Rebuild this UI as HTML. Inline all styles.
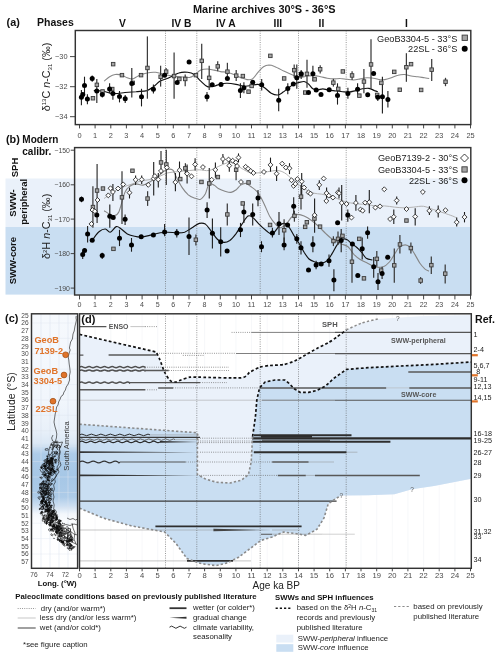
<!DOCTYPE html>
<html><head><meta charset="utf-8"><title>Figure</title>
<style>html,body{margin:0;padding:0;background:#fff}svg{display:block}</style></head>
<body>
<svg width="500" height="656" viewBox="0 0 500 656" font-family='"Liberation Sans", sans-serif'>
<rect width="500" height="656" fill="#fff"/>
<text x="264.3" y="12.9" font-size="10.9" text-anchor="middle" font-weight="bold" fill="#111" >Marine archives 30°S - 36°S</text>
<text x="6.6" y="25.5" font-size="10.8" text-anchor="start" font-weight="bold" fill="#111" >(a)</text>
<text x="37.0" y="25.5" font-size="10.5" text-anchor="start" font-weight="bold" fill="#111" >Phases</text>
<text x="122.4" y="27.2" font-size="10.3" text-anchor="middle" font-weight="bold" fill="#111" >V</text>
<text x="181.4" y="27.2" font-size="10.3" text-anchor="middle" font-weight="bold" fill="#111" >IV B</text>
<text x="225.8" y="27.2" font-size="10.3" text-anchor="middle" font-weight="bold" fill="#111" >IV A</text>
<text x="277.9" y="27.2" font-size="10.3" text-anchor="middle" font-weight="bold" fill="#111" >III</text>
<text x="321.4" y="27.2" font-size="10.3" text-anchor="middle" font-weight="bold" fill="#111" >II</text>
<text x="406.5" y="27.2" font-size="10.3" text-anchor="middle" font-weight="bold" fill="#111" >I</text>
<line x1="165.5" y1="30.5" x2="165.5" y2="124.6" stroke="#555" stroke-width="0.6" stroke-dasharray="1 1.3"/>
<line x1="196.8" y1="30.5" x2="196.8" y2="124.6" stroke="#555" stroke-width="0.6" stroke-dasharray="1 1.3"/>
<line x1="260.2" y1="30.5" x2="260.2" y2="124.6" stroke="#555" stroke-width="0.6" stroke-dasharray="1 1.3"/>
<line x1="298.5" y1="30.5" x2="298.5" y2="124.6" stroke="#555" stroke-width="0.6" stroke-dasharray="1 1.3"/>
<line x1="346.2" y1="30.5" x2="346.2" y2="124.6" stroke="#555" stroke-width="0.6" stroke-dasharray="1 1.3"/>
<path d="M104.1 81.1C105.0 80.4 107.8 77.8 109.6 76.7C111.4 75.6 113.1 74.8 115.1 74.5C117.2 74.2 119.9 74.6 121.9 75.2C123.9 75.7 125.4 77.2 127.2 77.8C129.0 78.4 130.9 79.2 132.7 78.9C134.5 78.6 135.8 77.0 138.2 76.0C140.6 75.1 144.1 73.6 147.0 73.0C149.9 72.3 152.9 72.0 155.8 72.3C158.7 72.6 161.7 73.9 164.6 74.5C167.5 75.1 170.8 75.7 173.4 76.0C176.0 76.4 177.3 76.5 180.0 76.7C182.7 76.9 187.4 77.6 189.8 77.4C192.2 77.1 192.4 76.4 194.2 75.2C196.0 74.0 198.6 71.1 200.8 70.1C203.0 69.1 205.2 69.0 207.4 69.0C209.6 69.0 211.8 69.7 214.0 70.1C216.2 70.5 218.4 71.3 220.6 71.6C222.8 72.0 225.0 71.8 227.2 72.3C229.4 72.8 231.6 73.7 233.8 74.5C236.0 75.3 238.2 76.5 240.4 77.4C242.6 78.2 245.0 79.3 247.0 79.6C249.0 79.8 250.7 80.1 252.5 78.9C254.3 77.7 256.2 74.3 258.0 72.3C259.8 70.3 261.7 68.0 263.5 66.8C265.3 65.6 267.2 65.1 269.0 65.0C270.8 65.0 272.1 65.4 274.5 66.4C276.9 67.3 280.7 69.5 283.2 70.8C285.7 72.0 287.8 73.0 289.8 73.8C291.8 74.7 293.5 75.5 295.3 76.0C297.1 76.6 298.8 77.4 300.8 77.4C302.8 77.4 305.2 76.3 307.4 76.0C309.6 75.8 311.8 75.5 314.0 75.6C316.2 75.7 318.4 76.3 320.6 76.7C322.8 77.1 325.0 77.9 327.2 78.2C329.4 78.6 331.6 78.9 333.8 78.9C336.0 78.9 338.2 78.4 340.4 78.5C342.6 78.5 344.8 79.1 347.0 79.3C349.2 79.6 351.4 80.1 353.6 80.0C355.8 79.9 358.0 79.3 360.2 78.9C362.4 78.5 364.6 77.9 366.8 77.8C369.0 77.7 371.2 78.0 373.4 78.2C375.6 78.5 378.1 79.3 380.0 79.6C381.9 79.8 382.9 79.9 384.8 79.6C386.7 79.3 389.2 78.5 391.4 77.8C393.6 77.1 395.8 75.7 398.0 75.2C400.2 74.6 402.4 74.4 404.6 74.5C406.8 74.7 409.0 75.7 411.2 76.0C413.4 76.4 415.6 76.4 417.8 76.7C420.0 77.0 422.5 77.5 424.4 77.8C426.3 78.1 428.4 78.4 429.2 78.5" fill="none" stroke="#888" stroke-width="1.1"/>
<path d="M93.8 90.6C95.3 90.6 99.8 90.5 103.0 91.0C106.2 91.5 109.2 93.4 112.9 93.6C116.6 93.9 121.2 92.9 125.0 92.5C128.9 92.2 132.3 92.0 136.0 91.7C139.7 91.3 144.1 91.4 147.0 90.6C149.9 89.7 151.4 88.2 153.6 86.6C155.8 85.0 157.6 82.6 160.2 81.1C162.8 79.6 165.9 79.2 169.0 77.8C172.1 76.4 175.7 73.9 178.8 73.0C181.9 72.0 185.0 72.0 187.6 72.3C190.2 72.6 192.0 73.0 194.2 74.5C196.4 76.0 198.6 79.1 200.8 81.1C203.0 83.1 205.2 85.8 207.4 86.6C209.6 87.4 211.8 86.6 214.0 86.2C216.2 85.7 218.4 84.4 220.6 84.0C222.8 83.5 224.6 83.2 227.2 83.3C229.8 83.4 233.1 83.9 236.0 84.4C238.9 84.9 242.2 86.0 244.8 86.2C247.4 86.3 249.2 85.8 251.4 85.5C253.6 85.2 255.8 84.0 258.0 84.4C260.2 84.8 262.4 86.2 264.6 87.7C266.8 89.2 269.0 92.0 271.2 93.2C273.4 94.4 275.8 95.2 277.8 95.0C279.8 94.8 281.5 93.2 283.2 92.1C284.9 91.0 286.1 89.6 287.8 88.4C289.5 87.1 291.5 85.4 293.3 84.4C295.1 83.5 296.8 83.1 298.6 82.6C300.4 82.2 302.5 81.3 304.1 81.5C305.8 81.8 307.0 82.8 308.5 84.0C310.0 85.2 311.4 87.8 312.9 88.8C314.4 89.8 315.7 89.9 317.3 89.9C319.0 89.9 321.0 88.8 322.8 88.8C324.6 88.8 326.1 89.8 328.3 90.1C330.5 90.5 333.6 90.7 336.0 91.0C338.4 91.3 340.4 91.5 342.6 91.7C344.8 91.9 347.0 92.3 349.2 92.1C351.4 91.9 353.6 91.1 355.8 90.6C358.0 90.0 360.2 89.2 362.4 88.8C364.6 88.4 367.0 88.1 369.0 88.4C371.0 88.7 373.0 90.0 374.5 90.6C376.0 91.1 377.3 91.5 377.8 91.7" fill="none" stroke="#111" stroke-width="1.15"/>
<line x1="96.8" y1="78.9" x2="96.8" y2="103.1" stroke="#3c3c3c" stroke-width="1.25"/>
<line x1="147.4" y1="36.4" x2="147.4" y2="98.7" stroke="#3c3c3c" stroke-width="1.25"/>
<line x1="160.6" y1="65.7" x2="160.6" y2="86.6" stroke="#3c3c3c" stroke-width="1.25"/>
<line x1="166.1" y1="67.9" x2="166.1" y2="75.6" stroke="#3c3c3c" stroke-width="1.25"/>
<line x1="174.1" y1="52.5" x2="174.1" y2="98.7" stroke="#3c3c3c" stroke-width="1.25"/>
<line x1="185.2" y1="74.5" x2="185.2" y2="86.2" stroke="#3c3c3c" stroke-width="1.25"/>
<line x1="201.7" y1="43.7" x2="201.7" y2="78.9" stroke="#3c3c3c" stroke-width="1.25"/>
<line x1="209.2" y1="65.7" x2="209.2" y2="89.9" stroke="#3c3c3c" stroke-width="1.25"/>
<line x1="217.7" y1="61.3" x2="217.7" y2="71.2" stroke="#3c3c3c" stroke-width="1.25"/>
<line x1="227.4" y1="62.8" x2="227.4" y2="78.9" stroke="#3c3c3c" stroke-width="1.25"/>
<line x1="236.2" y1="70.1" x2="236.2" y2="81.1" stroke="#3c3c3c" stroke-width="1.25"/>
<line x1="294.2" y1="64.6" x2="294.2" y2="77.8" stroke="#3c3c3c" stroke-width="1.25"/>
<line x1="301.2" y1="70.1" x2="301.2" y2="78.9" stroke="#3c3c3c" stroke-width="1.25"/>
<line x1="307.0" y1="59.8" x2="307.0" y2="87.7" stroke="#3c3c3c" stroke-width="1.25"/>
<line x1="320.2" y1="65.3" x2="320.2" y2="73.4" stroke="#3c3c3c" stroke-width="1.25"/>
<line x1="333.4" y1="78.9" x2="333.4" y2="86.6" stroke="#3c3c3c" stroke-width="1.25"/>
<line x1="352.1" y1="71.2" x2="352.1" y2="80.0" stroke="#3c3c3c" stroke-width="1.25"/>
<line x1="363.9" y1="69.0" x2="363.9" y2="93.2" stroke="#3c3c3c" stroke-width="1.25"/>
<line x1="371.0" y1="39.3" x2="371.0" y2="88.8" stroke="#3c3c3c" stroke-width="1.25"/>
<line x1="406.4" y1="53.2" x2="406.4" y2="81.8" stroke="#3c3c3c" stroke-width="1.25"/>
<line x1="431.7" y1="59.1" x2="431.7" y2="81.1" stroke="#3c3c3c" stroke-width="1.25"/>
<line x1="445.5" y1="77.8" x2="445.5" y2="86.2" stroke="#3c3c3c" stroke-width="1.25"/>
<line x1="81.4" y1="89.9" x2="81.4" y2="105.3" stroke="#1c1c1c" stroke-width="1.1"/>
<line x1="84.5" y1="76.7" x2="84.5" y2="93.2" stroke="#1c1c1c" stroke-width="1.1"/>
<line x1="87.4" y1="94.3" x2="87.4" y2="104.2" stroke="#1c1c1c" stroke-width="1.1"/>
<line x1="92.2" y1="75.6" x2="92.2" y2="81.8" stroke="#1c1c1c" stroke-width="1.1"/>
<line x1="102.3" y1="91.0" x2="102.3" y2="97.6" stroke="#1c1c1c" stroke-width="1.1"/>
<line x1="109.6" y1="83.3" x2="109.6" y2="93.2" stroke="#1c1c1c" stroke-width="1.1"/>
<line x1="112.9" y1="87.7" x2="112.9" y2="99.8" stroke="#1c1c1c" stroke-width="1.1"/>
<line x1="119.5" y1="91.0" x2="119.5" y2="102.4" stroke="#1c1c1c" stroke-width="1.1"/>
<line x1="125.2" y1="95.0" x2="125.2" y2="103.1" stroke="#1c1c1c" stroke-width="1.1"/>
<line x1="131.8" y1="67.9" x2="131.8" y2="97.6" stroke="#1c1c1c" stroke-width="1.1"/>
<line x1="141.5" y1="88.8" x2="141.5" y2="106.4" stroke="#1c1c1c" stroke-width="1.1"/>
<line x1="153.4" y1="84.4" x2="153.4" y2="93.6" stroke="#1c1c1c" stroke-width="1.1"/>
<line x1="207.0" y1="92.1" x2="207.0" y2="101.6" stroke="#1c1c1c" stroke-width="1.1"/>
<line x1="240.4" y1="83.3" x2="240.4" y2="98.0" stroke="#1c1c1c" stroke-width="1.1"/>
<line x1="243.9" y1="82.2" x2="243.9" y2="93.2" stroke="#1c1c1c" stroke-width="1.1"/>
<line x1="261.7" y1="78.9" x2="261.7" y2="90.6" stroke="#1c1c1c" stroke-width="1.1"/>
<line x1="278.7" y1="88.8" x2="278.7" y2="111.2" stroke="#1c1c1c" stroke-width="1.1"/>
<line x1="287.8" y1="83.3" x2="287.8" y2="94.3" stroke="#1c1c1c" stroke-width="1.1"/>
<line x1="296.8" y1="64.6" x2="296.8" y2="88.8" stroke="#1c1c1c" stroke-width="1.1"/>
<line x1="312.9" y1="65.7" x2="312.9" y2="81.1" stroke="#1c1c1c" stroke-width="1.1"/>
<line x1="337.5" y1="83.3" x2="337.5" y2="104.6" stroke="#1c1c1c" stroke-width="1.1"/>
<line x1="347.9" y1="87.7" x2="347.9" y2="98.7" stroke="#1c1c1c" stroke-width="1.1"/>
<line x1="357.6" y1="83.3" x2="357.6" y2="94.3" stroke="#1c1c1c" stroke-width="1.1"/>
<line x1="377.8" y1="94.3" x2="377.8" y2="100.9" stroke="#1c1c1c" stroke-width="1.1"/>
<line x1="382.4" y1="76.7" x2="382.4" y2="113.4" stroke="#1c1c1c" stroke-width="1.1"/>
<line x1="387.9" y1="91.0" x2="387.9" y2="107.5" stroke="#1c1c1c" stroke-width="1.1"/>
<rect x="91.2" y="96.5" width="3.5" height="3.5" fill="#a6a6a6" stroke="#3a3a3a" stroke-width="0.9"/>
<rect x="95.1" y="83.1" width="3.5" height="3.5" fill="#a6a6a6" stroke="#3a3a3a" stroke-width="0.9"/>
<rect x="100.8" y="89.7" width="3.5" height="3.5" fill="#a6a6a6" stroke="#3a3a3a" stroke-width="0.9"/>
<rect x="111.4" y="62.4" width="3.5" height="3.5" fill="#a6a6a6" stroke="#3a3a3a" stroke-width="0.9"/>
<rect x="110.5" y="87.3" width="3.5" height="3.5" fill="#a6a6a6" stroke="#3a3a3a" stroke-width="0.9"/>
<rect x="120.2" y="73.4" width="3.5" height="3.5" fill="#a6a6a6" stroke="#3a3a3a" stroke-width="0.9"/>
<rect x="131.0" y="81.1" width="3.5" height="3.5" fill="#a6a6a6" stroke="#3a3a3a" stroke-width="0.9"/>
<rect x="139.3" y="73.4" width="3.5" height="3.5" fill="#a6a6a6" stroke="#3a3a3a" stroke-width="0.9"/>
<rect x="145.7" y="66.2" width="3.5" height="3.5" fill="#a6a6a6" stroke="#3a3a3a" stroke-width="0.9"/>
<rect x="158.9" y="75.0" width="3.5" height="3.5" fill="#a6a6a6" stroke="#3a3a3a" stroke-width="0.9"/>
<rect x="164.4" y="69.9" width="3.5" height="3.5" fill="#a6a6a6" stroke="#3a3a3a" stroke-width="0.9"/>
<rect x="172.3" y="74.3" width="3.5" height="3.5" fill="#a6a6a6" stroke="#3a3a3a" stroke-width="0.9"/>
<rect x="177.6" y="77.2" width="3.5" height="3.5" fill="#a6a6a6" stroke="#3a3a3a" stroke-width="0.9"/>
<rect x="183.5" y="77.2" width="3.5" height="3.5" fill="#a6a6a6" stroke="#3a3a3a" stroke-width="0.9"/>
<rect x="194.2" y="73.4" width="3.5" height="3.5" fill="#a6a6a6" stroke="#3a3a3a" stroke-width="0.9"/>
<rect x="200.0" y="59.1" width="3.5" height="3.5" fill="#a6a6a6" stroke="#3a3a3a" stroke-width="0.9"/>
<rect x="207.4" y="76.1" width="3.5" height="3.5" fill="#a6a6a6" stroke="#3a3a3a" stroke-width="0.9"/>
<rect x="216.0" y="64.6" width="3.5" height="3.5" fill="#a6a6a6" stroke="#3a3a3a" stroke-width="0.9"/>
<rect x="225.7" y="69.9" width="3.5" height="3.5" fill="#a6a6a6" stroke="#3a3a3a" stroke-width="0.9"/>
<rect x="234.5" y="73.9" width="3.5" height="3.5" fill="#a6a6a6" stroke="#3a3a3a" stroke-width="0.9"/>
<rect x="241.1" y="74.3" width="3.5" height="3.5" fill="#a6a6a6" stroke="#3a3a3a" stroke-width="0.9"/>
<rect x="246.8" y="89.9" width="3.5" height="3.5" fill="#a6a6a6" stroke="#3a3a3a" stroke-width="0.9"/>
<rect x="249.9" y="84.2" width="3.5" height="3.5" fill="#a6a6a6" stroke="#3a3a3a" stroke-width="0.9"/>
<rect x="268.6" y="54.1" width="3.5" height="3.5" fill="#a6a6a6" stroke="#3a3a3a" stroke-width="0.9"/>
<rect x="282.4" y="76.7" width="3.5" height="3.5" fill="#a6a6a6" stroke="#3a3a3a" stroke-width="0.9"/>
<rect x="292.5" y="68.4" width="3.5" height="3.5" fill="#a6a6a6" stroke="#3a3a3a" stroke-width="0.9"/>
<rect x="299.5" y="73.0" width="3.5" height="3.5" fill="#a6a6a6" stroke="#3a3a3a" stroke-width="0.9"/>
<rect x="305.2" y="72.1" width="3.5" height="3.5" fill="#a6a6a6" stroke="#3a3a3a" stroke-width="0.9"/>
<rect x="303.5" y="90.8" width="3.5" height="3.5" fill="#a6a6a6" stroke="#3a3a3a" stroke-width="0.9"/>
<rect x="312.9" y="77.6" width="3.5" height="3.5" fill="#a6a6a6" stroke="#3a3a3a" stroke-width="0.9"/>
<rect x="318.4" y="67.5" width="3.5" height="3.5" fill="#a6a6a6" stroke="#3a3a3a" stroke-width="0.9"/>
<rect x="331.6" y="80.9" width="3.5" height="3.5" fill="#a6a6a6" stroke="#3a3a3a" stroke-width="0.9"/>
<rect x="336.5" y="87.1" width="3.5" height="3.5" fill="#a6a6a6" stroke="#3a3a3a" stroke-width="0.9"/>
<rect x="341.1" y="69.7" width="3.5" height="3.5" fill="#a6a6a6" stroke="#3a3a3a" stroke-width="0.9"/>
<rect x="350.3" y="73.7" width="3.5" height="3.5" fill="#a6a6a6" stroke="#3a3a3a" stroke-width="0.9"/>
<rect x="357.6" y="93.9" width="3.5" height="3.5" fill="#a6a6a6" stroke="#3a3a3a" stroke-width="0.9"/>
<rect x="362.2" y="79.8" width="3.5" height="3.5" fill="#a6a6a6" stroke="#3a3a3a" stroke-width="0.9"/>
<rect x="369.3" y="62.7" width="3.5" height="3.5" fill="#a6a6a6" stroke="#3a3a3a" stroke-width="0.9"/>
<rect x="375.4" y="93.2" width="3.5" height="3.5" fill="#a6a6a6" stroke="#3a3a3a" stroke-width="0.9"/>
<rect x="379.6" y="81.1" width="3.5" height="3.5" fill="#a6a6a6" stroke="#3a3a3a" stroke-width="0.9"/>
<rect x="392.5" y="70.1" width="3.5" height="3.5" fill="#a6a6a6" stroke="#3a3a3a" stroke-width="0.9"/>
<rect x="398.0" y="88.0" width="3.5" height="3.5" fill="#a6a6a6" stroke="#3a3a3a" stroke-width="0.9"/>
<rect x="404.6" y="65.5" width="3.5" height="3.5" fill="#a6a6a6" stroke="#3a3a3a" stroke-width="0.9"/>
<rect x="409.3" y="62.4" width="3.5" height="3.5" fill="#a6a6a6" stroke="#3a3a3a" stroke-width="0.9"/>
<rect x="419.4" y="88.2" width="3.5" height="3.5" fill="#a6a6a6" stroke="#3a3a3a" stroke-width="0.9"/>
<rect x="429.9" y="67.9" width="3.5" height="3.5" fill="#a6a6a6" stroke="#3a3a3a" stroke-width="0.9"/>
<rect x="443.8" y="80.0" width="3.5" height="3.5" fill="#a6a6a6" stroke="#3a3a3a" stroke-width="0.9"/>
<circle cx="81.4" cy="97.2" r="2.5" fill="#000"/>
<circle cx="82.8" cy="94.5" r="2.5" fill="#000"/>
<circle cx="84.5" cy="85.5" r="2.5" fill="#000"/>
<circle cx="87.4" cy="99.1" r="2.5" fill="#000"/>
<circle cx="92.2" cy="78.5" r="2.5" fill="#000"/>
<circle cx="96.8" cy="91.0" r="2.5" fill="#000"/>
<circle cx="102.3" cy="94.5" r="2.5" fill="#000"/>
<circle cx="109.6" cy="89.0" r="2.5" fill="#000"/>
<circle cx="112.9" cy="93.6" r="2.5" fill="#000"/>
<circle cx="119.5" cy="96.5" r="2.5" fill="#000"/>
<circle cx="125.2" cy="98.7" r="2.5" fill="#000"/>
<circle cx="131.8" cy="83.5" r="2.5" fill="#000"/>
<circle cx="141.5" cy="96.7" r="2.5" fill="#000"/>
<circle cx="153.4" cy="89.2" r="2.5" fill="#000"/>
<circle cx="164.6" cy="75.2" r="2.5" fill="#000"/>
<circle cx="177.2" cy="82.6" r="2.5" fill="#000"/>
<circle cx="189.1" cy="62.0" r="2.5" fill="#000"/>
<circle cx="207.0" cy="96.7" r="2.5" fill="#000"/>
<circle cx="212.2" cy="84.8" r="2.5" fill="#000"/>
<circle cx="221.0" cy="84.4" r="2.5" fill="#000"/>
<circle cx="227.4" cy="78.5" r="2.5" fill="#000"/>
<circle cx="240.4" cy="90.6" r="2.5" fill="#000"/>
<circle cx="243.9" cy="87.7" r="2.5" fill="#000"/>
<circle cx="252.7" cy="82.2" r="2.5" fill="#000"/>
<circle cx="261.7" cy="84.8" r="2.5" fill="#000"/>
<circle cx="278.7" cy="100.2" r="2.5" fill="#000"/>
<circle cx="287.8" cy="88.4" r="2.5" fill="#000"/>
<circle cx="293.3" cy="84.0" r="2.5" fill="#000"/>
<circle cx="296.8" cy="77.8" r="2.5" fill="#000"/>
<circle cx="301.2" cy="73.8" r="2.5" fill="#000"/>
<circle cx="308.5" cy="92.5" r="2.5" fill="#000"/>
<circle cx="312.9" cy="73.8" r="2.5" fill="#000"/>
<circle cx="316.2" cy="89.9" r="2.5" fill="#000"/>
<circle cx="321.0" cy="94.5" r="2.5" fill="#000"/>
<circle cx="329.2" cy="89.7" r="2.5" fill="#000"/>
<circle cx="337.5" cy="95.4" r="2.5" fill="#000"/>
<circle cx="347.9" cy="93.4" r="2.5" fill="#000"/>
<circle cx="357.6" cy="89.2" r="2.5" fill="#000"/>
<circle cx="367.7" cy="94.7" r="2.5" fill="#000"/>
<circle cx="373.6" cy="73.4" r="2.5" fill="#000"/>
<circle cx="377.8" cy="97.2" r="2.5" fill="#000"/>
<circle cx="382.4" cy="96.7" r="2.5" fill="#000"/>
<circle cx="387.9" cy="99.4" r="2.5" fill="#000"/>
<rect x="75.3" y="30.5" width="395.5" height="94.1" fill="none" stroke="#333" stroke-width="1.45"/>
<line x1="70.0" y1="56.6" x2="75.3" y2="56.6" stroke="#333" stroke-width="0.9"/>
<text x="67.6" y="59.3" font-size="7.4" text-anchor="end" font-weight="normal" fill="#4a4a4a" >−30</text>
<line x1="70.0" y1="86.7" x2="75.3" y2="86.7" stroke="#333" stroke-width="0.9"/>
<text x="67.6" y="89.4" font-size="7.4" text-anchor="end" font-weight="normal" fill="#4a4a4a" >−32</text>
<line x1="70.0" y1="116.7" x2="75.3" y2="116.7" stroke="#333" stroke-width="0.9"/>
<text x="67.6" y="119.4" font-size="7.4" text-anchor="end" font-weight="normal" fill="#4a4a4a" >−34</text>
<line x1="79.5" y1="124.6" x2="79.5" y2="128.4" stroke="#333" stroke-width="0.9"/>
<text x="79.5" y="137.9" font-size="7.4" text-anchor="middle" font-weight="normal" fill="#4a4a4a" >0</text>
<line x1="95.1" y1="124.6" x2="95.1" y2="128.4" stroke="#333" stroke-width="0.9"/>
<text x="95.1" y="137.9" font-size="7.4" text-anchor="middle" font-weight="normal" fill="#4a4a4a" >1</text>
<line x1="110.8" y1="124.6" x2="110.8" y2="128.4" stroke="#333" stroke-width="0.9"/>
<text x="110.8" y="137.9" font-size="7.4" text-anchor="middle" font-weight="normal" fill="#4a4a4a" >2</text>
<line x1="126.4" y1="124.6" x2="126.4" y2="128.4" stroke="#333" stroke-width="0.9"/>
<text x="126.4" y="137.9" font-size="7.4" text-anchor="middle" font-weight="normal" fill="#4a4a4a" >3</text>
<line x1="142.1" y1="124.6" x2="142.1" y2="128.4" stroke="#333" stroke-width="0.9"/>
<text x="142.1" y="137.9" font-size="7.4" text-anchor="middle" font-weight="normal" fill="#4a4a4a" >4</text>
<line x1="157.7" y1="124.6" x2="157.7" y2="128.4" stroke="#333" stroke-width="0.9"/>
<text x="157.7" y="137.9" font-size="7.4" text-anchor="middle" font-weight="normal" fill="#4a4a4a" >5</text>
<line x1="173.3" y1="124.6" x2="173.3" y2="128.4" stroke="#333" stroke-width="0.9"/>
<text x="173.3" y="137.9" font-size="7.4" text-anchor="middle" font-weight="normal" fill="#4a4a4a" >6</text>
<line x1="189.0" y1="124.6" x2="189.0" y2="128.4" stroke="#333" stroke-width="0.9"/>
<text x="189.0" y="137.9" font-size="7.4" text-anchor="middle" font-weight="normal" fill="#4a4a4a" >7</text>
<line x1="204.6" y1="124.6" x2="204.6" y2="128.4" stroke="#333" stroke-width="0.9"/>
<text x="204.6" y="137.9" font-size="7.4" text-anchor="middle" font-weight="normal" fill="#4a4a4a" >8</text>
<line x1="220.3" y1="124.6" x2="220.3" y2="128.4" stroke="#333" stroke-width="0.9"/>
<text x="220.3" y="137.9" font-size="7.4" text-anchor="middle" font-weight="normal" fill="#4a4a4a" >9</text>
<line x1="235.9" y1="124.6" x2="235.9" y2="128.4" stroke="#333" stroke-width="0.9"/>
<text x="235.9" y="137.9" font-size="7.4" text-anchor="middle" font-weight="normal" fill="#4a4a4a" >10</text>
<line x1="251.5" y1="124.6" x2="251.5" y2="128.4" stroke="#333" stroke-width="0.9"/>
<text x="251.5" y="137.9" font-size="7.4" text-anchor="middle" font-weight="normal" fill="#4a4a4a" >11</text>
<line x1="267.2" y1="124.6" x2="267.2" y2="128.4" stroke="#333" stroke-width="0.9"/>
<text x="267.2" y="137.9" font-size="7.4" text-anchor="middle" font-weight="normal" fill="#4a4a4a" >12</text>
<line x1="282.8" y1="124.6" x2="282.8" y2="128.4" stroke="#333" stroke-width="0.9"/>
<text x="282.8" y="137.9" font-size="7.4" text-anchor="middle" font-weight="normal" fill="#4a4a4a" >13</text>
<line x1="298.5" y1="124.6" x2="298.5" y2="128.4" stroke="#333" stroke-width="0.9"/>
<text x="298.5" y="137.9" font-size="7.4" text-anchor="middle" font-weight="normal" fill="#4a4a4a" >14</text>
<line x1="314.1" y1="124.6" x2="314.1" y2="128.4" stroke="#333" stroke-width="0.9"/>
<text x="314.1" y="137.9" font-size="7.4" text-anchor="middle" font-weight="normal" fill="#4a4a4a" >15</text>
<line x1="329.7" y1="124.6" x2="329.7" y2="128.4" stroke="#333" stroke-width="0.9"/>
<text x="329.7" y="137.9" font-size="7.4" text-anchor="middle" font-weight="normal" fill="#4a4a4a" >16</text>
<line x1="345.4" y1="124.6" x2="345.4" y2="128.4" stroke="#333" stroke-width="0.9"/>
<text x="345.4" y="137.9" font-size="7.4" text-anchor="middle" font-weight="normal" fill="#4a4a4a" >17</text>
<line x1="361.0" y1="124.6" x2="361.0" y2="128.4" stroke="#333" stroke-width="0.9"/>
<text x="361.0" y="137.9" font-size="7.4" text-anchor="middle" font-weight="normal" fill="#4a4a4a" >18</text>
<line x1="376.7" y1="124.6" x2="376.7" y2="128.4" stroke="#333" stroke-width="0.9"/>
<text x="376.7" y="137.9" font-size="7.4" text-anchor="middle" font-weight="normal" fill="#4a4a4a" >19</text>
<line x1="392.3" y1="124.6" x2="392.3" y2="128.4" stroke="#333" stroke-width="0.9"/>
<text x="392.3" y="137.9" font-size="7.4" text-anchor="middle" font-weight="normal" fill="#4a4a4a" >20</text>
<line x1="407.9" y1="124.6" x2="407.9" y2="128.4" stroke="#333" stroke-width="0.9"/>
<text x="407.9" y="137.9" font-size="7.4" text-anchor="middle" font-weight="normal" fill="#4a4a4a" >21</text>
<line x1="423.6" y1="124.6" x2="423.6" y2="128.4" stroke="#333" stroke-width="0.9"/>
<text x="423.6" y="137.9" font-size="7.4" text-anchor="middle" font-weight="normal" fill="#4a4a4a" >22</text>
<line x1="439.2" y1="124.6" x2="439.2" y2="128.4" stroke="#333" stroke-width="0.9"/>
<text x="439.2" y="137.9" font-size="7.4" text-anchor="middle" font-weight="normal" fill="#4a4a4a" >23</text>
<line x1="454.9" y1="124.6" x2="454.9" y2="128.4" stroke="#333" stroke-width="0.9"/>
<text x="454.9" y="137.9" font-size="7.4" text-anchor="middle" font-weight="normal" fill="#4a4a4a" >24</text>
<line x1="470.5" y1="124.6" x2="470.5" y2="128.4" stroke="#333" stroke-width="0.9"/>
<text x="470.5" y="137.9" font-size="7.4" text-anchor="middle" font-weight="normal" fill="#4a4a4a" >25</text>
<text transform="translate(49.8 77.0) rotate(-90)" font-size="10.8" text-anchor="middle" font-weight="normal" fill="#222" >δ<tspan font-size="6" dy="-3.5">13</tspan><tspan dy="3.5">C </tspan><tspan font-style="italic">n</tspan>-C<tspan font-size="6" dy="2">31</tspan><tspan dy="-2"> (‰)</tspan></text>
<text x="457.4" y="41.6" font-size="9.2" text-anchor="end" font-weight="normal" fill="#222" >GeoB3304-5 - 33°S</text>
<text x="457.4" y="51.9" font-size="9.2" text-anchor="end" font-weight="normal" fill="#222" >22SL - 36°S</text>
<rect x="462.1" y="35.1" width="5.3" height="5.3" fill="#a6a6a6" stroke="#3a3a3a" stroke-width="0.9"/>
<circle cx="464.7" cy="48.8" r="3.0" fill="#000"/>
<rect x="5.5" y="178.5" width="465.3" height="48.5" fill="#eaf1fa"/>
<rect x="5.5" y="227" width="465.3" height="67.6" fill="#c9def2"/>
<line x1="165.5" y1="147.6" x2="165.5" y2="295.0" stroke="#555" stroke-width="0.6" stroke-dasharray="1 1.3"/>
<line x1="196.8" y1="147.6" x2="196.8" y2="295.0" stroke="#555" stroke-width="0.6" stroke-dasharray="1 1.3"/>
<line x1="260.2" y1="147.6" x2="260.2" y2="295.0" stroke="#555" stroke-width="0.6" stroke-dasharray="1 1.3"/>
<line x1="298.5" y1="147.6" x2="298.5" y2="295.0" stroke="#555" stroke-width="0.6" stroke-dasharray="1 1.3"/>
<line x1="346.2" y1="147.6" x2="346.2" y2="295.0" stroke="#555" stroke-width="0.6" stroke-dasharray="1 1.3"/>
<path d="M104.1 198.5C105.2 197.8 108.2 195.6 110.2 194.1C112.3 192.7 114.1 191.2 116.3 190.0C118.6 188.8 121.2 187.8 123.7 186.8C126.1 185.9 128.1 185.4 131.0 184.4C133.8 183.4 137.5 181.8 140.7 181.0C144.0 180.2 147.2 180.3 150.5 179.5C153.7 178.7 157.4 177.2 160.2 176.1C163.1 175.0 164.7 173.7 167.6 172.9C170.4 172.2 173.7 172.1 177.3 171.7C181.0 171.3 185.9 170.8 189.5 170.5C193.2 170.2 196.0 169.8 199.3 169.8C202.5 169.8 205.8 171.1 209.0 170.5C212.3 169.9 215.9 167.6 218.8 166.3C221.6 165.1 224.1 163.8 226.1 163.2C228.1 162.5 229.1 162.0 231.0 162.4C232.8 162.8 235.0 164.5 237.1 165.6C239.1 166.7 240.9 168.0 243.2 169.3C245.4 170.5 248.0 172.3 250.5 172.9C252.9 173.5 255.0 173.1 257.8 172.9C260.7 172.7 264.3 172.1 267.6 171.7C270.8 171.3 274.5 170.3 277.3 170.5C280.2 170.7 282.2 171.5 284.6 172.9C287.1 174.3 289.5 177.0 292.0 179.0C294.4 181.1 296.8 183.3 299.3 185.1C301.7 187.0 304.1 188.7 306.6 190.0C309.0 191.3 311.5 192.5 313.9 193.2C316.3 193.9 318.8 193.7 321.2 194.1C323.7 194.6 326.1 195.0 328.5 195.6C331.0 196.3 333.4 197.2 335.9 198.0C338.3 198.9 340.7 200.2 343.2 201.0C345.6 201.8 348.0 202.4 350.5 202.9C352.9 203.4 355.0 203.6 357.8 203.9C360.7 204.2 364.7 204.3 367.6 204.6C370.4 205.0 372.1 205.7 374.9 205.9C377.7 206.1 381.3 205.7 384.5 205.9C387.7 206.1 391.0 206.7 394.3 207.1C397.5 207.4 400.8 207.8 404.0 207.8C407.3 207.8 410.5 207.3 413.8 207.1C417.0 206.8 420.3 205.9 423.5 206.3C426.8 206.7 430.0 208.5 433.3 209.5C436.5 210.6 439.8 211.6 443.0 212.7C446.3 213.8 450.5 215.2 452.8 216.1C455.1 217.0 456.1 217.7 456.7 218.0" fill="none" stroke="#b2b2b2" stroke-width="1.0"/>
<path d="M104.1 210.7C105.0 211.2 107.4 212.8 109.0 213.7C110.7 214.5 112.3 215.9 113.9 215.6C115.5 215.3 117.0 215.8 118.8 212.0C120.6 208.1 123.0 196.7 124.9 192.4C126.7 188.2 127.9 187.8 129.8 186.3C131.6 184.9 133.6 184.1 135.9 183.9C138.1 183.7 140.7 185.5 143.2 185.1C145.6 184.7 148.0 182.9 150.5 181.5C152.9 180.0 155.4 178.4 157.8 176.6C160.2 174.8 162.7 171.6 165.1 170.5C167.6 169.3 170.6 168.7 172.4 169.8C174.3 170.8 174.5 173.6 176.1 176.6C177.7 179.6 180.2 184.5 182.2 187.6C184.2 190.6 186.3 193.1 188.3 194.9C190.3 196.6 192.4 197.3 194.4 198.0C196.4 198.8 198.7 200.0 200.5 199.3C202.3 198.5 203.9 196.2 205.4 193.7C206.8 191.1 207.6 185.3 209.0 183.9C210.4 182.5 212.3 184.3 213.9 185.1C215.5 185.9 217.0 187.8 218.8 188.8C220.6 189.8 222.8 190.6 224.9 191.2C226.9 191.8 229.1 192.6 231.0 192.4C232.8 192.2 234.2 191.2 235.9 190.0C237.5 188.8 239.1 186.2 240.7 185.1C242.4 184.0 244.0 183.2 245.6 183.4C247.2 183.6 248.5 184.8 250.5 186.3C252.5 187.8 255.6 189.6 257.8 192.4C260.0 195.3 261.9 199.3 263.9 203.4C265.9 207.5 268.0 213.3 270.0 216.8C272.0 220.4 274.3 223.0 276.1 224.9C277.9 226.7 279.1 228.1 281.0 227.8C282.8 227.5 285.2 224.8 287.1 222.9C288.9 221.1 290.1 218.3 292.0 216.8C293.8 215.4 296.0 214.5 298.0 214.4C300.1 214.3 301.9 215.1 304.1 216.1C306.4 217.1 309.0 218.7 311.5 220.5C313.9 222.2 316.3 224.3 318.8 226.6C321.2 228.8 323.7 231.7 326.1 233.9C328.5 236.1 331.0 238.4 333.4 240.0C335.9 241.6 338.3 242.5 340.7 243.7C343.2 244.8 345.8 245.0 348.0 246.8C350.3 248.7 352.1 252.5 354.1 254.6C356.2 256.7 358.0 258.1 360.2 259.5C362.5 260.9 365.1 262.0 367.6 263.2C370.0 264.4 372.3 266.2 374.9 266.8C377.5 267.4 380.9 267.6 383.3 266.8C385.7 266.0 387.6 264.0 389.4 262.0C391.2 259.9 392.6 257.1 394.3 254.6C395.9 252.2 397.3 248.9 399.1 247.3C401.0 245.7 403.4 244.9 405.2 244.9C407.1 244.9 408.5 245.7 410.1 247.3C411.7 248.9 413.4 252.0 415.0 254.6C416.6 257.3 418.3 260.8 419.9 263.2C421.5 265.5 423.3 267.4 424.8 268.8C426.3 270.1 428.2 270.8 428.9 271.2" fill="none" stroke="#868686" stroke-width="1.1"/>
<path d="M93.2 238.8C94.2 237.6 97.2 233.1 99.3 231.5C101.3 229.8 103.5 228.9 105.4 229.0C107.2 229.1 108.4 232.6 110.2 232.2C112.1 231.8 114.5 227.1 116.3 226.6C118.2 226.1 119.4 227.8 121.2 229.0C123.0 230.2 125.1 232.7 127.3 233.9C129.6 235.1 132.3 235.8 134.6 236.3C137.0 236.9 138.6 237.3 141.2 237.1C143.9 236.9 147.3 235.9 150.5 235.1C153.7 234.4 157.4 233.2 160.2 232.7C163.1 232.2 164.7 232.2 167.6 232.2C170.4 232.2 174.5 232.9 177.3 232.9C180.2 232.9 182.2 233.0 184.6 232.2C187.1 231.3 189.5 229.3 192.0 227.8C194.4 226.3 197.0 224.0 199.3 223.4C201.5 222.8 203.3 222.8 205.4 224.1C207.4 225.5 209.4 228.9 211.5 231.5C213.5 234.0 215.5 237.7 217.6 239.5C219.6 241.3 221.6 242.3 223.7 242.4C225.7 242.6 227.7 241.9 229.8 240.5C231.8 239.1 233.8 236.6 235.9 233.9C237.9 231.2 239.9 227.1 242.0 224.1C244.0 221.2 246.2 217.2 248.0 216.1C249.9 215.0 251.1 216.2 252.9 217.6C254.8 218.9 256.8 222.0 259.0 224.1C261.3 226.3 264.1 229.1 266.3 230.7C268.6 232.4 270.2 234.8 272.4 233.9C274.7 233.0 277.7 227.1 279.8 225.4C281.8 223.6 283.0 223.0 284.6 223.4C286.3 223.8 287.9 225.7 289.5 227.8C291.1 230.0 292.8 233.7 294.4 236.3C296.0 239.0 297.6 241.0 299.3 243.7C300.9 246.3 302.5 249.6 304.1 252.2C305.8 254.8 307.2 257.4 309.0 259.0C310.9 260.7 313.1 261.3 315.1 262.0C317.2 262.6 319.2 263.4 321.2 263.2C323.3 263.0 325.5 262.4 327.3 260.7C329.1 259.1 330.6 256.1 332.2 253.4C333.8 250.8 335.4 247.2 337.1 244.9C338.7 242.6 340.3 240.4 342.0 239.5C343.6 238.6 345.2 238.8 346.8 239.5C348.5 240.2 350.1 242.4 351.7 243.7C353.3 245.0 355.0 245.9 356.6 247.3C358.2 248.7 359.8 250.4 361.5 252.2C363.1 254.0 364.5 257.0 366.3 258.3C368.2 259.6 371.4 259.7 372.4 260.0" fill="none" stroke="#111" stroke-width="1.15"/>
<line x1="92.9" y1="186.3" x2="92.9" y2="227.8" stroke="#3c3c3c" stroke-width="1.25"/>
<line x1="97.1" y1="163.9" x2="97.1" y2="222.9" stroke="#3c3c3c" stroke-width="1.25"/>
<line x1="122.0" y1="171.2" x2="122.0" y2="224.1" stroke="#3c3c3c" stroke-width="1.25"/>
<line x1="147.6" y1="191.2" x2="147.6" y2="205.9" stroke="#3c3c3c" stroke-width="1.25"/>
<line x1="161.0" y1="151.0" x2="161.0" y2="174.1" stroke="#3c3c3c" stroke-width="1.25"/>
<line x1="166.3" y1="149.8" x2="166.3" y2="185.1" stroke="#3c3c3c" stroke-width="1.25"/>
<line x1="185.4" y1="163.2" x2="185.4" y2="174.1" stroke="#3c3c3c" stroke-width="1.25"/>
<line x1="195.9" y1="234.6" x2="195.9" y2="245.4" stroke="#3c3c3c" stroke-width="1.25"/>
<line x1="209.3" y1="168.0" x2="209.3" y2="198.5" stroke="#3c3c3c" stroke-width="1.25"/>
<line x1="227.3" y1="203.4" x2="227.3" y2="225.4" stroke="#3c3c3c" stroke-width="1.25"/>
<line x1="236.1" y1="160.7" x2="236.1" y2="180.2" stroke="#3c3c3c" stroke-width="1.25"/>
<line x1="284.1" y1="219.3" x2="284.1" y2="242.4" stroke="#3c3c3c" stroke-width="1.25"/>
<line x1="294.4" y1="210.7" x2="294.4" y2="221.7" stroke="#3c3c3c" stroke-width="1.25"/>
<line x1="301.0" y1="185.1" x2="301.0" y2="209.5" stroke="#3c3c3c" stroke-width="1.25"/>
<line x1="333.4" y1="236.3" x2="333.4" y2="246.1" stroke="#3c3c3c" stroke-width="1.25"/>
<line x1="338.0" y1="231.5" x2="338.0" y2="244.9" stroke="#3c3c3c" stroke-width="1.25"/>
<line x1="352.0" y1="243.7" x2="352.0" y2="282.7" stroke="#3c3c3c" stroke-width="1.25"/>
<line x1="376.8" y1="251.0" x2="376.8" y2="266.8" stroke="#3c3c3c" stroke-width="1.25"/>
<line x1="394.3" y1="248.5" x2="394.3" y2="282.7" stroke="#3c3c3c" stroke-width="1.25"/>
<line x1="399.9" y1="235.1" x2="399.9" y2="253.4" stroke="#3c3c3c" stroke-width="1.25"/>
<line x1="410.9" y1="242.4" x2="410.9" y2="253.4" stroke="#3c3c3c" stroke-width="1.25"/>
<line x1="420.6" y1="277.1" x2="420.6" y2="283.9" stroke="#3c3c3c" stroke-width="1.25"/>
<line x1="431.3" y1="256.6" x2="431.3" y2="274.1" stroke="#3c3c3c" stroke-width="1.25"/>
<line x1="445.2" y1="264.4" x2="445.2" y2="283.4" stroke="#3c3c3c" stroke-width="1.25"/>
<line x1="81.5" y1="196.6" x2="81.5" y2="202.2" stroke="#1c1c1c" stroke-width="1.1"/>
<line x1="82.7" y1="251.0" x2="82.7" y2="259.0" stroke="#1c1c1c" stroke-width="1.1"/>
<line x1="87.6" y1="225.9" x2="87.6" y2="242.4" stroke="#1c1c1c" stroke-width="1.1"/>
<line x1="102.2" y1="252.7" x2="102.2" y2="259.0" stroke="#1c1c1c" stroke-width="1.1"/>
<line x1="109.8" y1="204.6" x2="109.8" y2="227.8" stroke="#1c1c1c" stroke-width="1.1"/>
<line x1="119.5" y1="229.8" x2="119.5" y2="246.1" stroke="#1c1c1c" stroke-width="1.1"/>
<line x1="125.1" y1="214.4" x2="125.1" y2="224.9" stroke="#1c1c1c" stroke-width="1.1"/>
<line x1="131.5" y1="238.0" x2="131.5" y2="251.7" stroke="#1c1c1c" stroke-width="1.1"/>
<line x1="164.6" y1="224.1" x2="164.6" y2="236.3" stroke="#1c1c1c" stroke-width="1.1"/>
<line x1="176.8" y1="229.0" x2="176.8" y2="237.6" stroke="#1c1c1c" stroke-width="1.1"/>
<line x1="189.0" y1="217.6" x2="189.0" y2="255.1" stroke="#1c1c1c" stroke-width="1.1"/>
<line x1="207.1" y1="202.2" x2="207.1" y2="218.0" stroke="#1c1c1c" stroke-width="1.1"/>
<line x1="212.4" y1="218.5" x2="212.4" y2="248.5" stroke="#1c1c1c" stroke-width="1.1"/>
<line x1="220.7" y1="227.3" x2="220.7" y2="256.6" stroke="#1c1c1c" stroke-width="1.1"/>
<line x1="240.5" y1="222.9" x2="240.5" y2="237.1" stroke="#1c1c1c" stroke-width="1.1"/>
<line x1="243.9" y1="204.6" x2="243.9" y2="222.9" stroke="#1c1c1c" stroke-width="1.1"/>
<line x1="252.7" y1="203.4" x2="252.7" y2="225.4" stroke="#1c1c1c" stroke-width="1.1"/>
<line x1="258.0" y1="190.0" x2="258.0" y2="206.3" stroke="#1c1c1c" stroke-width="1.1"/>
<line x1="261.5" y1="241.2" x2="261.5" y2="252.2" stroke="#1c1c1c" stroke-width="1.1"/>
<line x1="272.4" y1="227.8" x2="272.4" y2="237.6" stroke="#1c1c1c" stroke-width="1.1"/>
<line x1="279.0" y1="212.0" x2="279.0" y2="235.1" stroke="#1c1c1c" stroke-width="1.1"/>
<line x1="284.1" y1="237.6" x2="284.1" y2="250.2" stroke="#1c1c1c" stroke-width="1.1"/>
<line x1="293.7" y1="197.3" x2="293.7" y2="215.6" stroke="#1c1c1c" stroke-width="1.1"/>
<line x1="296.8" y1="233.9" x2="296.8" y2="243.7" stroke="#1c1c1c" stroke-width="1.1"/>
<line x1="301.0" y1="241.2" x2="301.0" y2="254.6" stroke="#1c1c1c" stroke-width="1.1"/>
<line x1="312.9" y1="236.3" x2="312.9" y2="252.2" stroke="#1c1c1c" stroke-width="1.1"/>
<line x1="316.1" y1="260.7" x2="316.1" y2="269.3" stroke="#1c1c1c" stroke-width="1.1"/>
<line x1="329.0" y1="254.6" x2="329.0" y2="266.8" stroke="#1c1c1c" stroke-width="1.1"/>
<line x1="333.9" y1="269.3" x2="333.9" y2="291.2" stroke="#1c1c1c" stroke-width="1.1"/>
<line x1="341.2" y1="229.0" x2="341.2" y2="252.2" stroke="#1c1c1c" stroke-width="1.1"/>
<line x1="347.8" y1="209.5" x2="347.8" y2="221.7" stroke="#1c1c1c" stroke-width="1.1"/>
<line x1="362.2" y1="237.6" x2="362.2" y2="259.5" stroke="#1c1c1c" stroke-width="1.1"/>
<line x1="367.6" y1="226.6" x2="367.6" y2="238.8" stroke="#1c1c1c" stroke-width="1.1"/>
<line x1="373.7" y1="257.1" x2="373.7" y2="277.8" stroke="#1c1c1c" stroke-width="1.1"/>
<line x1="378.0" y1="272.9" x2="378.0" y2="290.0" stroke="#1c1c1c" stroke-width="1.1"/>
<line x1="382.1" y1="266.8" x2="382.1" y2="279.0" stroke="#1c1c1c" stroke-width="1.1"/>
<line x1="112.9" y1="183.9" x2="112.9" y2="201.0" stroke="#1c1c1c" stroke-width="1.1"/>
<line x1="129.5" y1="187.6" x2="129.5" y2="198.5" stroke="#1c1c1c" stroke-width="1.1"/>
<line x1="135.6" y1="175.4" x2="135.6" y2="185.1" stroke="#1c1c1c" stroke-width="1.1"/>
<line x1="141.7" y1="175.4" x2="141.7" y2="183.9" stroke="#1c1c1c" stroke-width="1.1"/>
<line x1="153.7" y1="162.0" x2="153.7" y2="195.6" stroke="#1c1c1c" stroke-width="1.1"/>
<line x1="158.3" y1="172.9" x2="158.3" y2="187.6" stroke="#1c1c1c" stroke-width="1.1"/>
<line x1="175.4" y1="172.9" x2="175.4" y2="191.2" stroke="#1c1c1c" stroke-width="1.1"/>
<line x1="179.5" y1="161.5" x2="179.5" y2="179.0" stroke="#1c1c1c" stroke-width="1.1"/>
<line x1="187.1" y1="164.4" x2="187.1" y2="183.4" stroke="#1c1c1c" stroke-width="1.1"/>
<line x1="195.1" y1="158.3" x2="195.1" y2="170.5" stroke="#1c1c1c" stroke-width="1.1"/>
<line x1="215.4" y1="162.4" x2="215.4" y2="177.8" stroke="#1c1c1c" stroke-width="1.1"/>
<line x1="222.9" y1="154.1" x2="222.9" y2="163.9" stroke="#1c1c1c" stroke-width="1.1"/>
<line x1="229.3" y1="160.7" x2="229.3" y2="171.7" stroke="#1c1c1c" stroke-width="1.1"/>
<line x1="238.5" y1="153.4" x2="238.5" y2="162.0" stroke="#1c1c1c" stroke-width="1.1"/>
<line x1="270.5" y1="157.6" x2="270.5" y2="171.7" stroke="#1c1c1c" stroke-width="1.1"/>
<line x1="276.6" y1="166.3" x2="276.6" y2="181.0" stroke="#1c1c1c" stroke-width="1.1"/>
<line x1="289.5" y1="163.2" x2="289.5" y2="174.1" stroke="#1c1c1c" stroke-width="1.1"/>
<line x1="301.7" y1="172.9" x2="301.7" y2="194.9" stroke="#1c1c1c" stroke-width="1.1"/>
<line x1="314.6" y1="198.5" x2="314.6" y2="232.7" stroke="#1c1c1c" stroke-width="1.1"/>
<line x1="319.3" y1="180.2" x2="319.3" y2="190.0" stroke="#1c1c1c" stroke-width="1.1"/>
<line x1="326.6" y1="187.6" x2="326.6" y2="198.5" stroke="#1c1c1c" stroke-width="1.1"/>
<line x1="339.0" y1="187.6" x2="339.0" y2="198.5" stroke="#1c1c1c" stroke-width="1.1"/>
<line x1="341.7" y1="185.1" x2="341.7" y2="220.5" stroke="#1c1c1c" stroke-width="1.1"/>
<line x1="355.9" y1="194.9" x2="355.9" y2="210.7" stroke="#1c1c1c" stroke-width="1.1"/>
<line x1="369.3" y1="190.0" x2="369.3" y2="213.2" stroke="#1c1c1c" stroke-width="1.1"/>
<line x1="393.8" y1="209.5" x2="393.8" y2="224.1" stroke="#1c1c1c" stroke-width="1.1"/>
<line x1="396.7" y1="196.6" x2="396.7" y2="204.6" stroke="#1c1c1c" stroke-width="1.1"/>
<line x1="415.2" y1="208.3" x2="415.2" y2="225.4" stroke="#1c1c1c" stroke-width="1.1"/>
<line x1="429.4" y1="206.3" x2="429.4" y2="215.1" stroke="#1c1c1c" stroke-width="1.1"/>
<line x1="438.2" y1="205.4" x2="438.2" y2="217.6" stroke="#1c1c1c" stroke-width="1.1"/>
<line x1="456.7" y1="217.6" x2="456.7" y2="226.6" stroke="#1c1c1c" stroke-width="1.1"/>
<line x1="464.5" y1="212.0" x2="464.5" y2="222.4" stroke="#1c1c1c" stroke-width="1.1"/>
<rect x="91.2" y="205.3" width="3.5" height="3.5" fill="#a6a6a6" stroke="#3a3a3a" stroke-width="0.9"/>
<rect x="95.3" y="188.8" width="3.5" height="3.5" fill="#a6a6a6" stroke="#3a3a3a" stroke-width="0.9"/>
<rect x="101.2" y="186.8" width="3.5" height="3.5" fill="#a6a6a6" stroke="#3a3a3a" stroke-width="0.9"/>
<rect x="111.7" y="247.1" width="3.5" height="3.5" fill="#a6a6a6" stroke="#3a3a3a" stroke-width="0.9"/>
<rect x="120.2" y="195.6" width="3.5" height="3.5" fill="#a6a6a6" stroke="#3a3a3a" stroke-width="0.9"/>
<rect x="130.7" y="169.0" width="3.5" height="3.5" fill="#a6a6a6" stroke="#3a3a3a" stroke-width="0.9"/>
<rect x="145.8" y="196.8" width="3.5" height="3.5" fill="#a6a6a6" stroke="#3a3a3a" stroke-width="0.9"/>
<rect x="159.3" y="160.7" width="3.5" height="3.5" fill="#a6a6a6" stroke="#3a3a3a" stroke-width="0.9"/>
<rect x="164.6" y="162.7" width="3.5" height="3.5" fill="#a6a6a6" stroke="#3a3a3a" stroke-width="0.9"/>
<rect x="178.5" y="177.3" width="3.5" height="3.5" fill="#a6a6a6" stroke="#3a3a3a" stroke-width="0.9"/>
<rect x="183.6" y="166.6" width="3.5" height="3.5" fill="#a6a6a6" stroke="#3a3a3a" stroke-width="0.9"/>
<rect x="194.1" y="238.0" width="3.5" height="3.5" fill="#a6a6a6" stroke="#3a3a3a" stroke-width="0.9"/>
<rect x="199.7" y="180.2" width="3.5" height="3.5" fill="#a6a6a6" stroke="#3a3a3a" stroke-width="0.9"/>
<rect x="207.5" y="181.7" width="3.5" height="3.5" fill="#a6a6a6" stroke="#3a3a3a" stroke-width="0.9"/>
<rect x="216.1" y="175.3" width="3.5" height="3.5" fill="#a6a6a6" stroke="#3a3a3a" stroke-width="0.9"/>
<rect x="225.6" y="212.7" width="3.5" height="3.5" fill="#a6a6a6" stroke="#3a3a3a" stroke-width="0.9"/>
<rect x="234.4" y="168.0" width="3.5" height="3.5" fill="#a6a6a6" stroke="#3a3a3a" stroke-width="0.9"/>
<rect x="241.0" y="201.7" width="3.5" height="3.5" fill="#a6a6a6" stroke="#3a3a3a" stroke-width="0.9"/>
<rect x="246.8" y="180.7" width="3.5" height="3.5" fill="#a6a6a6" stroke="#3a3a3a" stroke-width="0.9"/>
<rect x="268.3" y="223.2" width="3.5" height="3.5" fill="#a6a6a6" stroke="#3a3a3a" stroke-width="0.9"/>
<rect x="282.4" y="228.5" width="3.5" height="3.5" fill="#a6a6a6" stroke="#3a3a3a" stroke-width="0.9"/>
<rect x="292.7" y="214.1" width="3.5" height="3.5" fill="#a6a6a6" stroke="#3a3a3a" stroke-width="0.9"/>
<rect x="299.3" y="194.9" width="3.5" height="3.5" fill="#a6a6a6" stroke="#3a3a3a" stroke-width="0.9"/>
<rect x="303.4" y="225.1" width="3.5" height="3.5" fill="#a6a6a6" stroke="#3a3a3a" stroke-width="0.9"/>
<rect x="305.1" y="220.5" width="3.5" height="3.5" fill="#a6a6a6" stroke="#3a3a3a" stroke-width="0.9"/>
<rect x="312.7" y="216.8" width="3.5" height="3.5" fill="#a6a6a6" stroke="#3a3a3a" stroke-width="0.9"/>
<rect x="318.3" y="224.9" width="3.5" height="3.5" fill="#a6a6a6" stroke="#3a3a3a" stroke-width="0.9"/>
<rect x="331.7" y="239.3" width="3.5" height="3.5" fill="#a6a6a6" stroke="#3a3a3a" stroke-width="0.9"/>
<rect x="336.3" y="237.1" width="3.5" height="3.5" fill="#a6a6a6" stroke="#3a3a3a" stroke-width="0.9"/>
<rect x="340.7" y="234.1" width="3.5" height="3.5" fill="#a6a6a6" stroke="#3a3a3a" stroke-width="0.9"/>
<rect x="350.2" y="260.0" width="3.5" height="3.5" fill="#a6a6a6" stroke="#3a3a3a" stroke-width="0.9"/>
<rect x="357.5" y="237.1" width="3.5" height="3.5" fill="#a6a6a6" stroke="#3a3a3a" stroke-width="0.9"/>
<rect x="362.2" y="276.6" width="3.5" height="3.5" fill="#a6a6a6" stroke="#3a3a3a" stroke-width="0.9"/>
<rect x="375.1" y="257.1" width="3.5" height="3.5" fill="#a6a6a6" stroke="#3a3a3a" stroke-width="0.9"/>
<rect x="379.4" y="268.8" width="3.5" height="3.5" fill="#a6a6a6" stroke="#3a3a3a" stroke-width="0.9"/>
<rect x="392.5" y="263.6" width="3.5" height="3.5" fill="#a6a6a6" stroke="#3a3a3a" stroke-width="0.9"/>
<rect x="398.2" y="242.7" width="3.5" height="3.5" fill="#a6a6a6" stroke="#3a3a3a" stroke-width="0.9"/>
<rect x="409.1" y="246.3" width="3.5" height="3.5" fill="#a6a6a6" stroke="#3a3a3a" stroke-width="0.9"/>
<rect x="404.7" y="218.8" width="3.5" height="3.5" fill="#a6a6a6" stroke="#3a3a3a" stroke-width="0.9"/>
<rect x="418.9" y="278.8" width="3.5" height="3.5" fill="#a6a6a6" stroke="#3a3a3a" stroke-width="0.9"/>
<rect x="429.6" y="263.4" width="3.5" height="3.5" fill="#a6a6a6" stroke="#3a3a3a" stroke-width="0.9"/>
<rect x="443.5" y="271.9" width="3.5" height="3.5" fill="#a6a6a6" stroke="#3a3a3a" stroke-width="0.9"/>
<circle cx="81.5" cy="199.3" r="2.5" fill="#000"/>
<circle cx="82.7" cy="254.6" r="2.5" fill="#000"/>
<circle cx="84.6" cy="250.5" r="2.5" fill="#000"/>
<circle cx="87.6" cy="234.1" r="2.5" fill="#000"/>
<circle cx="92.2" cy="240.2" r="2.5" fill="#000"/>
<circle cx="96.8" cy="215.1" r="2.5" fill="#000"/>
<circle cx="102.2" cy="255.6" r="2.5" fill="#000"/>
<circle cx="109.8" cy="216.3" r="2.5" fill="#000"/>
<circle cx="113.2" cy="217.6" r="2.5" fill="#000"/>
<circle cx="119.5" cy="238.3" r="2.5" fill="#000"/>
<circle cx="125.1" cy="219.3" r="2.5" fill="#000"/>
<circle cx="131.5" cy="244.9" r="2.5" fill="#000"/>
<circle cx="141.2" cy="236.8" r="2.5" fill="#000"/>
<circle cx="153.4" cy="235.1" r="2.5" fill="#000"/>
<circle cx="164.6" cy="232.0" r="2.5" fill="#000"/>
<circle cx="176.8" cy="232.9" r="2.5" fill="#000"/>
<circle cx="189.0" cy="236.6" r="2.5" fill="#000"/>
<circle cx="207.1" cy="210.0" r="2.5" fill="#000"/>
<circle cx="212.4" cy="233.2" r="2.5" fill="#000"/>
<circle cx="220.7" cy="241.7" r="2.5" fill="#000"/>
<circle cx="227.1" cy="251.0" r="2.5" fill="#000"/>
<circle cx="240.5" cy="229.8" r="2.5" fill="#000"/>
<circle cx="243.9" cy="212.0" r="2.5" fill="#000"/>
<circle cx="252.7" cy="214.4" r="2.5" fill="#000"/>
<circle cx="258.0" cy="198.0" r="2.5" fill="#000"/>
<circle cx="261.5" cy="246.8" r="2.5" fill="#000"/>
<circle cx="272.4" cy="232.9" r="2.5" fill="#000"/>
<circle cx="279.0" cy="223.7" r="2.5" fill="#000"/>
<circle cx="284.1" cy="244.9" r="2.5" fill="#000"/>
<circle cx="287.6" cy="225.1" r="2.5" fill="#000"/>
<circle cx="293.7" cy="206.3" r="2.5" fill="#000"/>
<circle cx="296.8" cy="238.8" r="2.5" fill="#000"/>
<circle cx="301.0" cy="247.8" r="2.5" fill="#000"/>
<circle cx="308.5" cy="270.0" r="2.5" fill="#000"/>
<circle cx="312.9" cy="244.4" r="2.5" fill="#000"/>
<circle cx="316.1" cy="265.1" r="2.5" fill="#000"/>
<circle cx="321.2" cy="264.1" r="2.5" fill="#000"/>
<circle cx="329.0" cy="260.7" r="2.5" fill="#000"/>
<circle cx="333.9" cy="280.0" r="2.5" fill="#000"/>
<circle cx="337.6" cy="222.7" r="2.5" fill="#000"/>
<circle cx="341.2" cy="240.5" r="2.5" fill="#000"/>
<circle cx="347.8" cy="214.9" r="2.5" fill="#000"/>
<circle cx="352.4" cy="243.9" r="2.5" fill="#000"/>
<circle cx="357.8" cy="275.4" r="2.5" fill="#000"/>
<circle cx="362.2" cy="248.8" r="2.5" fill="#000"/>
<circle cx="367.6" cy="232.7" r="2.5" fill="#000"/>
<circle cx="373.7" cy="266.8" r="2.5" fill="#000"/>
<circle cx="378.0" cy="281.7" r="2.5" fill="#000"/>
<circle cx="382.1" cy="273.4" r="2.5" fill="#000"/>
<circle cx="387.7" cy="257.3" r="2.5" fill="#000"/>
<path d="M89.0 223.9L91.5 221.5L93.9 223.9L91.5 226.4Z" fill="#fff" stroke="#111" stroke-width="0.8"/>
<path d="M90.0 210.0L92.4 207.6L94.9 210.0L92.4 212.4Z" fill="#fff" stroke="#111" stroke-width="0.8"/>
<path d="M92.4 211.2L94.9 208.8L97.3 211.2L94.9 213.7Z" fill="#fff" stroke="#111" stroke-width="0.8"/>
<path d="M95.1 200.0L97.6 197.6L100.0 200.0L97.6 202.4Z" fill="#fff" stroke="#111" stroke-width="0.8"/>
<path d="M105.8 195.4L108.3 192.9L110.7 195.4L108.3 197.8Z" fill="#fff" stroke="#111" stroke-width="0.8"/>
<path d="M108.0 188.3L110.5 185.8L112.9 188.3L110.5 190.7Z" fill="#fff" stroke="#111" stroke-width="0.8"/>
<path d="M110.5 192.0L112.9 189.5L115.4 192.0L112.9 194.4Z" fill="#fff" stroke="#111" stroke-width="0.8"/>
<path d="M115.6 188.5L118.0 186.1L120.5 188.5L118.0 191.0Z" fill="#fff" stroke="#111" stroke-width="0.8"/>
<path d="M120.7 184.4L123.2 181.9L125.6 184.4L123.2 186.8Z" fill="#fff" stroke="#111" stroke-width="0.8"/>
<path d="M127.1 192.7L129.5 190.2L132.0 192.7L129.5 195.1Z" fill="#fff" stroke="#111" stroke-width="0.8"/>
<path d="M133.2 179.8L135.6 177.3L138.1 179.8L135.6 182.2Z" fill="#fff" stroke="#111" stroke-width="0.8"/>
<path d="M139.3 179.5L141.7 177.1L144.2 179.5L141.7 182.0Z" fill="#fff" stroke="#111" stroke-width="0.8"/>
<path d="M145.8 184.9L148.3 182.4L150.7 184.9L148.3 187.3Z" fill="#fff" stroke="#111" stroke-width="0.8"/>
<path d="M151.2 178.5L153.7 176.1L156.1 178.5L153.7 181.0Z" fill="#fff" stroke="#111" stroke-width="0.8"/>
<path d="M152.4 176.1L154.9 173.6L157.3 176.1L154.9 178.5Z" fill="#fff" stroke="#111" stroke-width="0.8"/>
<path d="M155.8 179.5L158.3 177.1L160.7 179.5L158.3 182.0Z" fill="#fff" stroke="#111" stroke-width="0.8"/>
<path d="M158.5 171.0L161.0 168.5L163.4 171.0L161.0 173.4Z" fill="#fff" stroke="#111" stroke-width="0.8"/>
<path d="M164.4 167.6L166.8 165.1L169.3 167.6L166.8 170.0Z" fill="#fff" stroke="#111" stroke-width="0.8"/>
<path d="M172.9 182.2L175.4 179.7L177.8 182.2L175.4 184.6Z" fill="#fff" stroke="#111" stroke-width="0.8"/>
<path d="M177.1 170.2L179.5 167.8L182.0 170.2L179.5 172.7Z" fill="#fff" stroke="#111" stroke-width="0.8"/>
<path d="M184.6 173.7L187.1 171.2L189.5 173.7L187.1 176.1Z" fill="#fff" stroke="#111" stroke-width="0.8"/>
<path d="M189.0 176.3L191.5 173.9L193.9 176.3L191.5 178.8Z" fill="#fff" stroke="#111" stroke-width="0.8"/>
<path d="M192.7 164.4L195.1 161.9L197.6 164.4L195.1 166.8Z" fill="#fff" stroke="#111" stroke-width="0.8"/>
<path d="M200.5 167.1L202.9 164.6L205.4 167.1L202.9 169.5Z" fill="#fff" stroke="#111" stroke-width="0.8"/>
<path d="M209.3 179.8L211.7 177.3L214.2 179.8L211.7 182.2Z" fill="#fff" stroke="#111" stroke-width="0.8"/>
<path d="M212.9 169.8L215.4 167.3L217.8 169.8L215.4 172.2Z" fill="#fff" stroke="#111" stroke-width="0.8"/>
<path d="M220.5 159.0L222.9 156.6L225.4 159.0L222.9 161.5Z" fill="#fff" stroke="#111" stroke-width="0.8"/>
<path d="M226.1 159.5L228.5 157.1L231.0 159.5L228.5 162.0Z" fill="#fff" stroke="#111" stroke-width="0.8"/>
<path d="M226.8 165.6L229.3 163.2L231.7 165.6L229.3 168.1Z" fill="#fff" stroke="#111" stroke-width="0.8"/>
<path d="M230.2 160.7L232.7 158.3L235.1 160.7L232.7 163.2Z" fill="#fff" stroke="#111" stroke-width="0.8"/>
<path d="M233.4 162.4L235.9 160.0L238.3 162.4L235.9 164.9Z" fill="#fff" stroke="#111" stroke-width="0.8"/>
<path d="M234.6 166.1L237.1 163.6L239.5 166.1L237.1 168.5Z" fill="#fff" stroke="#111" stroke-width="0.8"/>
<path d="M236.1 157.6L238.5 155.1L241.0 157.6L238.5 160.0Z" fill="#fff" stroke="#111" stroke-width="0.8"/>
<path d="M238.5 182.0L241.0 179.5L243.4 182.0L241.0 184.4Z" fill="#fff" stroke="#111" stroke-width="0.8"/>
<path d="M243.2 166.8L245.6 164.4L248.1 166.8L245.6 169.3Z" fill="#fff" stroke="#111" stroke-width="0.8"/>
<path d="M245.6 168.8L248.0 166.3L250.5 168.8L248.0 171.2Z" fill="#fff" stroke="#111" stroke-width="0.8"/>
<path d="M248.3 171.0L250.7 168.5L253.2 171.0L250.7 173.4Z" fill="#fff" stroke="#111" stroke-width="0.8"/>
<path d="M251.0 172.9L253.4 170.5L255.9 172.9L253.4 175.4Z" fill="#fff" stroke="#111" stroke-width="0.8"/>
<path d="M261.5 172.0L263.9 169.5L266.4 172.0L263.9 174.4Z" fill="#fff" stroke="#111" stroke-width="0.8"/>
<path d="M268.0 164.9L270.5 162.4L272.9 164.9L270.5 167.3Z" fill="#fff" stroke="#111" stroke-width="0.8"/>
<path d="M274.1 173.7L276.6 171.2L279.0 173.7L276.6 176.1Z" fill="#fff" stroke="#111" stroke-width="0.8"/>
<path d="M279.7 163.7L282.2 161.2L284.6 163.7L282.2 166.1Z" fill="#fff" stroke="#111" stroke-width="0.8"/>
<path d="M283.4 167.6L285.9 165.1L288.3 167.6L285.9 170.0Z" fill="#fff" stroke="#111" stroke-width="0.8"/>
<path d="M287.1 168.3L289.5 165.8L292.0 168.3L289.5 170.7Z" fill="#fff" stroke="#111" stroke-width="0.8"/>
<path d="M289.0 180.2L291.5 177.8L293.9 180.2L291.5 182.7Z" fill="#fff" stroke="#111" stroke-width="0.8"/>
<path d="M291.2 185.9L293.7 183.4L296.1 185.9L293.7 188.3Z" fill="#fff" stroke="#111" stroke-width="0.8"/>
<path d="M292.9 183.9L295.4 181.5L297.8 183.9L295.4 186.4Z" fill="#fff" stroke="#111" stroke-width="0.8"/>
<path d="M294.9 179.0L297.3 176.6L299.8 179.0L297.3 181.5Z" fill="#fff" stroke="#111" stroke-width="0.8"/>
<path d="M299.3 181.5L301.7 179.0L304.2 181.5L301.7 183.9Z" fill="#fff" stroke="#111" stroke-width="0.8"/>
<path d="M301.7 187.6L304.1 185.1L306.6 187.6L304.1 190.0Z" fill="#fff" stroke="#111" stroke-width="0.8"/>
<path d="M306.1 192.4L308.5 190.0L311.0 192.4L308.5 194.9Z" fill="#fff" stroke="#111" stroke-width="0.8"/>
<path d="M308.0 193.7L310.5 191.2L312.9 193.7L310.5 196.1Z" fill="#fff" stroke="#111" stroke-width="0.8"/>
<path d="M312.2 215.1L314.6 212.7L317.1 215.1L314.6 217.6Z" fill="#fff" stroke="#111" stroke-width="0.8"/>
<path d="M316.8 184.9L319.3 182.4L321.7 184.9L319.3 187.3Z" fill="#fff" stroke="#111" stroke-width="0.8"/>
<path d="M321.2 178.5L323.7 176.1L326.1 178.5L323.7 181.0Z" fill="#fff" stroke="#111" stroke-width="0.8"/>
<path d="M324.1 193.2L326.6 190.7L329.0 193.2L326.6 195.6Z" fill="#fff" stroke="#111" stroke-width="0.8"/>
<path d="M323.9 201.0L326.3 198.5L328.8 201.0L326.3 203.4Z" fill="#fff" stroke="#111" stroke-width="0.8"/>
<path d="M326.3 195.6L328.8 193.2L331.2 195.6L328.8 198.1Z" fill="#fff" stroke="#111" stroke-width="0.8"/>
<path d="M330.5 197.6L332.9 195.1L335.4 197.6L332.9 200.0Z" fill="#fff" stroke="#111" stroke-width="0.8"/>
<path d="M335.4 192.4L337.8 190.0L340.3 192.4L337.8 194.9Z" fill="#fff" stroke="#111" stroke-width="0.8"/>
<path d="M336.6 193.2L339.0 190.7L341.5 193.2L339.0 195.6Z" fill="#fff" stroke="#111" stroke-width="0.8"/>
<path d="M339.3 202.9L341.7 200.5L344.2 202.9L341.7 205.4Z" fill="#fff" stroke="#111" stroke-width="0.8"/>
<path d="M344.1 203.9L346.6 201.5L349.0 203.9L346.6 206.4Z" fill="#fff" stroke="#111" stroke-width="0.8"/>
<path d="M349.0 217.6L351.5 215.1L353.9 217.6L351.5 220.0Z" fill="#fff" stroke="#111" stroke-width="0.8"/>
<path d="M353.4 202.9L355.9 200.5L358.3 202.9L355.9 205.4Z" fill="#fff" stroke="#111" stroke-width="0.8"/>
<path d="M358.0 209.5L360.5 207.1L362.9 209.5L360.5 212.0Z" fill="#fff" stroke="#111" stroke-width="0.8"/>
<path d="M360.2 210.7L362.7 208.3L365.1 210.7L362.7 213.2Z" fill="#fff" stroke="#111" stroke-width="0.8"/>
<path d="M362.7 202.7L365.1 200.2L367.6 202.7L365.1 205.1Z" fill="#fff" stroke="#111" stroke-width="0.8"/>
<path d="M366.8 202.2L369.3 199.7L371.7 202.2L369.3 204.6Z" fill="#fff" stroke="#111" stroke-width="0.8"/>
<path d="M372.9 207.6L375.4 205.1L377.8 207.6L375.4 210.0Z" fill="#fff" stroke="#111" stroke-width="0.8"/>
<path d="M377.6 206.3L380.0 203.9L382.4 206.3L380.0 208.8Z" fill="#fff" stroke="#111" stroke-width="0.8"/>
<path d="M381.8 189.3L384.3 186.8L386.7 189.3L384.3 191.7Z" fill="#fff" stroke="#111" stroke-width="0.8"/>
<path d="M387.7 219.0L390.1 216.6L392.6 219.0L390.1 221.5Z" fill="#fff" stroke="#111" stroke-width="0.8"/>
<path d="M391.3 216.8L393.8 214.4L396.2 216.8L393.8 219.3Z" fill="#fff" stroke="#111" stroke-width="0.8"/>
<path d="M394.3 200.5L396.7 198.0L399.2 200.5L396.7 202.9Z" fill="#fff" stroke="#111" stroke-width="0.8"/>
<path d="M404.0 209.0L406.5 206.6L408.9 209.0L406.5 211.5Z" fill="#fff" stroke="#111" stroke-width="0.8"/>
<path d="M412.8 216.6L415.2 214.1L417.7 216.6L415.2 219.0Z" fill="#fff" stroke="#111" stroke-width="0.8"/>
<path d="M420.4 192.0L422.8 189.5L425.3 192.0L422.8 194.4Z" fill="#fff" stroke="#111" stroke-width="0.8"/>
<path d="M426.9 210.7L429.4 208.3L431.8 210.7L429.4 213.2Z" fill="#fff" stroke="#111" stroke-width="0.8"/>
<path d="M435.7 211.2L438.2 208.8L440.6 211.2L438.2 213.7Z" fill="#fff" stroke="#111" stroke-width="0.8"/>
<path d="M443.0 210.2L445.5 207.8L447.9 210.2L445.5 212.7Z" fill="#fff" stroke="#111" stroke-width="0.8"/>
<path d="M454.3 222.2L456.7 219.7L459.2 222.2L456.7 224.6Z" fill="#fff" stroke="#111" stroke-width="0.8"/>
<path d="M462.1 217.1L464.5 214.6L467.0 217.1L464.5 219.5Z" fill="#fff" stroke="#111" stroke-width="0.8"/>
<rect x="74.6" y="147.6" width="396.2" height="147.4" fill="none" stroke="#333" stroke-width="1.45"/>
<line x1="70.7" y1="150.2" x2="74.6" y2="150.2" stroke="#333" stroke-width="0.9"/>
<text x="69.9" y="152.7" font-size="6.9" text-anchor="end" font-weight="normal" fill="#4a4a4a" >−150</text>
<line x1="70.7" y1="184.8" x2="74.6" y2="184.8" stroke="#333" stroke-width="0.9"/>
<text x="69.9" y="187.3" font-size="6.9" text-anchor="end" font-weight="normal" fill="#4a4a4a" >−160</text>
<line x1="70.7" y1="219.1" x2="74.6" y2="219.1" stroke="#333" stroke-width="0.9"/>
<text x="69.9" y="221.6" font-size="6.9" text-anchor="end" font-weight="normal" fill="#4a4a4a" >−170</text>
<line x1="70.7" y1="253.6" x2="74.6" y2="253.6" stroke="#333" stroke-width="0.9"/>
<text x="69.9" y="256.1" font-size="6.9" text-anchor="end" font-weight="normal" fill="#4a4a4a" >−180</text>
<line x1="70.7" y1="288.1" x2="74.6" y2="288.1" stroke="#333" stroke-width="0.9"/>
<text x="69.9" y="290.6" font-size="6.9" text-anchor="end" font-weight="normal" fill="#4a4a4a" >−190</text>
<line x1="79.5" y1="295.0" x2="79.5" y2="299.4" stroke="#333" stroke-width="0.9"/>
<text x="79.5" y="307.1" font-size="7.1" text-anchor="middle" font-weight="normal" fill="#4a4a4a" >0</text>
<line x1="95.1" y1="295.0" x2="95.1" y2="299.4" stroke="#333" stroke-width="0.9"/>
<text x="95.1" y="307.1" font-size="7.1" text-anchor="middle" font-weight="normal" fill="#4a4a4a" >1</text>
<line x1="110.8" y1="295.0" x2="110.8" y2="299.4" stroke="#333" stroke-width="0.9"/>
<text x="110.8" y="307.1" font-size="7.1" text-anchor="middle" font-weight="normal" fill="#4a4a4a" >2</text>
<line x1="126.4" y1="295.0" x2="126.4" y2="299.4" stroke="#333" stroke-width="0.9"/>
<text x="126.4" y="307.1" font-size="7.1" text-anchor="middle" font-weight="normal" fill="#4a4a4a" >3</text>
<line x1="142.1" y1="295.0" x2="142.1" y2="299.4" stroke="#333" stroke-width="0.9"/>
<text x="142.1" y="307.1" font-size="7.1" text-anchor="middle" font-weight="normal" fill="#4a4a4a" >4</text>
<line x1="157.7" y1="295.0" x2="157.7" y2="299.4" stroke="#333" stroke-width="0.9"/>
<text x="157.7" y="307.1" font-size="7.1" text-anchor="middle" font-weight="normal" fill="#4a4a4a" >5</text>
<line x1="173.3" y1="295.0" x2="173.3" y2="299.4" stroke="#333" stroke-width="0.9"/>
<text x="173.3" y="307.1" font-size="7.1" text-anchor="middle" font-weight="normal" fill="#4a4a4a" >6</text>
<line x1="189.0" y1="295.0" x2="189.0" y2="299.4" stroke="#333" stroke-width="0.9"/>
<text x="189.0" y="307.1" font-size="7.1" text-anchor="middle" font-weight="normal" fill="#4a4a4a" >7</text>
<line x1="204.6" y1="295.0" x2="204.6" y2="299.4" stroke="#333" stroke-width="0.9"/>
<text x="204.6" y="307.1" font-size="7.1" text-anchor="middle" font-weight="normal" fill="#4a4a4a" >8</text>
<line x1="220.3" y1="295.0" x2="220.3" y2="299.4" stroke="#333" stroke-width="0.9"/>
<text x="220.3" y="307.1" font-size="7.1" text-anchor="middle" font-weight="normal" fill="#4a4a4a" >9</text>
<line x1="235.9" y1="295.0" x2="235.9" y2="299.4" stroke="#333" stroke-width="0.9"/>
<text x="235.9" y="307.1" font-size="7.1" text-anchor="middle" font-weight="normal" fill="#4a4a4a" >10</text>
<line x1="251.5" y1="295.0" x2="251.5" y2="299.4" stroke="#333" stroke-width="0.9"/>
<text x="251.5" y="307.1" font-size="7.1" text-anchor="middle" font-weight="normal" fill="#4a4a4a" >11</text>
<line x1="267.2" y1="295.0" x2="267.2" y2="299.4" stroke="#333" stroke-width="0.9"/>
<text x="267.2" y="307.1" font-size="7.1" text-anchor="middle" font-weight="normal" fill="#4a4a4a" >12</text>
<line x1="282.8" y1="295.0" x2="282.8" y2="299.4" stroke="#333" stroke-width="0.9"/>
<text x="282.8" y="307.1" font-size="7.1" text-anchor="middle" font-weight="normal" fill="#4a4a4a" >13</text>
<line x1="298.5" y1="295.0" x2="298.5" y2="299.4" stroke="#333" stroke-width="0.9"/>
<text x="298.5" y="307.1" font-size="7.1" text-anchor="middle" font-weight="normal" fill="#4a4a4a" >14</text>
<line x1="314.1" y1="295.0" x2="314.1" y2="299.4" stroke="#333" stroke-width="0.9"/>
<text x="314.1" y="307.1" font-size="7.1" text-anchor="middle" font-weight="normal" fill="#4a4a4a" >15</text>
<line x1="329.7" y1="295.0" x2="329.7" y2="299.4" stroke="#333" stroke-width="0.9"/>
<text x="329.7" y="307.1" font-size="7.1" text-anchor="middle" font-weight="normal" fill="#4a4a4a" >16</text>
<line x1="345.4" y1="295.0" x2="345.4" y2="299.4" stroke="#333" stroke-width="0.9"/>
<text x="345.4" y="307.1" font-size="7.1" text-anchor="middle" font-weight="normal" fill="#4a4a4a" >17</text>
<line x1="361.0" y1="295.0" x2="361.0" y2="299.4" stroke="#333" stroke-width="0.9"/>
<text x="361.0" y="307.1" font-size="7.1" text-anchor="middle" font-weight="normal" fill="#4a4a4a" >18</text>
<line x1="376.7" y1="295.0" x2="376.7" y2="299.4" stroke="#333" stroke-width="0.9"/>
<text x="376.7" y="307.1" font-size="7.1" text-anchor="middle" font-weight="normal" fill="#4a4a4a" >19</text>
<line x1="392.3" y1="295.0" x2="392.3" y2="299.4" stroke="#333" stroke-width="0.9"/>
<text x="392.3" y="307.1" font-size="7.1" text-anchor="middle" font-weight="normal" fill="#4a4a4a" >20</text>
<line x1="407.9" y1="295.0" x2="407.9" y2="299.4" stroke="#333" stroke-width="0.9"/>
<text x="407.9" y="307.1" font-size="7.1" text-anchor="middle" font-weight="normal" fill="#4a4a4a" >21</text>
<line x1="423.6" y1="295.0" x2="423.6" y2="299.4" stroke="#333" stroke-width="0.9"/>
<text x="423.6" y="307.1" font-size="7.1" text-anchor="middle" font-weight="normal" fill="#4a4a4a" >22</text>
<line x1="439.2" y1="295.0" x2="439.2" y2="299.4" stroke="#333" stroke-width="0.9"/>
<text x="439.2" y="307.1" font-size="7.1" text-anchor="middle" font-weight="normal" fill="#4a4a4a" >23</text>
<line x1="454.9" y1="295.0" x2="454.9" y2="299.4" stroke="#333" stroke-width="0.9"/>
<text x="454.9" y="307.1" font-size="7.1" text-anchor="middle" font-weight="normal" fill="#4a4a4a" >24</text>
<line x1="470.5" y1="295.0" x2="470.5" y2="299.4" stroke="#333" stroke-width="0.9"/>
<text x="470.5" y="307.1" font-size="7.1" text-anchor="middle" font-weight="normal" fill="#4a4a4a" >25</text>
<text transform="translate(50.2 226.4) rotate(-90)" font-size="10.8" text-anchor="middle" font-weight="normal" fill="#222" >δ<tspan font-size="6" dy="-3.5">2</tspan><tspan dy="3.5">H </tspan><tspan font-style="italic">n</tspan>-C<tspan font-size="6" dy="2">31</tspan><tspan dy="-2"> (‰)</tspan></text>
<text x="6.0" y="142.8" font-size="10.8" text-anchor="start" font-weight="bold" fill="#111" >(b)</text>
<text x="22.3" y="142.8" font-size="10.0" text-anchor="start" font-weight="bold" fill="#111" >Modern</text>
<text x="22.3" y="155.2" font-size="10.0" text-anchor="start" font-weight="bold" fill="#111" >calibr.</text>
<text transform="translate(17.8 167.5) rotate(-90)" font-size="9.5" text-anchor="middle" font-weight="bold" fill="#111" >SPH</text>
<text transform="translate(16.2 203.0) rotate(-90)" font-size="9.5" text-anchor="middle" font-weight="bold" fill="#111" >SWW-</text>
<text transform="translate(27.3 201.8) rotate(-90)" font-size="9.5" text-anchor="middle" font-weight="bold" fill="#111" >peripheral</text>
<text transform="translate(16.0 260.7) rotate(-90)" font-size="9.5" text-anchor="middle" font-weight="bold" fill="#111" >SWW-core</text>
<text x="458.2" y="160.8" font-size="9.2" text-anchor="end" font-weight="normal" fill="#222" >GeoB7139-2 - 30°S</text>
<text x="458.2" y="172.7" font-size="9.2" text-anchor="end" font-weight="normal" fill="#222" >GeoB3304-5 - 33°S</text>
<text x="458.2" y="183.6" font-size="9.2" text-anchor="end" font-weight="normal" fill="#222" >22SL - 36°S</text>
<path d="M460.5 158.0L464.5 154.0L468.5 158.0L464.5 162.0Z" fill="#fff" stroke="#111" stroke-width="0.8"/>
<rect x="461.9" y="166.8" width="5.3" height="5.3" fill="#a6a6a6" stroke="#3a3a3a" stroke-width="0.9"/>
<circle cx="464.5" cy="180.2" r="3.0" fill="#000"/>
<defs>
<linearGradient id="mapg" x1="0" y1="0" x2="0" y2="1">
<stop offset="0.0000" stop-color="#f6f9fd"/>
<stop offset="0.3387" stop-color="#f1f6fc"/>
<stop offset="0.4597" stop-color="#e8f0f9"/>
<stop offset="0.5081" stop-color="#dbe8f5"/>
<stop offset="0.5505" stop-color="#adcce9"/>
<stop offset="0.6413" stop-color="#a6c7e6"/>
<stop offset="0.7199" stop-color="#adcbe8"/>
<stop offset="0.7562" stop-color="#cfe0f2"/>
<stop offset="0.7865" stop-color="#f3f7fc"/>
<stop offset="0.8228" stop-color="#fdfeff"/>
<stop offset="1.0000" stop-color="#ffffff"/>
</linearGradient>
<clipPath id="mapclip"><rect x="31.5" y="313.8" width="46.1" height="254.5"/></clipPath>
<clipPath id="dclip"><rect x="79.5" y="313.8" width="391.8" height="254.5"/></clipPath>
</defs>
<rect x="31.5" y="313.8" width="46.1" height="254.5" fill="url(#mapg)"/>
<line x1="41.0" y1="313.8" x2="41.0" y2="568.3" stroke="#d9e3ee" stroke-width="0.5"/>
<line x1="50.0" y1="313.8" x2="50.0" y2="568.3" stroke="#d9e3ee" stroke-width="0.5"/>
<line x1="59.0" y1="313.8" x2="59.0" y2="568.3" stroke="#d9e3ee" stroke-width="0.5"/>
<line x1="68.0" y1="313.8" x2="68.0" y2="568.3" stroke="#d9e3ee" stroke-width="0.5"/>
<line x1="31.5" y1="323.0" x2="77.6" y2="323.0" stroke="#dde6f0" stroke-width="0.4"/>
<line x1="31.5" y1="338.4" x2="77.6" y2="338.4" stroke="#dde6f0" stroke-width="0.4"/>
<line x1="31.5" y1="353.8" x2="77.6" y2="353.8" stroke="#dde6f0" stroke-width="0.4"/>
<line x1="31.5" y1="369.2" x2="77.6" y2="369.2" stroke="#dde6f0" stroke-width="0.4"/>
<line x1="31.5" y1="384.6" x2="77.6" y2="384.6" stroke="#dde6f0" stroke-width="0.4"/>
<line x1="31.5" y1="400.0" x2="77.6" y2="400.0" stroke="#dde6f0" stroke-width="0.4"/>
<line x1="31.5" y1="415.4" x2="77.6" y2="415.4" stroke="#dde6f0" stroke-width="0.4"/>
<line x1="31.5" y1="430.8" x2="77.6" y2="430.8" stroke="#dde6f0" stroke-width="0.4"/>
<line x1="31.5" y1="446.2" x2="77.6" y2="446.2" stroke="#dde6f0" stroke-width="0.4"/>
<line x1="31.5" y1="461.6" x2="77.6" y2="461.6" stroke="#dde6f0" stroke-width="0.4"/>
<line x1="31.5" y1="477.0" x2="77.6" y2="477.0" stroke="#dde6f0" stroke-width="0.4"/>
<line x1="31.5" y1="492.4" x2="77.6" y2="492.4" stroke="#dde6f0" stroke-width="0.4"/>
<line x1="31.5" y1="507.8" x2="77.6" y2="507.8" stroke="#dde6f0" stroke-width="0.4"/>
<line x1="31.5" y1="523.2" x2="77.6" y2="523.2" stroke="#dde6f0" stroke-width="0.4"/>
<line x1="31.5" y1="538.6" x2="77.6" y2="538.6" stroke="#dde6f0" stroke-width="0.4"/>
<line x1="31.5" y1="554.0" x2="77.6" y2="554.0" stroke="#dde6f0" stroke-width="0.4"/>
<path d="M76.2 316.0 L76.0 318.0 L76.4 320.0 L75.8 323.0 L75.0 326.0 L74.2 331.0 L73.0 334.0 L72.4 339.0 L70.6 342.0 L70.0 345.0 L69.4 348.0 L70.2 350.0 L69.2 353.0 L68.2 357.0 L68.8 360.0 L69.2 364.0 L69.8 368.0 L70.2 372.0 L69.4 376.0 L69.6 380.0 L68.2 384.0 L66.2 387.0 L65.4 390.0 L64.0 392.0 L63.0 395.0 L61.0 396.5 L60.2 399.0 L58.6 402.0 L58.0 405.0 L56.6 407.0 L56.0 411.0 L55.2 414.0 L54.6 418.0 L54.0 422.0 L54.8 426.0 L56.0 430.0 L56.8 434.0 L56.4 438.0 L55.4 441.0 L53.6 444.0 L52.4 447.0 L52.0 450.0" fill="none" stroke="#111" stroke-width="0.6" stroke-linejoin="round"/>
<g clip-path="url(#mapclip)" fill="none" stroke="#0a0a0a" stroke-width="0.58" stroke-linejoin="round">
<path d="M55.5 441.8L55.8 441.9L56.4 441.9L56.4 442.4L55.9 442.5L55.5 442.9L55.0 442.5L55.1 442.0ZM57.3 442.9L56.7 443.2L56.3 442.8L56.3 442.3L56.1 441.5L56.8 441.0L57.5 441.1L57.8 441.7L57.5 442.4ZM58.4 447.4L57.4 446.2L57.0 445.2L58.8 445.1L59.9 445.9L60.6 447.1ZM54.3 444.8L56.1 445.0L58.0 446.0L55.4 446.9L54.0 446.5ZM50.1 448.0L50.0 447.6L50.2 447.4L50.4 447.4L50.8 447.5L50.6 447.8L50.5 448.0ZM46.7 450.3L45.2 450.1L45.3 448.8L47.6 448.4L48.4 449.9ZM56.5 453.8L54.7 453.9L54.5 451.5L56.3 451.2L57.8 451.9ZM57.4 453.4L56.8 453.6L56.2 453.4L55.5 453.2L55.6 452.6L55.9 452.1L56.6 451.7L57.0 452.4L57.0 452.8ZM53.4 454.4L52.7 454.6L52.0 454.0L52.3 452.5L53.5 451.6L54.2 452.3L54.7 452.9L54.1 454.0ZM48.7 454.3L49.2 453.9L49.9 454.6L49.7 455.0L48.9 455.1ZM56.7 454.8L55.7 454.3L56.4 453.5L57.0 452.2L58.0 453.3L58.1 454.2L57.5 454.7ZM52.2 455.7L51.9 455.7L51.9 455.4L52.1 455.2L52.4 454.9L52.5 455.3ZM52.7 456.7L52.2 456.6L52.6 456.2L52.7 456.0L53.0 455.8L53.3 456.0L53.7 456.2L53.5 456.6L53.1 456.8ZM52.8 459.2L52.4 459.1L52.4 458.5L52.9 458.1L53.0 458.6L53.4 459.2ZM49.9 456.9L50.2 457.8L50.3 458.7L49.5 459.2L48.3 459.9L47.2 459.1L47.0 457.7L48.1 456.9L49.1 457.0ZM50.9 457.2L51.3 457.1L51.4 457.4L51.7 457.6L51.5 457.8L51.2 458.1L51.0 457.7L50.8 457.5ZM47.3 458.4L47.9 458.8L47.9 459.1L47.3 459.2L46.9 458.6ZM49.1 458.4L49.9 459.3L49.0 460.6L48.3 460.9L47.2 461.7L47.5 460.0L47.2 458.2L48.4 458.5ZM51.2 458.1L51.6 458.7L50.9 459.0L50.5 458.5L50.5 458.2ZM51.7 458.1L52.7 458.9L51.9 459.7L51.0 459.7L51.1 458.9ZM53.1 459.2L52.7 460.2L53.0 461.1L52.2 461.7L51.6 460.8L50.4 460.8L51.2 460.0L51.4 459.2L52.1 459.4ZM55.4 459.0L56.0 459.2L56.6 459.6L56.0 460.5L55.4 460.6L54.9 460.6L55.1 459.9ZM48.3 461.0L47.9 460.9L48.1 460.5L48.3 460.2L48.8 460.1L48.9 460.6L48.7 460.9ZM50.3 459.7L50.5 459.4L50.8 459.2L50.9 459.4L50.9 459.9L50.5 460.0ZM54.9 460.3L55.6 459.4L56.6 459.4L56.7 460.5L56.5 461.3L55.7 462.4L54.7 461.6ZM47.5 460.9L47.8 461.1L47.9 461.5L47.6 461.8L47.2 461.6L47.4 461.2ZM46.5 461.5L45.8 461.4L45.3 461.4L45.1 460.7L45.4 459.9L46.1 459.9L46.5 460.1L46.4 460.6ZM46.2 462.2L44.4 462.0L43.9 460.3L45.5 459.6L46.7 459.9L47.8 460.6L48.0 462.2ZM47.7 460.9L49.3 460.5L49.5 462.1L48.7 463.1L47.6 462.9L46.2 463.3L46.8 461.9L46.5 460.6ZM48.7 461.4L48.6 460.9L48.9 460.7L49.0 460.7L49.2 460.7L49.3 460.9L49.2 461.2L49.3 461.7L49.0 461.5ZM55.8 462.3L56.3 462.6L56.1 463.3L55.5 463.3L55.2 462.7ZM50.0 461.8L50.0 462.5L49.4 463.0L48.8 462.5L48.4 461.4L49.5 461.6ZM47.1 461.5L47.4 461.4L47.6 461.7L47.4 462.0L46.9 462.0ZM52.4 462.9L52.1 462.0L51.6 460.6L53.3 460.0L54.9 459.7L54.8 461.1L56.2 461.9L54.7 462.7L53.6 462.8ZM49.6 464.2L49.5 463.9L49.7 463.5L50.2 463.4L50.2 463.9L50.1 464.3ZM47.9 463.9L47.0 463.4L48.2 462.0L49.6 462.1L51.1 462.4L49.3 463.7ZM46.0 462.9L47.5 462.0L49.1 462.5L49.7 463.7L48.8 464.6L48.3 465.2L47.3 465.6L46.7 464.9L46.1 464.2ZM45.7 462.4L46.9 463.6L46.5 465.1L46.2 466.8L44.6 466.1L42.6 466.1L43.2 464.2L44.3 463.4ZM47.8 463.6L47.0 464.4L46.4 464.3L46.5 463.7L47.1 463.5ZM51.0 464.8L51.7 464.8L51.9 465.3L51.3 465.3L50.5 465.0ZM53.3 464.9L52.3 465.3L51.7 464.4L51.6 463.8L51.0 462.8L52.2 463.1L52.9 462.5L53.3 463.3L53.8 464.1ZM42.8 463.9L44.6 463.6L45.6 465.2L43.7 466.1L42.6 466.4L41.6 465.3ZM50.4 465.0L51.4 464.3L52.8 464.4L52.8 465.2L53.9 466.0L52.0 466.2L50.5 466.6L49.9 465.8ZM54.2 467.2L53.9 467.3L53.7 466.9L53.8 466.7L53.8 466.4L54.0 466.1L54.3 466.3L54.2 466.7ZM46.2 466.3L44.2 466.9L43.2 466.5L43.7 464.8L45.3 465.1ZM46.9 465.9L47.1 466.7L47.0 467.4L46.3 468.4L45.2 467.8L45.4 466.9L45.7 466.0ZM53.2 466.1L52.8 467.0L52.5 467.7L51.6 468.4L51.1 467.8L51.4 467.0L51.9 466.5L52.7 465.5ZM43.1 468.0L43.7 468.6L43.0 468.9L41.9 468.7L41.2 468.0L41.9 467.8L42.4 467.6ZM48.9 467.2L48.7 466.9L48.7 466.7L48.3 466.1L48.8 466.1L49.2 466.3L49.3 466.7L49.3 467.0L49.2 467.3ZM48.8 466.2L49.2 466.3L49.5 466.6L49.4 467.1L49.3 467.4L49.1 467.3L48.8 467.5L48.7 467.0L48.8 466.7ZM44.7 468.3L44.4 468.1L44.5 467.5L44.9 467.0L45.1 467.3L45.6 467.5L45.2 468.1L44.9 468.9ZM52.8 469.8L51.3 470.4L50.9 469.2L52.0 467.3L53.6 467.9L54.5 468.7ZM49.6 469.5L48.0 469.4L46.8 467.9L48.7 467.2L50.7 467.6ZM45.5 470.6L44.7 469.9L43.7 468.7L44.0 467.6L45.1 468.1L45.8 469.3L45.9 470.2ZM49.6 469.1L49.4 468.9L49.6 468.7L49.8 468.6L50.3 468.6L50.1 469.0L50.0 469.2L49.7 469.2ZM56.2 469.5L56.4 469.0L56.9 469.1L57.1 469.3L57.2 469.5L57.5 469.8L57.0 469.9L56.7 470.0L56.5 469.7ZM46.1 469.7L46.6 469.6L47.2 469.8L47.5 470.6L46.9 471.2L46.2 471.2L45.7 470.5ZM53.4 468.8L53.8 470.0L53.3 471.5L52.0 471.1L52.0 469.5L52.4 468.1ZM51.7 469.6L50.8 469.9L50.2 469.9L49.7 469.6L49.0 469.2L49.5 468.7L49.9 468.0L50.9 467.9L51.3 468.9ZM53.3 470.9L52.5 471.4L51.0 470.8L50.9 469.0L52.8 469.5L53.8 470.0ZM40.8 471.0L40.1 469.5L41.2 468.2L42.5 469.4L43.1 470.5L43.3 472.5L41.5 472.2ZM46.5 470.9L46.5 470.4L46.9 470.4L47.2 470.7L47.0 471.2ZM47.7 471.8L47.0 471.3L46.9 470.7L48.2 470.8L48.5 471.8ZM49.3 472.1L48.9 472.2L48.3 472.3L48.6 471.5L49.0 471.3L49.4 471.1L49.7 471.5ZM51.2 471.9L51.0 472.5L50.5 472.3L50.3 471.6L50.5 471.4L50.8 471.2ZM52.9 471.1L53.5 470.7L54.3 470.9L55.0 471.3L54.8 471.9L54.4 472.2L53.8 472.1L53.1 471.8ZM41.8 474.5L42.8 473.4L43.9 472.2L45.3 472.5L45.8 473.2L45.1 474.5L43.4 474.4ZM51.2 474.3L49.9 474.3L49.9 472.9L51.0 472.9L51.7 473.4ZM50.1 474.8L49.0 475.1L48.2 474.2L48.7 473.3L48.8 472.4L49.8 472.5L50.0 473.3L50.4 473.9ZM48.0 473.0L48.7 473.1L48.6 473.6L48.0 473.7L47.7 473.4L47.3 472.9ZM50.8 472.7L51.5 472.6L52.5 473.9L51.8 474.9L51.0 475.3L50.3 473.7ZM44.5 473.2L45.9 473.1L46.3 475.3L45.6 477.4L43.7 476.7L43.0 474.0ZM45.7 475.1L45.4 475.3L45.1 475.5L44.9 475.1L45.0 474.8L45.0 474.4L45.3 474.7L45.8 474.6ZM50.6 475.7L50.8 472.6L52.5 472.6L54.3 473.4L52.7 475.6ZM48.8 475.4L47.7 475.7L45.7 475.5L46.0 474.0L46.9 472.8L48.5 473.7L49.7 473.9L49.3 474.8ZM45.1 476.2L44.8 476.3L44.9 475.9L45.0 475.7L45.1 475.2L45.3 475.3L45.5 475.3L45.4 475.8L45.3 476.0ZM46.8 476.7L47.5 475.9L48.9 475.5L49.6 476.3L49.8 477.2L48.5 477.4L47.1 477.7ZM45.3 475.2L45.1 475.6L44.7 475.7L44.3 475.6L44.7 475.1L45.1 475.0L45.6 474.7ZM39.8 477.0L40.2 477.0L40.5 477.0L40.7 477.2L40.8 477.6L40.4 477.6L40.0 477.8L39.9 477.4ZM41.9 476.8L42.4 477.3L42.2 478.1L41.8 478.4L41.4 479.2L41.0 478.6L41.1 477.8L41.2 477.0ZM45.8 478.4L45.8 477.3L46.6 476.9L47.8 475.7L48.3 477.2L47.4 478.3L46.6 478.7ZM48.7 478.9L48.9 477.9L49.5 477.5L50.2 476.5L50.3 477.5L50.1 478.2L49.8 479.0L49.2 479.2ZM52.9 481.1L52.0 481.2L51.2 480.6L50.9 479.8L51.5 479.3L52.0 478.9L52.9 478.8L53.4 479.6L53.3 480.4ZM48.1 480.2L47.7 480.6L47.4 480.0L47.7 479.3L47.9 479.2L48.4 478.8L48.5 479.6ZM47.0 480.2L47.0 479.4L47.7 479.6L48.2 479.7L48.2 480.3L47.6 480.6ZM45.5 481.1L45.8 480.3L46.4 480.6L46.4 481.2L46.3 482.1L45.7 481.6ZM42.8 481.5L42.9 481.1L42.9 480.9L43.1 480.7L43.4 480.8L43.8 481.0L43.9 481.4L43.7 481.8L43.3 481.7ZM43.1 481.5L43.6 481.1L44.1 480.8L44.2 481.1L44.5 481.3L43.9 481.5L43.3 481.8ZM46.0 481.7L46.5 481.6L47.3 481.7L47.2 482.6L46.2 482.8L45.4 482.3ZM50.0 483.0L50.2 483.4L50.2 483.7L50.0 483.8L49.8 483.5L49.6 483.1L49.8 483.0ZM51.4 483.6L50.9 485.1L49.1 484.5L48.7 483.2L48.9 481.6L50.8 482.4ZM43.3 483.5L42.5 484.2L41.1 484.9L40.6 483.8L41.6 482.4L43.0 481.5L43.6 482.4ZM44.7 483.0L44.6 484.0L44.0 484.9L43.0 484.3L42.3 483.6L42.7 482.5L43.7 482.9ZM40.6 484.1L41.4 484.4L41.8 485.7L40.6 485.9L39.8 485.8L39.6 485.0L39.5 483.8ZM44.4 485.0L43.6 485.0L42.5 484.7L44.0 483.8L44.9 483.1L45.5 483.5L45.8 484.4ZM51.4 483.6L51.9 483.1L52.4 483.5L52.4 484.2L51.8 484.7L51.2 484.5L51.0 484.0ZM44.6 484.8L43.9 483.6L45.5 483.4L46.4 484.0L46.0 485.1ZM43.2 485.0L43.5 485.2L43.9 485.4L43.6 485.8L43.1 485.9L43.1 485.5L43.0 485.2ZM44.2 486.2L44.8 485.9L46.1 485.7L46.2 486.6L45.3 487.0L44.3 487.6L43.4 486.8ZM49.1 485.0L49.0 485.4L48.6 485.3L48.6 484.9L48.4 484.7L48.6 484.4L49.0 484.4L49.4 484.7ZM49.1 487.1L47.1 485.9L47.0 484.1L48.9 483.4L50.5 485.6ZM40.4 488.6L39.9 487.3L40.7 485.8L42.0 486.5L42.4 487.2L42.3 488.0L41.6 488.6ZM46.4 486.1L46.2 486.4L45.9 486.7L45.7 486.5L45.8 486.2L46.1 485.9L46.4 485.8ZM41.6 487.8L42.4 487.1L43.0 486.6L43.2 487.5L43.5 488.0L43.1 488.8L42.4 488.3ZM43.1 487.0L43.5 485.8L44.2 485.0L45.5 484.1L47.2 484.3L47.6 485.4L46.3 486.2L45.7 486.6L44.6 487.2ZM47.5 486.8L47.6 487.1L47.4 487.5L47.1 487.2L46.9 486.9L47.1 486.6ZM45.2 488.7L45.1 488.2L45.5 488.0L46.0 487.9L46.3 488.4L46.0 488.8L45.5 489.1ZM52.9 489.1L51.9 489.2L51.2 489.2L50.3 489.0L50.3 488.4L51.3 488.2L52.1 488.2L52.5 488.6ZM46.5 488.1L46.9 488.2L47.2 488.3L47.2 488.6L47.3 488.8L46.9 488.8L46.5 488.6L46.4 488.4ZM48.8 488.8L48.6 489.2L48.3 489.6L47.9 489.4L47.1 489.5L47.1 488.8L47.7 488.4L48.2 488.3L49.0 488.1ZM46.8 489.9L46.9 488.8L47.1 488.2L48.2 487.7L48.5 488.9L47.9 489.7ZM50.1 488.4L50.6 489.8L49.2 490.6L47.9 490.4L46.9 490.1L46.6 489.3L45.7 488.0L47.4 487.7L49.1 487.1ZM46.2 491.2L44.4 491.2L43.3 490.0L44.5 488.3L46.4 487.9L47.0 489.5ZM51.5 490.1L52.1 490.2L52.6 490.1L52.7 490.8L52.4 491.1L52.0 491.1L51.7 490.8ZM50.6 488.9L51.3 489.2L51.1 490.4L50.9 491.0L50.3 492.3L50.0 490.6L50.1 489.5ZM42.7 491.9L42.0 490.9L41.6 490.6L41.5 489.8L42.2 489.1L43.2 489.6L43.9 490.4L43.6 491.3ZM39.5 487.8L41.5 488.5L41.5 489.7L40.5 490.5L39.5 489.0ZM48.6 490.7L48.9 490.2L49.3 489.9L49.6 490.2L49.1 490.5ZM46.0 492.7L46.4 491.2L47.1 490.3L48.5 491.9L48.0 493.2ZM46.4 492.6L45.9 491.9L46.2 491.0L46.8 490.2L47.7 490.8L48.3 490.8L48.6 491.4L47.9 491.8L47.5 492.6ZM42.9 491.9L42.4 491.8L42.2 491.4L42.5 491.0L43.2 490.9L43.3 491.5ZM44.4 489.7L45.7 489.6L45.4 491.1L44.3 491.8L43.7 490.6ZM43.8 493.2L42.3 492.1L43.3 489.6L44.9 491.2L45.2 493.0ZM41.1 491.6L40.9 492.9L39.3 492.9L38.0 493.2L37.7 492.2L38.3 491.2L39.3 491.2L40.3 490.9ZM43.9 491.5L43.6 491.9L43.1 491.8L42.7 491.3L43.2 490.9L43.7 490.5L44.0 491.1ZM45.2 491.3L45.5 490.8L46.3 490.5L46.7 491.3L46.4 491.9L45.4 492.2ZM45.0 492.8L45.2 491.0L46.3 491.7L46.4 492.8L46.1 494.5L45.2 493.6ZM40.1 493.1L39.7 492.8L39.6 492.3L40.0 492.2L40.3 492.3L40.6 492.4L40.6 492.7L40.5 492.9L40.4 493.2ZM43.5 492.8L43.5 493.3L43.0 493.5L42.5 493.0L42.7 492.6L43.0 492.5L43.4 492.4ZM43.6 493.4L43.2 493.0L43.5 492.6L44.1 492.6L44.4 493.3L44.1 493.8ZM50.5 492.1L51.8 492.9L51.9 494.4L50.1 495.1L48.4 495.5L48.4 494.2L49.0 493.2ZM42.4 491.6L43.1 492.4L43.0 494.2L40.9 494.0L40.7 491.6ZM46.7 494.1L46.2 493.0L47.1 492.0L47.9 492.1L49.0 491.8L48.8 493.2L48.5 494.2L47.7 494.8L46.9 494.8ZM48.5 494.7L47.4 494.5L47.1 493.6L47.8 492.9L48.6 492.2L49.6 492.6L50.1 493.5L49.7 494.6ZM42.1 494.6L41.7 494.6L41.5 494.7L41.1 494.6L41.1 494.3L41.3 494.1L41.6 494.2L41.9 494.3ZM43.9 493.4L44.3 493.0L44.8 493.1L45.0 493.3L45.5 493.4L45.5 493.9L44.9 493.8L44.5 494.1L44.1 493.8ZM43.0 495.1L43.5 494.6L44.4 494.0L44.3 494.8L44.7 495.3L43.8 495.8L43.1 495.6ZM42.3 494.5L42.2 495.0L41.7 494.7L41.1 494.1L41.1 493.3L41.9 493.8ZM46.2 494.3L46.3 494.7L46.1 495.0L45.7 495.2L45.5 494.7L45.1 494.3L45.4 493.8L45.9 494.0ZM45.9 494.3L45.7 495.4L44.7 495.2L44.6 494.5L44.9 494.1ZM45.3 495.1L45.5 494.5L46.0 494.7L46.3 495.3L45.9 495.3ZM47.8 494.0L49.8 493.3L50.8 494.0L51.1 495.9L49.3 495.6ZM41.8 493.4L42.2 494.1L42.6 494.4L43.0 495.1L42.3 495.7L41.5 495.8L41.0 495.1L40.5 494.4L40.9 493.6ZM48.0 497.2L47.6 496.9L47.2 496.7L47.4 496.4L47.5 495.9L47.9 496.3L48.2 496.4L48.6 496.7L48.5 497.1ZM51.2 497.1L51.0 497.2L50.8 496.9L50.7 496.7L50.8 496.4L51.1 496.6L51.3 496.6L51.5 496.8L51.3 497.0ZM44.0 496.1L44.0 495.8L44.2 495.7L44.3 495.4L44.4 495.8L44.4 496.1L44.4 496.2L44.3 496.3L44.1 496.4ZM41.2 496.5L40.8 496.4L40.7 496.0L40.9 495.7L41.1 495.5L41.4 495.7L41.3 496.1ZM50.2 496.1L49.8 497.5L48.6 497.9L48.1 497.9L47.3 497.6L48.3 496.5L49.5 495.5ZM44.6 496.9L44.8 497.9L44.1 498.9L43.0 498.6L42.8 497.5L43.0 496.8L43.3 495.9L44.2 496.2ZM43.8 498.9L42.8 499.0L42.5 498.1L41.8 497.0L42.9 496.7L44.1 497.2L44.3 498.0L45.0 498.7L44.7 499.3ZM39.9 498.2L39.8 499.5L38.6 498.8L37.9 497.4L39.0 496.7L40.2 497.0ZM48.0 497.5L47.7 497.6L47.6 497.2L47.6 496.8L48.0 496.8L48.1 497.2L48.3 497.5ZM41.4 497.1L41.5 496.4L42.3 496.3L43.1 496.9L42.3 497.1ZM46.6 497.4L47.4 497.8L47.1 498.2L45.8 498.0L45.4 497.2ZM48.6 498.6L48.9 498.2L49.1 498.7L49.2 499.1L48.8 499.2ZM42.6 498.4L43.2 498.0L43.8 498.5L44.3 498.8L43.6 498.9L42.8 498.9ZM50.2 500.2L50.4 500.8L49.7 500.6L49.1 500.2L49.7 499.6ZM47.6 499.1L48.4 499.5L48.6 500.2L48.2 500.9L47.5 500.4L47.0 499.8ZM44.8 499.9L44.6 500.3L43.9 500.7L43.4 500.1L43.0 499.7L43.4 499.4L43.9 499.1L44.8 499.4ZM51.5 499.3L51.1 499.0L50.4 498.9L50.3 498.4L50.5 498.0L51.1 498.2L51.8 498.3L52.1 498.8L52.0 499.2ZM43.1 501.3L43.7 500.4L44.8 500.2L45.6 500.7L46.4 501.2L45.7 501.7L45.1 502.0L44.4 501.7ZM41.1 502.0L40.9 501.2L41.8 500.9L42.5 500.6L42.8 501.2L43.2 502.0L42.1 502.0ZM43.1 500.2L43.2 500.8L43.2 501.4L42.6 501.2L41.8 501.2L42.3 500.6L42.4 499.9ZM49.4 498.7L50.8 498.9L51.6 499.8L50.6 500.8L49.4 501.6L48.2 501.0L47.8 500.3L48.5 499.6ZM45.0 501.6L45.4 501.9L45.2 502.4L44.6 502.6L44.2 502.3L44.4 501.8ZM49.3 502.3L49.9 502.0L50.6 502.4L50.5 503.1L49.8 503.5L49.0 503.0L48.5 502.4ZM46.0 502.1L45.7 502.0L45.4 502.0L45.4 501.8L45.6 501.7L45.8 501.4L46.0 501.7L46.3 501.7L46.1 501.9ZM46.3 503.3L46.6 503.1L47.2 503.2L47.2 503.7L47.1 504.1L46.5 504.0L46.0 503.6ZM41.8 501.5L42.2 502.1L42.8 502.9L41.9 503.3L41.2 503.3L40.9 502.8L40.2 502.1L41.1 501.7ZM46.6 501.7L46.7 502.0L46.5 502.3L46.2 502.3L46.0 502.1L46.3 501.8ZM47.6 505.6L47.0 504.2L46.8 503.0L48.0 502.9L48.8 501.5L50.4 502.4L49.8 503.8L49.7 504.7L49.2 505.7ZM42.6 503.2L42.8 503.1L42.9 503.2L43.2 503.4L43.0 503.7L42.6 503.7L42.4 503.6L42.3 503.4ZM42.3 503.0L42.4 504.0L41.5 504.3L40.8 503.8L41.0 503.0L41.2 502.1L42.3 501.8ZM43.2 504.5L42.8 505.8L41.9 506.3L40.9 506.0L39.7 505.2L40.2 503.8L40.8 503.2L41.5 503.3L42.9 502.8ZM45.2 506.2L44.7 505.2L44.8 504.6L45.3 504.0L46.3 504.8L46.6 505.7L46.3 506.5ZM45.5 506.9L44.5 506.0L45.2 503.8L47.0 503.8L47.1 506.0ZM48.8 505.8L48.6 505.2L49.0 504.7L49.4 505.0L49.5 505.6ZM49.4 505.3L49.5 506.2L49.0 506.7L48.2 505.9L47.8 504.8L48.3 504.4L48.6 504.1L49.2 504.5ZM43.1 506.3L42.8 505.6L43.0 505.1L43.6 504.6L43.8 505.5L43.7 505.9ZM46.4 504.6L47.2 503.8L47.4 505.1L47.6 505.7L47.3 506.8L46.6 506.6L46.2 505.8ZM51.9 504.9L52.4 505.4L52.2 506.2L51.5 506.1L51.3 505.5ZM46.0 507.3L45.4 506.7L45.7 505.9L46.2 505.7L47.0 505.2L47.5 506.0L47.4 506.8L46.8 507.3ZM49.2 508.3L48.6 508.5L47.8 508.0L47.8 507.2L48.0 506.6L48.7 507.0L49.3 507.1L49.8 507.9ZM47.6 505.7L47.7 506.1L47.5 506.6L47.3 507.2L47.1 506.8L46.9 506.7L47.0 506.3L47.2 506.1ZM50.7 508.5L50.8 509.0L50.1 509.0L49.4 508.8L48.9 508.3L49.4 508.1L49.8 508.1L50.4 508.1ZM43.0 509.1L42.6 508.6L42.9 508.1L43.5 507.9L43.6 508.7ZM41.3 509.5L40.9 508.2L41.1 506.8L42.5 506.8L43.9 507.1L43.3 508.5L42.6 509.5ZM42.1 507.0L42.6 505.7L43.2 507.4L43.6 508.6L43.2 509.2L43.0 510.0L42.2 509.7L41.3 508.7L41.2 507.0ZM48.3 508.4L48.3 508.9L47.6 509.0L47.0 508.8L47.2 508.4L47.1 508.0L47.8 508.1ZM49.9 508.4L49.5 508.9L49.2 509.3L48.4 510.2L48.0 508.9L48.2 508.2L47.6 506.6L48.8 507.1L49.8 507.2ZM50.9 509.8L50.9 509.3L51.2 509.2L51.5 509.0L51.7 509.4L51.4 509.7L51.2 509.8ZM44.9 509.3L43.9 508.5L45.4 507.7L46.7 506.7L47.4 507.8L46.9 509.2L45.7 509.7ZM46.3 509.6L47.1 509.8L47.7 510.0L48.2 510.9L47.1 510.9L46.4 511.3L46.1 510.5ZM49.9 512.8L47.7 512.0L47.5 510.1L48.7 508.1L50.2 510.5ZM47.7 510.0L47.8 509.1L48.3 509.0L48.5 509.9L48.7 510.3L48.8 511.2L48.3 511.4L47.8 511.6L47.6 510.8ZM52.0 510.7L53.3 510.7L54.1 512.2L52.0 513.4L50.4 512.2ZM41.3 511.4L41.9 511.3L42.3 511.4L42.3 512.1L41.8 512.3L41.0 512.2ZM47.1 510.3L46.2 511.0L45.8 511.4L45.2 512.1L44.4 511.5L45.0 510.3L45.2 509.7L45.7 509.1L46.5 509.1ZM51.7 511.5L53.2 510.5L54.1 511.2L53.9 511.8L52.3 512.6ZM47.2 512.5L47.6 512.9L48.1 513.2L47.5 513.4L46.9 513.2L46.8 512.9ZM44.2 513.0L43.9 513.0L43.7 512.9L43.6 512.6L43.7 512.3L44.1 512.5L44.4 512.6L44.3 512.8ZM53.4 513.0L52.7 513.9L51.6 514.4L51.7 512.7L51.2 511.8L52.0 511.0L52.8 510.7L53.5 511.0L53.6 512.1ZM51.0 513.4L49.2 511.5L49.9 509.5L52.1 510.7L51.8 512.5ZM53.1 512.0L53.4 511.2L54.5 509.6L56.0 510.7L56.5 512.2L55.9 513.7L54.4 513.4L52.9 514.8L52.7 513.0ZM48.4 514.4L47.9 513.9L48.3 513.6L48.9 513.1L49.5 514.3L49.0 514.9ZM40.9 513.4L41.0 512.7L41.0 511.8L41.6 512.0L42.1 511.7L42.0 512.5L42.4 513.2L41.9 513.5L41.5 513.3ZM55.1 514.0L55.4 514.6L55.1 515.1L54.5 515.3L54.3 514.5L54.0 514.0L54.2 513.5L54.7 513.8ZM40.5 514.1L40.1 513.0L40.5 512.6L41.2 512.7L41.1 513.6ZM41.9 513.1L42.3 513.4L42.2 513.7L42.1 514.3L41.5 513.9L41.4 513.6L41.6 513.3ZM49.2 513.8L48.2 512.9L48.2 511.9L48.4 511.0L49.6 511.2L50.0 512.5L50.9 513.5L50.2 513.9ZM49.3 514.1L49.8 513.8L50.1 514.2L50.1 514.7L49.7 515.0L49.3 515.4L48.8 515.2L49.1 514.6L48.8 514.1ZM51.9 515.9L51.2 515.0L51.8 513.6L52.9 512.8L53.2 514.3L53.9 514.9L53.6 516.4L52.5 516.2ZM52.4 514.1L52.2 514.6L51.8 514.2L51.6 513.9L51.5 513.4L52.1 513.6L52.6 513.4L52.5 513.8ZM48.9 514.7L49.2 514.8L49.0 515.1L48.9 515.3L48.6 515.5L48.4 515.4L48.1 515.3L48.3 515.0L48.6 514.9ZM56.4 516.0L54.4 516.0L53.6 515.1L54.0 513.9L56.2 513.8ZM49.3 515.3L47.8 515.6L47.4 513.7L48.2 512.3L49.5 513.4L51.1 514.0L51.3 516.2ZM42.6 516.0L42.0 515.6L41.8 515.0L42.2 514.6L42.8 514.8L43.4 515.5ZM50.9 516.0L50.3 515.4L49.6 514.7L50.5 513.7L51.8 513.0L52.7 514.0L52.2 515.5ZM44.2 517.7L43.2 515.9L44.8 515.1L46.5 514.8L46.6 516.7L46.0 518.5ZM57.2 516.0L56.9 516.6L56.1 516.4L55.6 515.8L56.4 515.3L56.7 515.0L57.5 514.8L57.3 515.6ZM49.9 515.4L50.0 514.4L50.6 514.2L51.1 513.9L51.7 514.4L51.5 515.1L51.4 515.6L50.8 516.2ZM51.7 517.9L50.6 518.8L49.8 517.3L50.7 516.2L51.4 515.2L52.4 516.2ZM49.4 514.9L50.1 514.2L50.5 514.8L50.3 515.8L50.2 516.3L49.9 517.3L49.3 517.4L48.8 516.8L49.1 515.8ZM55.9 514.9L56.8 516.6L55.1 517.8L53.9 518.3L52.5 517.5L53.7 516.1L54.3 514.5ZM47.0 515.3L47.4 515.0L47.8 515.4L48.3 515.8L48.1 516.4L47.6 516.8L46.9 516.8L46.7 516.2L46.6 515.7ZM48.7 517.2L48.0 516.3L48.0 515.6L48.7 515.7L49.1 516.4ZM48.8 516.2L49.7 516.8L50.5 517.6L49.3 517.7L48.8 517.3ZM53.1 517.2L53.4 516.7L53.8 516.8L53.6 517.3L53.6 517.7L53.3 517.9L52.8 518.3L52.8 517.8ZM42.6 518.2L44.2 516.9L44.6 514.7L45.5 516.5L46.1 517.1L46.9 518.9L45.2 519.5L44.0 519.1ZM48.4 518.7L47.7 517.9L47.7 516.9L48.9 516.5L49.4 517.2L49.9 518.1ZM58.1 516.8L57.6 517.1L57.5 517.7L56.8 517.4L56.3 517.1L55.9 516.6L56.1 516.1L56.9 516.3L57.3 516.5ZM53.2 516.1L53.7 517.6L53.6 518.4L53.4 519.0L52.8 519.3L51.7 519.0L51.4 517.7L52.2 517.0ZM46.7 518.7L47.4 519.0L47.0 519.5L46.9 519.8L46.5 519.8L46.1 519.5L45.7 519.0L46.1 518.6ZM44.1 519.4L44.0 519.9L43.6 519.8L43.4 519.4L43.6 519.1L43.8 518.7L44.1 519.1ZM47.6 518.7L47.5 519.0L47.3 519.2L47.0 519.1L46.8 519.0L46.9 518.8L46.9 518.5L47.2 518.3L47.5 518.4ZM43.7 518.6L43.2 518.6L42.9 518.3L42.6 518.1L42.9 517.9L43.0 517.4L43.6 517.7L43.8 518.2ZM52.3 520.5L51.4 520.1L51.6 519.2L52.5 518.7L53.4 518.5L54.9 518.4L54.2 519.5L53.4 520.2ZM49.6 519.6L50.0 519.5L50.3 519.5L50.6 519.7L50.6 520.0L50.7 520.5L50.3 520.6L49.7 520.7L49.8 520.0ZM49.2 519.8L49.6 518.3L51.0 518.0L52.4 519.6L50.7 520.3ZM51.9 520.2L51.2 520.5L50.7 520.0L51.0 519.4L51.9 519.4L52.5 519.8ZM42.3 520.0L42.5 518.7L44.2 517.6L44.3 519.3L45.4 520.5L43.6 521.2L42.4 521.2ZM56.3 519.4L56.9 519.6L56.4 519.9L56.0 520.0L56.0 519.5ZM45.5 522.2L44.3 521.8L45.0 520.9L45.4 519.5L46.4 520.7L47.4 521.3L47.0 522.4L46.1 522.4ZM53.8 520.8L53.4 521.4L52.9 521.2L52.8 520.7L53.2 520.2L53.7 519.9L53.9 520.4ZM51.5 521.2L52.1 520.9L52.8 521.3L52.8 521.8L52.3 521.8L51.8 521.7ZM51.1 520.2L50.4 520.8L50.2 520.3L50.7 519.7L51.4 519.7ZM59.9 520.8L59.3 520.8L58.9 520.6L59.1 520.1L59.3 519.6L60.0 519.8ZM49.7 523.4L49.0 522.2L50.3 521.4L51.0 521.1L52.5 520.9L52.4 522.3L51.5 522.8L50.9 524.1ZM45.6 523.1L44.4 523.0L44.8 521.9L44.8 521.1L45.7 521.2L46.6 521.0L46.8 521.9L47.0 522.7L46.9 523.9ZM59.8 521.2L60.9 520.5L61.5 520.8L61.0 521.7L59.9 522.2ZM57.7 521.0L58.5 520.3L59.1 521.5L59.3 523.6L58.0 522.1ZM49.1 523.0L48.6 522.9L48.3 522.7L48.5 522.3L48.9 522.5ZM59.8 522.9L59.0 523.4L58.2 523.5L57.6 522.6L58.1 521.5L59.1 522.2ZM52.7 522.8L52.8 522.0L53.3 521.4L53.9 521.4L54.2 522.0L54.2 522.6L53.7 522.7L53.2 523.3ZM56.1 523.0L54.7 523.5L53.8 524.5L52.9 523.6L52.5 522.6L53.0 521.8L53.4 520.3L54.9 520.5L55.4 521.9ZM49.9 523.2L49.5 522.8L49.8 522.3L49.9 522.0L50.2 522.1L50.7 522.0L50.7 522.7L50.8 523.4L50.2 523.1ZM56.7 522.1L57.2 522.0L57.2 522.6L57.1 523.1L56.7 523.1L56.6 522.6ZM51.7 521.9L52.1 521.9L52.3 522.0L52.6 522.2L52.3 522.7L52.0 522.4L51.6 522.3ZM48.5 524.2L48.9 524.1L49.3 523.8L49.3 524.3L49.3 524.6L49.2 525.1L48.9 524.8L48.5 524.8ZM59.1 523.1L59.1 523.6L58.9 523.9L58.7 524.1L58.3 524.0L58.1 523.7L58.0 523.2L58.6 523.0ZM60.3 523.2L60.5 523.5L60.7 523.9L60.2 524.0L60.1 523.7L59.9 523.4ZM57.8 523.6L59.9 523.2L60.3 524.5L59.0 525.9L57.8 525.7L56.5 525.4ZM62.3 523.0L62.7 522.9L63.1 523.2L63.0 523.7L62.6 523.7L62.1 523.5ZM63.8 523.8L63.9 523.6L64.2 523.3L64.5 523.6L64.3 523.9L64.2 524.1L63.9 524.2L63.8 524.0ZM53.9 524.3L53.9 523.9L54.2 523.9L54.5 524.0L54.9 524.3L54.5 524.7L54.1 524.8L53.6 524.8ZM60.1 525.6L59.3 524.3L60.3 524.3L61.1 524.8L61.5 525.8L60.8 526.1ZM49.4 524.1L50.2 524.2L50.7 524.3L50.8 524.8L50.2 525.3L49.8 525.5L49.1 525.7L49.3 525.0ZM51.8 526.1L51.5 525.8L51.8 525.0L52.6 524.6L53.1 524.8L53.0 525.5L52.3 526.8ZM58.5 525.1L58.8 525.1L59.0 525.3L58.9 525.6L58.5 525.6L58.2 525.5L58.2 525.3ZM52.4 525.0L53.1 526.2L51.9 526.8L51.3 525.9L51.3 525.2ZM56.6 527.5L55.2 527.5L54.1 526.2L54.8 524.6L56.6 524.8L57.8 526.5ZM55.8 525.7L55.8 525.3L55.6 525.0L55.8 524.7L56.2 524.8L56.3 525.2L56.7 525.6L56.3 525.7L56.1 525.8ZM57.3 527.3L58.0 525.1L59.1 523.9L60.6 524.0L60.4 525.9L59.1 526.6ZM56.2 526.1L56.7 525.6L56.9 526.1L56.6 526.5L56.1 526.7ZM52.6 525.6L53.5 524.8L54.5 525.5L53.8 526.8L52.0 526.6ZM58.1 526.0L59.5 525.8L59.9 527.2L59.9 528.0L59.9 529.6L58.5 529.0L57.4 528.2L57.2 526.8ZM52.9 529.3L54.1 527.9L55.0 527.4L56.3 526.3L56.5 527.3L57.0 527.8L56.1 528.7L55.1 528.6ZM57.8 525.8L58.4 526.3L58.4 527.6L57.5 528.3L56.9 528.2L56.1 528.1L56.6 526.9L56.7 526.1L57.2 526.1ZM53.1 526.0L53.4 526.4L53.5 526.7L53.1 526.9L52.6 526.7L52.9 526.4ZM60.0 529.0L59.2 529.4L58.2 529.3L58.2 528.3L58.0 527.2L58.8 526.5L59.8 527.0L60.1 527.7L60.6 528.4ZM57.5 527.7L57.3 528.6L56.2 529.0L55.6 528.0L55.4 527.0L56.1 526.5L57.0 526.1L57.4 527.1ZM61.4 526.2L61.0 526.9L60.6 527.1L60.2 526.7L60.5 525.9ZM64.2 529.2L63.7 529.7L62.9 530.7L61.0 530.0L60.4 528.9L61.0 528.0L62.7 527.8L63.7 528.7ZM62.2 529.3L61.6 529.6L61.1 529.5L61.1 529.0L61.5 528.6L62.0 528.3L62.2 528.6L62.4 528.8ZM61.6 528.8L61.4 527.8L61.6 526.8L62.4 527.1L63.1 527.6L63.0 528.5L62.4 529.0ZM54.9 526.8L56.4 527.8L57.4 528.1L57.4 529.4L56.4 530.1L54.8 530.1L54.8 528.4ZM53.1 526.9L54.0 526.4L54.1 527.3L54.1 528.0L53.6 528.9L52.8 528.2L52.3 527.7L52.7 527.2ZM61.4 528.6L61.2 528.2L61.3 528.1L61.6 527.9L62.1 528.1L62.0 528.5ZM64.1 529.3L63.8 528.8L64.0 528.3L64.5 528.6L64.4 529.0ZM52.7 528.0L53.3 528.3L52.9 529.0L52.3 529.7L51.7 529.0L51.8 528.1ZM58.1 528.6L58.9 528.2L60.3 526.8L60.7 528.0L60.5 529.0L60.4 530.4L58.7 531.2L57.7 530.5L57.2 529.6ZM55.0 527.0L54.5 530.0L53.3 530.4L52.2 529.1L53.4 526.8ZM58.7 529.7L59.1 529.7L59.4 529.8L59.6 530.2L59.6 530.8L59.0 530.5L58.6 530.2ZM70.7 529.5L69.9 531.6L67.7 532.6L66.3 531.3L67.1 528.9L69.4 528.5ZM67.4 530.3L66.5 529.9L66.1 528.9L65.9 527.7L66.8 526.4L67.9 527.0L68.4 528.1L68.3 529.4ZM50.3 529.3L51.7 529.4L52.6 530.0L52.4 530.6L51.3 531.0L50.2 530.2ZM56.5 527.8L57.8 527.9L58.8 527.3L59.0 528.6L59.2 529.2L58.8 529.6L58.0 529.6L57.3 528.9ZM62.5 531.1L62.4 530.1L62.7 529.2L63.1 529.4L63.4 530.2ZM56.4 530.2L56.0 528.7L57.1 527.5L58.5 528.4L60.4 528.4L59.5 530.1L59.2 531.0L58.3 531.8L57.0 531.4ZM55.2 530.4L55.4 529.1L56.6 528.5L56.8 530.3L56.8 532.1L55.5 532.2ZM65.4 531.8L64.6 532.0L64.4 531.2L64.8 530.2L65.3 530.7ZM49.6 531.0L48.6 530.3L48.6 529.2L49.5 528.7L50.6 528.9L51.1 529.7L51.1 530.5L50.5 531.1ZM58.1 531.2L58.8 532.8L57.3 533.3L55.8 532.6L55.5 531.1L56.5 530.4L57.4 530.7ZM64.7 531.4L65.1 532.3L66.1 533.6L64.4 533.6L62.9 533.3L63.1 532.1L63.6 531.4ZM53.6 530.8L53.8 531.5L53.3 531.6L52.7 531.6L52.8 531.1L53.0 530.9ZM59.4 533.7L58.9 533.0L59.8 532.4L60.5 532.1L61.2 532.5L60.7 533.4L60.4 534.4L59.5 534.6ZM66.7 532.3L67.2 532.8L66.9 533.0L66.4 533.4L65.9 532.6L65.7 532.1L66.0 531.6ZM60.8 533.2L60.2 532.1L60.9 530.8L62.2 531.1L63.6 531.8L62.6 533.0L61.8 533.6ZM60.6 532.1L60.8 532.2L61.0 532.6L60.6 532.6L60.2 532.6L60.3 532.3L60.3 532.0ZM63.7 533.1L64.4 533.0L64.8 532.9L65.1 533.6L64.8 534.2L64.2 533.8ZM67.1 531.7L68.4 530.1L69.1 531.8L68.9 533.2L66.8 533.8ZM62.1 534.2L61.0 536.0L59.9 534.6L59.0 532.3L61.9 532.2ZM61.5 533.6L61.4 534.8L60.6 536.9L58.8 535.7L59.0 533.0L60.7 532.8ZM65.7 534.2L65.7 534.5L65.7 534.7L65.6 534.9L65.4 534.7L65.3 534.4L65.3 534.3L65.4 534.2ZM61.7 534.1L60.8 534.2L60.4 533.4L60.5 532.5L61.3 532.3L62.0 532.5L62.3 533.0L62.6 533.8ZM68.2 532.5L70.5 532.9L69.8 534.7L68.2 535.4L67.6 534.1ZM58.8 535.0L59.2 534.8L59.4 534.9L59.6 535.0L59.8 535.2L59.5 535.4L59.3 535.5L59.1 535.4L58.8 535.3ZM64.2 533.9L64.2 534.3L64.4 534.6L64.1 535.0L63.7 534.6L63.1 534.5L63.3 534.1L63.7 534.0ZM70.6 536.2L69.5 535.6L70.3 534.6L72.0 535.0L71.3 536.1ZM54.7 533.7L54.6 534.4L54.1 534.7L53.6 534.2L54.1 533.6ZM51.1 535.3L50.9 534.4L51.2 533.8L52.0 533.9L52.5 534.6L52.9 535.4L52.2 535.9ZM59.3 536.5L58.0 536.2L57.8 535.2L57.7 534.4L58.4 533.7L59.6 533.6L60.4 534.1L60.5 534.9L60.0 535.5ZM59.7 536.6L59.8 536.7L59.7 537.0L59.4 536.9L59.3 536.6L59.3 536.5L59.4 536.4L59.5 536.3L59.7 536.5ZM65.2 536.7L65.1 536.8L64.9 537.0L64.6 537.0L64.4 536.8L64.6 536.4L64.8 536.2L65.0 536.3L65.3 536.4ZM67.5 534.4L68.2 534.3L68.8 535.0L68.7 535.7L68.1 536.1L67.4 535.4L67.2 534.8ZM62.7 534.9L63.1 535.3L62.8 535.7L62.1 535.7L62.2 535.0ZM55.6 534.7L56.2 534.7L56.0 535.2L56.0 535.7L55.4 535.7L55.0 535.2L55.3 534.8ZM58.6 536.4L58.7 537.2L58.1 537.8L57.2 537.8L57.7 536.6ZM68.0 536.7L67.5 537.1L67.6 536.3L67.5 535.5L68.0 535.7L68.2 536.0L68.1 536.5ZM61.3 536.5L61.8 535.0L63.3 535.2L64.0 535.8L64.7 536.5L64.7 537.9L63.2 538.2L62.6 537.1ZM68.1 537.5L67.9 538.0L67.5 538.5L66.9 538.1L66.7 537.6L67.1 537.3L67.5 536.8L68.4 536.6ZM64.0 536.1L63.7 535.5L64.6 535.5L64.9 536.2L64.4 536.6ZM61.1 538.1L60.4 538.4L59.9 537.3L59.6 536.6L59.5 535.5L60.3 535.7L60.7 536.4L60.9 537.0ZM71.7 538.3L70.9 537.8L70.3 537.2L70.8 536.6L71.5 536.6L72.2 536.5L72.3 537.1L72.6 537.8ZM64.6 537.9L65.1 537.5L65.9 537.3L65.8 538.0L65.4 538.4ZM70.9 539.5L69.0 538.5L70.0 536.9L71.6 536.4L72.2 538.1ZM67.5 536.7L67.9 538.4L67.0 539.6L65.7 538.2L66.6 537.1ZM64.8 538.5L64.8 540.4L62.5 539.8L62.9 537.9L64.2 537.6ZM71.7 537.3L73.0 538.6L72.4 539.7L72.0 540.2L71.4 540.9L70.6 539.8L68.8 539.1L69.8 538.3L70.5 537.9ZM59.4 540.4L59.8 539.0L60.4 538.4L61.5 538.3L61.6 540.0L61.7 542.0L60.2 542.2ZM69.3 539.8L70.0 539.1L70.4 539.8L71.2 540.2L70.4 540.8L69.9 541.7L68.9 541.6L68.7 540.8L69.1 540.3ZM69.6 539.6L70.2 539.5L70.6 539.9L70.8 540.3L70.4 540.7L69.5 540.4L68.9 540.2L68.0 539.8L68.5 539.3ZM70.4 539.6L71.8 538.8L72.1 540.3L72.4 541.9L71.1 541.5L70.4 541.1ZM60.7 540.0L61.0 540.3L61.3 540.4L61.4 540.7L61.3 541.1L61.1 541.3L60.8 541.1L60.4 540.9L60.7 540.5ZM72.4 541.5L72.1 540.9L71.6 540.7L71.6 539.9L72.3 539.6L73.1 539.6L73.5 540.3L72.9 540.9ZM59.9 541.2L59.6 541.5L59.3 541.4L59.1 541.2L59.5 541.0L59.8 541.0ZM63.5 542.2L63.8 540.1L66.0 540.7L67.7 541.1L67.0 542.9L65.0 543.4ZM66.0 540.2L66.9 540.4L67.2 541.4L65.9 541.5L65.5 540.7ZM67.4 542.0L67.1 541.9L66.8 541.6L67.3 541.4L67.5 541.1L67.7 541.2L67.8 541.5L67.8 541.7L67.7 542.2ZM66.6 543.2L66.8 542.3L66.6 541.3L67.7 541.0L69.2 540.1L68.8 541.5L68.2 542.4L67.5 543.6ZM62.8 542.8L62.6 542.6L62.7 542.3L63.1 542.5L63.4 542.8L63.1 542.9ZM63.7 541.9L63.8 542.4L63.3 542.4L62.9 542.4L62.7 541.8L63.1 541.2L63.7 541.3ZM62.7 543.5L62.9 542.7L63.7 542.9L64.1 543.7L64.4 544.4L64.2 545.1L63.4 545.5L63.0 544.5L62.3 544.2ZM68.5 544.0L68.0 543.5L67.6 543.3L67.5 542.9L68.0 542.7L68.3 542.5L69.0 542.3L69.3 542.9L68.8 543.5ZM63.7 544.7L63.2 544.2L63.2 543.3L64.4 543.8L64.4 544.8ZM66.7 545.3L66.2 545.8L65.7 545.4L66.1 545.0L66.3 544.7L66.8 544.3L67.5 544.5L67.0 545.0ZM68.4 544.6L69.1 544.7L68.8 545.3L68.2 545.6L68.1 545.0ZM71.2 544.6L71.8 545.1L71.8 545.9L70.8 546.1L70.8 545.1ZM65.0 545.9L65.0 546.4L64.5 546.1L64.3 545.7L64.6 545.5ZM69.8 545.1L69.7 546.0L69.1 546.4L68.9 545.1L68.4 544.4L68.9 543.9L69.3 544.1L69.8 544.1ZM70.0 547.6L70.7 546.3L71.7 546.3L72.5 546.4L73.0 547.4L72.0 548.0L71.1 548.3ZM72.2 545.2L73.4 546.3L73.3 547.9L72.4 549.0L71.1 548.5L69.6 548.2L69.9 546.7L71.0 546.2ZM70.1 546.4L70.1 546.6L69.9 546.6L69.5 546.8L69.3 546.5L69.7 546.3L69.9 546.1L70.2 546.1ZM68.4 548.1L68.6 548.1L68.8 547.9L69.0 548.1L69.3 548.4L69.0 548.5L68.9 548.5L68.7 548.5L68.4 548.3ZM72.9 547.3L73.6 546.7L75.1 546.5L74.6 547.6L73.9 548.1ZM68.4 549.0L67.2 548.4L67.3 547.4L68.0 546.8L69.0 547.0L70.1 547.8L69.4 548.7ZM72.3 549.1L71.7 549.6L71.5 548.7L71.1 548.0L71.7 547.5L72.4 547.6L72.9 548.4ZM69.5 550.5L68.8 548.9L69.5 547.8L70.4 548.2L71.1 548.6L71.6 550.2L70.4 550.0Z"/>
<path d="M52.8 444.8L52.5 445.4L51.5 445.3L51.2 444.4L51.8 444.4ZM56.9 447.1L57.2 447.5L57.0 447.9L56.4 447.8L56.2 447.7L55.8 447.3L56.3 447.0ZM57.0 448.8L57.0 448.6L57.3 448.8L57.6 448.9L57.9 449.1L57.7 449.3L57.3 449.2L57.0 449.0ZM54.2 456.6L54.5 456.1L54.7 455.7L55.2 455.5L55.4 455.9L55.4 456.5L55.0 456.7L54.6 456.9ZM47.4 457.0L47.1 456.6L46.6 456.3L46.9 455.7L47.4 455.8L47.7 456.0L48.0 456.3L47.9 456.7ZM52.6 459.1L52.5 458.9L52.8 458.6L53.1 458.6L53.2 458.9L52.8 459.3ZM53.3 458.5L52.7 459.3L51.9 458.9L51.0 459.0L50.7 458.3L51.2 457.4L52.2 457.4L52.8 457.5L53.8 457.7ZM47.3 458.8L47.4 459.0L47.4 459.2L47.3 459.3L47.1 459.4L46.8 459.3L46.7 459.0L47.0 458.8L47.2 458.5ZM49.6 462.4L49.2 461.6L49.2 460.7L50.1 460.9L50.5 461.4L50.2 462.1ZM44.1 463.6L44.4 463.2L44.6 463.1L45.0 463.1L44.8 463.5L44.6 463.8ZM49.5 464.7L49.1 463.7L49.5 463.0L50.0 463.4L50.3 463.8L50.2 464.6ZM48.8 463.2L49.8 463.1L50.5 463.3L50.2 463.9L49.5 464.3L48.7 464.1ZM44.1 466.0L44.3 465.3L44.7 464.8L45.2 465.1L45.5 465.4L45.5 466.2L44.7 466.5ZM45.2 465.6L45.6 465.9L46.1 466.1L45.8 466.5L45.4 466.8L44.8 466.8L44.5 466.3L44.6 465.7ZM51.8 465.1L52.4 465.2L52.8 465.2L53.2 465.6L52.6 465.8L52.4 466.0L52.1 465.9L51.9 465.6ZM44.5 466.4L44.6 466.3L44.9 466.3L44.8 466.6L44.7 466.7L44.4 466.9L44.3 466.8L44.0 466.8L44.1 466.5ZM41.3 466.3L42.3 467.0L42.0 468.1L41.1 468.1L40.4 467.0ZM48.3 468.9L47.6 468.6L47.1 468.0L47.7 467.8L47.8 467.5L48.3 467.6L48.6 467.9L49.4 468.5L48.5 468.4ZM47.6 467.4L47.9 467.7L47.9 468.0L47.9 468.3L47.6 468.2L47.5 468.0L47.2 467.7L47.3 467.6L47.4 467.3ZM45.6 469.9L45.2 468.9L46.0 468.0L46.5 468.9L46.5 469.5ZM53.2 469.3L53.1 469.6L52.8 469.5L52.5 469.4L51.9 469.1L51.9 468.5L52.0 468.0L52.6 468.0L53.0 468.8ZM55.4 470.9L55.7 470.9L56.0 470.9L56.1 471.1L56.0 471.4L55.7 471.4L55.3 471.4L55.1 471.1ZM52.3 469.9L51.7 471.2L50.4 471.2L49.4 469.9L50.6 469.3L51.6 468.4ZM44.4 471.5L44.3 471.3L44.5 471.1L44.8 471.0L45.2 471.1L45.0 471.4L44.8 471.7ZM54.8 473.3L53.7 472.8L53.7 471.3L54.2 470.3L55.2 471.5ZM50.1 472.3L50.6 472.2L51.2 472.4L50.9 473.0L50.7 473.4L50.3 473.1L49.9 472.8ZM49.7 474.2L48.8 474.1L47.8 473.4L48.9 473.0L49.7 473.1ZM44.8 474.4L45.0 474.5L45.1 474.8L45.3 475.4L44.7 475.6L44.3 475.2L44.3 474.8L44.3 474.3ZM48.3 476.1L49.4 475.9L49.6 476.6L49.0 477.0L48.3 477.0ZM47.3 477.7L47.7 477.6L47.8 478.0L47.6 478.3L47.1 478.2ZM48.0 477.9L47.8 478.2L47.4 478.1L46.9 477.6L47.5 477.3L47.9 477.5ZM48.2 480.2L48.4 479.8L48.8 480.0L48.7 480.4L48.5 480.4ZM48.6 480.1L49.2 479.9L49.6 480.2L49.8 480.6L49.8 481.0L49.3 481.0L49.0 481.3L48.7 481.0L48.4 480.6ZM48.0 479.5L47.8 479.7L47.4 479.7L47.1 479.6L46.9 479.4L47.2 479.3L47.5 479.4ZM40.1 484.3L41.3 483.5L42.1 482.9L43.3 483.2L42.4 484.3L41.4 484.3ZM46.4 484.6L46.3 484.9L46.0 484.6L45.9 484.5L45.8 484.3L46.0 484.2L46.3 484.1L46.6 484.3L46.7 484.5ZM48.8 484.9L48.7 485.1L48.5 485.3L48.2 485.3L48.2 485.0L47.9 484.7L48.2 484.5L48.5 484.5L48.8 484.6ZM47.5 486.6L46.8 486.5L47.3 485.8L47.8 485.6L48.2 485.5L48.4 485.8L48.2 486.3L48.1 487.0L47.6 487.0ZM39.9 487.2L40.2 487.4L40.4 487.8L39.8 487.7L39.6 487.2ZM41.5 488.3L41.5 488.9L41.0 488.4L40.5 488.0L40.9 487.7L41.1 487.1L41.5 487.8ZM44.3 488.5L43.8 488.6L43.6 488.2L43.9 487.8L44.4 487.8L44.3 488.1ZM42.1 491.1L42.6 490.5L42.6 491.2L42.3 491.8L41.9 491.6ZM46.9 492.9L47.0 493.5L46.5 494.3L45.8 494.3L46.1 493.5ZM43.7 497.1L44.0 497.8L43.1 498.4L42.6 497.9L43.1 497.1ZM44.4 499.6L44.0 499.8L43.6 500.2L43.3 499.8L43.1 499.2L43.5 498.9L43.7 498.3L44.2 498.5L44.5 499.0ZM49.4 498.1L50.1 498.0L50.6 498.3L50.2 498.7L49.4 498.6ZM42.2 501.0L41.6 501.1L41.7 500.5L41.6 499.8L42.4 499.5L42.8 500.2L42.6 500.7ZM42.9 502.4L42.0 501.6L41.7 500.7L42.9 500.5L43.7 501.0L43.6 501.7ZM48.4 501.9L49.0 502.1L49.4 502.1L49.7 502.5L49.6 502.8L49.3 502.9L48.9 502.7L48.4 502.4ZM40.6 501.0L41.3 500.6L42.2 500.2L42.9 501.1L43.1 501.9L43.0 502.7L42.1 502.5L41.4 502.4L40.9 501.8ZM45.8 502.6L45.5 503.5L44.5 502.9L44.8 502.1L45.9 501.3ZM45.1 502.4L44.8 501.6L45.5 500.6L46.5 501.4L47.2 502.1L46.5 502.8L45.5 503.1ZM45.6 504.0L45.3 503.9L45.3 503.7L45.2 503.4L45.6 503.4L45.9 503.2L46.2 503.5L46.1 503.8L45.7 503.9ZM44.3 504.1L44.5 504.3L44.7 504.6L44.5 504.8L44.3 505.0L44.0 505.0L43.9 504.7L43.9 504.4L44.1 504.3ZM49.1 504.9L49.0 504.2L48.6 503.7L49.2 503.8L49.4 503.7L49.8 503.7L50.0 504.2L49.7 504.4L49.6 504.9ZM51.5 504.9L51.9 505.4L51.2 506.2L50.6 506.3L50.1 506.2L50.2 505.6L50.8 505.2ZM46.8 504.1L47.5 504.9L47.9 505.7L47.2 505.8L46.8 506.3L46.6 505.4L46.6 505.0ZM42.5 506.9L42.7 506.1L43.5 506.3L43.6 506.8L43.3 507.7ZM50.2 507.4L50.4 507.0L50.6 506.3L51.4 506.6L51.6 507.1L51.9 507.8L51.2 508.0L50.5 507.8ZM40.6 508.2L40.2 509.5L39.4 509.7L39.2 508.9L39.6 508.3ZM49.1 510.6L48.7 510.1L48.8 509.5L49.4 509.4L50.1 509.4L50.6 510.1L50.3 510.7L49.6 510.7ZM45.9 508.7L46.6 509.4L45.9 510.3L45.2 510.4L44.8 509.7ZM47.5 510.3L47.6 509.9L48.0 509.4L48.5 509.7L48.4 510.4L48.4 510.9L48.1 511.5L47.4 511.7L47.0 511.0ZM48.2 511.1L48.7 510.5L49.2 510.6L49.4 511.6L48.8 512.0ZM46.6 510.2L47.9 509.9L48.0 511.0L46.9 511.7L46.0 511.2ZM53.1 510.7L54.1 510.3L54.3 511.2L54.8 512.0L54.0 512.7L52.8 513.0L52.7 511.9L52.2 511.5L52.3 510.8ZM42.0 512.6L41.8 512.2L41.5 512.0L41.7 511.8L42.0 511.8L42.4 511.7L42.7 512.1L42.7 512.4L42.3 512.5ZM49.2 516.1L48.6 515.6L48.1 514.9L48.6 514.7L49.0 514.9L49.6 515.7ZM51.7 517.3L51.3 517.0L50.9 516.6L50.7 515.9L51.4 515.5L52.2 515.6L52.7 516.4L52.5 517.4ZM48.9 518.8L47.9 518.9L47.1 518.7L47.4 517.8L47.6 517.3L48.2 516.7L49.0 516.8L48.9 517.7ZM53.9 516.9L54.7 517.1L54.0 517.5L53.7 517.8L53.3 517.4L52.7 516.8L53.5 516.7ZM55.0 519.5L55.4 518.5L56.3 517.9L56.9 518.8L57.8 519.5L57.1 520.3L56.3 520.2L55.4 520.5ZM55.8 517.0L56.8 516.9L57.5 517.3L57.6 518.1L57.3 519.0L56.4 518.7L55.9 518.0ZM52.6 518.5L52.3 518.9L52.1 518.4L52.3 517.9L52.6 518.1ZM49.1 520.4L48.1 520.9L47.0 520.6L46.9 519.7L47.5 519.3L48.8 519.1ZM59.2 521.2L59.5 520.7L60.0 520.5L61.0 520.3L60.9 521.1L60.1 521.6L59.4 521.6ZM47.7 521.9L47.3 522.1L46.8 522.2L46.4 521.8L46.7 521.3L47.3 521.0L47.5 521.5ZM52.4 520.9L52.0 521.1L51.7 520.8L51.9 520.5L52.3 520.4ZM50.5 523.1L49.6 522.1L50.6 521.1L51.6 521.8L51.6 522.7ZM50.6 523.2L50.5 523.4L50.1 523.5L49.9 523.3L50.0 523.1L50.2 522.9L50.6 522.9ZM47.3 522.9L47.1 523.7L46.6 524.4L45.9 524.0L46.0 523.3L46.1 522.5L46.8 522.6ZM47.0 523.0L47.1 523.4L46.4 523.3L46.5 522.9L46.7 522.7ZM50.7 523.8L51.2 523.7L51.2 524.3L51.3 524.9L51.0 525.3L50.6 525.3L50.5 524.7L50.5 524.4L50.5 524.0ZM49.8 526.3L49.7 525.3L49.7 524.8L49.7 523.6L50.2 524.4L50.6 524.6L50.5 525.4L50.3 526.2ZM54.8 526.3L54.1 526.5L53.2 526.7L52.8 526.1L53.3 525.7L54.0 525.4L54.5 525.8ZM54.8 525.2L54.6 526.1L54.7 526.6L54.3 526.9L53.8 527.1L53.0 526.8L52.8 526.0L53.7 525.8L54.0 525.4ZM59.6 527.1L59.5 527.1L59.3 527.0L59.4 526.7L59.4 526.5L59.5 526.5L59.6 526.6L59.8 526.8L59.7 527.0ZM51.5 530.1L50.6 530.1L50.7 529.5L51.0 529.2L51.5 528.9L52.0 529.4L52.7 529.7L52.5 530.3ZM58.3 529.5L59.3 530.0L60.1 531.0L58.9 531.2L57.8 530.8ZM59.0 530.7L58.7 530.5L58.8 530.2L59.1 530.0L59.3 530.2L59.4 530.4L59.4 530.9ZM57.6 529.7L57.6 530.0L57.2 530.4L56.7 530.0L56.8 529.6L57.2 529.0ZM55.7 532.9L55.7 532.2L56.2 531.0L57.3 530.9L57.3 532.2L56.3 533.1ZM61.0 530.7L61.7 529.9L62.6 530.6L62.3 531.5L61.7 531.3ZM58.0 533.0L57.5 533.5L56.8 534.1L56.5 533.5L56.6 532.8L57.2 532.4L58.0 532.2ZM61.7 536.1L62.0 536.2L62.2 536.2L62.2 536.4L62.4 536.7L62.1 536.9L61.8 536.8L61.6 536.7L61.5 536.4ZM54.0 538.7L53.7 538.4L53.8 538.2L54.0 538.1L54.2 538.1L54.3 538.4L54.3 538.6L54.2 538.6ZM72.1 540.4L71.4 540.3L71.1 540.0L71.0 539.7L71.3 539.5L71.6 539.5L71.9 539.6L72.1 539.8ZM68.2 539.4L67.7 539.5L67.3 539.1L66.7 538.7L67.1 538.1L67.5 537.5L68.1 537.9L68.3 538.4L68.4 538.9ZM58.9 540.1L59.4 539.3L60.0 539.5L60.6 539.8L60.3 540.6L59.5 540.9ZM58.8 539.9L58.2 540.4L57.6 540.4L57.2 539.7L57.1 539.1L57.4 538.7L57.9 538.2L58.7 538.8ZM69.2 541.1L69.3 540.5L69.5 539.8L70.0 540.4L70.2 541.1L69.8 541.5ZM61.7 541.9L61.0 541.3L60.5 540.6L60.7 540.1L61.7 540.4L62.4 540.5L62.7 541.0L62.9 541.5L62.7 542.2ZM68.5 541.0L68.9 541.4L68.3 541.8L67.6 541.5L67.2 541.3L66.7 540.9L67.7 540.9L68.1 540.8ZM62.7 541.7L63.3 541.4L63.9 541.6L63.7 542.1L63.4 542.5L63.1 542.3ZM70.8 543.7L70.7 544.3L70.0 544.3L69.0 543.4L69.7 542.9ZM61.4 543.1L60.9 541.4L62.6 541.4L63.9 542.4L62.6 543.1ZM69.6 545.5L70.2 544.8L70.7 544.2L71.5 544.6L72.0 545.7L71.0 546.0L70.4 545.8ZM68.2 544.6L67.9 545.5L67.4 545.8L67.0 545.4L66.3 545.0L66.8 544.4L67.5 544.0Z" fill="#111"/>
<path d="M49.6 462.2L49.7 461.6L50.3 461.0L51.5 461.0L51.5 462.1L51.3 462.8L50.8 464.3L49.3 463.6ZM48.0 464.7L49.4 463.6L50.1 464.9L50.1 466.4L48.9 465.8ZM51.9 464.8L51.3 464.5L51.5 463.7L51.9 463.0L52.9 463.0L53.1 464.0L52.4 464.5ZM42.5 490.5L41.9 490.4L41.6 489.9L41.4 489.2L41.8 489.0L42.2 488.7L42.5 489.4ZM44.1 497.4L43.4 497.7L42.4 497.1L42.4 496.3L42.3 495.4L43.3 496.0L43.8 496.1L44.0 496.6ZM42.3 502.7L42.9 502.7L42.9 503.4L42.8 503.9L42.4 504.2L41.7 504.5L41.9 503.5L42.0 503.0ZM45.0 510.7L45.7 511.0L46.7 511.7L45.8 512.5L44.9 512.3L44.7 511.5ZM49.3 519.5L49.3 519.9L49.0 520.8L48.5 520.3L48.4 519.8L48.3 519.2L48.8 518.6L49.3 518.9ZM52.9 524.7L53.1 524.1L54.0 523.6L54.2 524.5L54.4 525.4L53.6 525.9L53.1 525.1ZM44.9 491.9L45.1 492.5L44.7 492.8L44.0 492.3L43.8 491.8L43.4 491.2L44.0 491.3L44.4 491.4ZM46.2 499.6L46.5 499.2L47.0 499.3L47.2 499.9L47.1 500.5L46.6 500.8L46.1 500.5L45.9 500.0Z" fill="#111" stroke="none"/>
<path d="M52.0 450.0 L54.5 446.0 L57.5 444.5 L60.0 446.0 L59.4 449.0 L60.4 452.0 L58.8 455.0 L59.6 458.0 L58.0 461.0 L59.0 464.0 L57.0 467.0 L57.6 470.0 L55.6 473.0 L56.4 476.0 L54.6 479.0 L55.4 482.0 L53.6 485.0 L54.4 489.0 L53.0 493.0 L54.0 497.0 L53.0 501.0 L54.2 505.0 L53.6 509.0 L55.4 513.0 L56.2 517.0 L58.4 520.0 L59.4 523.0 L62.0 525.0 L63.6 527.5 L66.4 529.0 L68.4 531.0 L71.6 532.0 L73.6 534.0 L77.6 535.0"/>
<path d="M51.5 443 L54 442.5 L53.8 446 L53 449.5 L51.6 453 L49.6 456 L48.2 455 L48.8 451 L49.6 447.5 Z"/>
<path d="M53 435 L51.6 438 L52.6 441 L57 443 L62.5 442 L61 446 L59 450 L60 454 L58 458 L60 462 L61 465 L58 469 L59 472 L56 476 L54 479 L51 482"/>
<circle cx="51" cy="461.5" r="2.2" fill="#111" stroke="none"/>
<path d="M62 526 L66 524.5 L70 525.5 L74 524 L77.6 525"/>
<path d="M67 518 L70 519.5 L73 518.5 L75.5 520 L77.6 519"/>
<path d="M66 540 L70 541.5 L74 543 L77.6 545"/>
<path d="M70 528 L71 533 L70 538 L72 541"/>
<path d="M72 523 L73 528 L75 533 L74 539 L76 544"/>
</g>
<text transform="translate(69.3 446.0) rotate(-90)" font-size="7.6" text-anchor="middle" font-weight="normal" fill="#333" >South America</text>
<circle cx="65.6" cy="354.8" r="2.9" fill="#e0742a" stroke="#9a4a12" stroke-width="0.7"/>
<circle cx="64.0" cy="375.0" r="2.9" fill="#e0742a" stroke="#9a4a12" stroke-width="0.7"/>
<circle cx="53.0" cy="401.2" r="2.9" fill="#e0742a" stroke="#9a4a12" stroke-width="0.7"/>
<text x="34.4" y="343.0" font-size="9.2" text-anchor="start" font-weight="bold" fill="#e0742a" >GeoB</text>
<text x="34.4" y="354.4" font-size="9.2" text-anchor="start" font-weight="bold" fill="#e0742a" >7139-2</text>
<text x="33.6" y="373.6" font-size="9.2" text-anchor="start" font-weight="bold" fill="#e0742a" >GeoB</text>
<text x="33.6" y="384.4" font-size="9.2" text-anchor="start" font-weight="bold" fill="#e0742a" >3304-5</text>
<text x="35.6" y="412.4" font-size="9.2" text-anchor="start" font-weight="bold" fill="#e0742a" >22SL</text>
<rect x="31.5" y="313.8" width="46.1" height="254.5" fill="none" stroke="#333" stroke-width="1.45"/>
<text x="28.6" y="317.7" font-size="6.6" text-anchor="end" font-weight="normal" fill="#4a4a4a" >25</text>
<text x="28.6" y="325.4" font-size="6.6" text-anchor="end" font-weight="normal" fill="#4a4a4a" >26</text>
<text x="28.6" y="333.1" font-size="6.6" text-anchor="end" font-weight="normal" fill="#4a4a4a" >27</text>
<text x="28.6" y="340.8" font-size="6.6" text-anchor="end" font-weight="normal" fill="#4a4a4a" >28</text>
<text x="28.6" y="348.5" font-size="6.6" text-anchor="end" font-weight="normal" fill="#4a4a4a" >29</text>
<text x="28.6" y="356.2" font-size="6.6" text-anchor="end" font-weight="normal" fill="#4a4a4a" >30</text>
<text x="28.6" y="363.9" font-size="6.6" text-anchor="end" font-weight="normal" fill="#4a4a4a" >31</text>
<text x="28.6" y="371.6" font-size="6.6" text-anchor="end" font-weight="normal" fill="#4a4a4a" >32</text>
<text x="28.6" y="379.3" font-size="6.6" text-anchor="end" font-weight="normal" fill="#4a4a4a" >33</text>
<text x="28.6" y="387.0" font-size="6.6" text-anchor="end" font-weight="normal" fill="#4a4a4a" >34</text>
<text x="28.6" y="394.7" font-size="6.6" text-anchor="end" font-weight="normal" fill="#4a4a4a" >35</text>
<text x="28.6" y="402.4" font-size="6.6" text-anchor="end" font-weight="normal" fill="#4a4a4a" >36</text>
<text x="28.6" y="410.1" font-size="6.6" text-anchor="end" font-weight="normal" fill="#4a4a4a" >37</text>
<text x="28.6" y="417.8" font-size="6.6" text-anchor="end" font-weight="normal" fill="#4a4a4a" >38</text>
<text x="28.6" y="425.5" font-size="6.6" text-anchor="end" font-weight="normal" fill="#4a4a4a" >39</text>
<text x="28.6" y="433.2" font-size="6.6" text-anchor="end" font-weight="normal" fill="#4a4a4a" >40</text>
<text x="28.6" y="440.9" font-size="6.6" text-anchor="end" font-weight="normal" fill="#4a4a4a" >41</text>
<text x="28.6" y="448.6" font-size="6.6" text-anchor="end" font-weight="normal" fill="#4a4a4a" >42</text>
<text x="28.6" y="456.3" font-size="6.6" text-anchor="end" font-weight="normal" fill="#4a4a4a" >43</text>
<text x="28.6" y="464.0" font-size="6.6" text-anchor="end" font-weight="normal" fill="#4a4a4a" >44</text>
<text x="28.6" y="471.7" font-size="6.6" text-anchor="end" font-weight="normal" fill="#4a4a4a" >45</text>
<text x="28.6" y="479.4" font-size="6.6" text-anchor="end" font-weight="normal" fill="#4a4a4a" >46</text>
<text x="28.6" y="487.1" font-size="6.6" text-anchor="end" font-weight="normal" fill="#4a4a4a" >47</text>
<text x="28.6" y="494.8" font-size="6.6" text-anchor="end" font-weight="normal" fill="#4a4a4a" >48</text>
<text x="28.6" y="502.5" font-size="6.6" text-anchor="end" font-weight="normal" fill="#4a4a4a" >49</text>
<text x="28.6" y="510.2" font-size="6.6" text-anchor="end" font-weight="normal" fill="#4a4a4a" >50</text>
<text x="28.6" y="517.9" font-size="6.6" text-anchor="end" font-weight="normal" fill="#4a4a4a" >51</text>
<text x="28.6" y="525.6" font-size="6.6" text-anchor="end" font-weight="normal" fill="#4a4a4a" >52</text>
<text x="28.6" y="533.3" font-size="6.6" text-anchor="end" font-weight="normal" fill="#4a4a4a" >53</text>
<text x="28.6" y="541.0" font-size="6.6" text-anchor="end" font-weight="normal" fill="#4a4a4a" >54</text>
<text x="28.6" y="548.7" font-size="6.6" text-anchor="end" font-weight="normal" fill="#4a4a4a" >55</text>
<text x="28.6" y="556.4" font-size="6.6" text-anchor="end" font-weight="normal" fill="#4a4a4a" >56</text>
<text x="28.6" y="564.1" font-size="6.6" text-anchor="end" font-weight="normal" fill="#4a4a4a" >57</text>
<text transform="translate(15.2 401.5) rotate(-90)" font-size="10.5" text-anchor="middle" font-weight="normal" fill="#222" >Latitude (°S)</text>
<text x="5.0" y="321.8" font-size="10.9" text-anchor="start" font-weight="bold" fill="#111" >(c)</text>
<text x="34.0" y="577.4" font-size="6.6" text-anchor="middle" font-weight="normal" fill="#4a4a4a" >76</text>
<text x="50.0" y="577.4" font-size="6.6" text-anchor="middle" font-weight="normal" fill="#4a4a4a" >74</text>
<text x="65.3" y="577.4" font-size="6.6" text-anchor="middle" font-weight="normal" fill="#4a4a4a" >72</text>
<text x="57.2" y="586.4" font-size="7.8" text-anchor="middle" font-weight="bold" fill="#111" >Long. (°W)</text>
<g clip-path="url(#dclip)">
<line x1="95.1" y1="313.8" x2="95.1" y2="568.3" stroke="#eef1f4" stroke-width="0.5"/>
<line x1="110.8" y1="313.8" x2="110.8" y2="568.3" stroke="#eef1f4" stroke-width="0.5"/>
<line x1="126.4" y1="313.8" x2="126.4" y2="568.3" stroke="#eef1f4" stroke-width="0.5"/>
<line x1="142.1" y1="313.8" x2="142.1" y2="568.3" stroke="#eef1f4" stroke-width="0.5"/>
<line x1="157.7" y1="313.8" x2="157.7" y2="568.3" stroke="#eef1f4" stroke-width="0.5"/>
<line x1="173.3" y1="313.8" x2="173.3" y2="568.3" stroke="#eef1f4" stroke-width="0.5"/>
<line x1="189.0" y1="313.8" x2="189.0" y2="568.3" stroke="#eef1f4" stroke-width="0.5"/>
<line x1="204.6" y1="313.8" x2="204.6" y2="568.3" stroke="#eef1f4" stroke-width="0.5"/>
<line x1="220.3" y1="313.8" x2="220.3" y2="568.3" stroke="#eef1f4" stroke-width="0.5"/>
<line x1="235.9" y1="313.8" x2="235.9" y2="568.3" stroke="#eef1f4" stroke-width="0.5"/>
<line x1="251.5" y1="313.8" x2="251.5" y2="568.3" stroke="#eef1f4" stroke-width="0.5"/>
<line x1="267.2" y1="313.8" x2="267.2" y2="568.3" stroke="#eef1f4" stroke-width="0.5"/>
<line x1="282.8" y1="313.8" x2="282.8" y2="568.3" stroke="#eef1f4" stroke-width="0.5"/>
<line x1="298.5" y1="313.8" x2="298.5" y2="568.3" stroke="#eef1f4" stroke-width="0.5"/>
<line x1="314.1" y1="313.8" x2="314.1" y2="568.3" stroke="#eef1f4" stroke-width="0.5"/>
<line x1="329.7" y1="313.8" x2="329.7" y2="568.3" stroke="#eef1f4" stroke-width="0.5"/>
<line x1="345.4" y1="313.8" x2="345.4" y2="568.3" stroke="#eef1f4" stroke-width="0.5"/>
<line x1="361.0" y1="313.8" x2="361.0" y2="568.3" stroke="#eef1f4" stroke-width="0.5"/>
<line x1="376.7" y1="313.8" x2="376.7" y2="568.3" stroke="#eef1f4" stroke-width="0.5"/>
<line x1="392.3" y1="313.8" x2="392.3" y2="568.3" stroke="#eef1f4" stroke-width="0.5"/>
<line x1="407.9" y1="313.8" x2="407.9" y2="568.3" stroke="#eef1f4" stroke-width="0.5"/>
<line x1="423.6" y1="313.8" x2="423.6" y2="568.3" stroke="#eef1f4" stroke-width="0.5"/>
<line x1="439.2" y1="313.8" x2="439.2" y2="568.3" stroke="#eef1f4" stroke-width="0.5"/>
<line x1="454.9" y1="313.8" x2="454.9" y2="568.3" stroke="#eef1f4" stroke-width="0.5"/>
<path d="M79.5 334.4 L156.2 352.0 L160.0 360.0 L164.6 372.2 L170.2 380.6 L175.8 382.0 L181.0 380.0 L189.8 377.2 L200.0 377.2 L241.4 377.8 L249.8 372.2 L259.6 367.2 L270.0 365.5 L283.4 364.6 L294.6 361.0 L305.8 354.8 L317.0 348.4 L328.2 342.8 L336.6 337.2 L346.5 329.8 L361.4 323.2 L377.9 318.9 L420.0 316.3 L471.3 314.9 L471.3 478.7 L434.0 486.0 L412.0 489.3 L394.4 494.3 L368.0 495.2 L341.0 495.5 L333.8 499.8 L328.2 504.0 L324.0 518.0 L317.0 529.2 L305.8 535.4 L294.6 533.4 L283.4 532.0 L272.2 537.0 L261.0 540.4 L249.8 548.8 L238.6 557.2 L227.4 562.8 L216.2 565.6 L205.0 564.2 L198.2 562.8 L187.0 558.6 L175.8 543.2 L164.6 532.0 L131.0 525.8 L103.0 518.0 L79.5 508.2 Z" fill="#eaf1fa"/>
<path d="M79.5 424.2 L195.4 432.6 L197.4 433.0 L197.4 474.6 L205.0 478.8 L216.2 482.2 L230.2 483.0 L241.4 480.2 L248.4 474.6 L251.2 462.0 L252.6 436.6 L255.4 417.0 L256.8 400.2 L259.6 387.6 L265.2 382.0 L275.0 380.0 L284.8 380.0 L289.0 383.4 L294.6 389.0 L300.2 392.4 L308.6 392.4 L317.0 390.4 L325.4 386.2 L333.8 378.4 L346.5 369.4 L368.0 367.7 L401.0 366.0 L434.0 364.4 L471.3 362.0 L471.3 478.7 L434.0 486.0 L412.0 489.3 L394.4 494.3 L368.0 495.2 L341.0 495.5 L333.8 499.8 L328.2 504.0 L324.0 518.0 L317.0 529.2 L305.8 535.4 L294.6 533.4 L283.4 532.0 L272.2 537.0 L261.0 540.4 L249.8 548.8 L238.6 557.2 L227.4 562.8 L216.2 565.6 L205.0 564.2 L198.2 562.8 L187.0 558.6 L175.8 543.2 L164.6 532.0 L131.0 525.8 L103.0 518.0 L79.5 508.2 Z" fill="#c9def2"/>
<line x1="165.5" y1="313.8" x2="165.5" y2="568.3" stroke="#555" stroke-width="0.6" stroke-dasharray="1 1.3"/>
<line x1="196.8" y1="313.8" x2="196.8" y2="568.3" stroke="#555" stroke-width="0.6" stroke-dasharray="1 1.3"/>
<line x1="260.2" y1="313.8" x2="260.2" y2="568.3" stroke="#555" stroke-width="0.6" stroke-dasharray="1 1.3"/>
<line x1="298.5" y1="313.8" x2="298.5" y2="568.3" stroke="#555" stroke-width="0.6" stroke-dasharray="1 1.3"/>
<line x1="346.2" y1="313.8" x2="346.2" y2="568.3" stroke="#555" stroke-width="0.6" stroke-dasharray="1 1.3"/>
<line x1="79.5" y1="326.6" x2="106.4" y2="326.6" stroke="#555" stroke-width="1.1"/>
<text x="108.8" y="329.1" font-size="6.95" text-anchor="start" font-weight="bold" fill="#555" >ENSO</text>
<line x1="130.4" y1="326.6" x2="145.0" y2="326.6" stroke="#8c8c8c" stroke-width="0.5"/>
<line x1="145.0" y1="326.6" x2="157.6" y2="326.6" stroke="#6a6a6a" stroke-width="0.75" stroke-dasharray="0.9 1.3"/>
<line x1="231.6" y1="332.4" x2="251.2" y2="332.4" stroke="#6a6a6a" stroke-width="0.75" stroke-dasharray="0.9 1.3"/>
<line x1="251.2" y1="332.4" x2="335.0" y2="332.4" stroke="#707070" stroke-width="0.9"/>
<line x1="335.0" y1="332.4" x2="471.3" y2="332.4" stroke="#555" stroke-width="1.1"/>
<line x1="79.5" y1="355.1" x2="83.4" y2="355.1" stroke="#555" stroke-width="1.1"/>
<line x1="108.6" y1="355.1" x2="156.8" y2="355.1" stroke="#585858" stroke-width="1.5"/>
<line x1="156.8" y1="353.3" x2="236.0" y2="353.3" stroke="#6a6a6a" stroke-width="0.75" stroke-dasharray="0.9 1.3"/>
<line x1="182.8" y1="355.4" x2="203.8" y2="355.4" stroke="#6a6a6a" stroke-width="0.75" stroke-dasharray="0.9 1.3"/>
<line x1="236.0" y1="353.5" x2="335.0" y2="353.5" stroke="#707070" stroke-width="0.9"/>
<line x1="335.0" y1="353.6" x2="471.3" y2="353.6" stroke="#555" stroke-width="1.1"/>
<path d="M79.5 367.2Q81.4 366.0 83.3 367.2Q85.3 368.4 87.2 367.2Q89.1 366.0 91.0 367.2Q93.0 368.4 94.9 367.2Q96.8 366.0 98.7 367.2Q100.7 368.4 102.6 367.2Q104.5 366.0 106.4 367.2Q108.4 368.4 110.3 367.2Q112.2 366.0 114.1 367.2Q116.1 368.4 118.0 367.2Q119.9 366.0 121.8 367.2Q123.8 368.4 125.7 367.2Q127.6 366.0 129.5 367.2Q131.5 368.4 133.4 367.2Q135.3 366.0 137.2 367.2Q139.2 368.4 141.1 367.2Q143.0 366.0 144.9 367.2Q145.0 368.4 145.0 367.2" fill="none" stroke="#505050" stroke-width="1.5"/>
<line x1="145.0" y1="367.2" x2="229.0" y2="367.2" stroke="#6a6a6a" stroke-width="0.75" stroke-dasharray="0.9 1.3"/>
<path d="M79.5 370.5Q81.4 369.3 83.3 370.5Q85.3 371.7 87.2 370.5Q89.1 369.3 91.0 370.5Q93.0 371.7 94.9 370.5Q96.8 369.3 98.7 370.5Q100.7 371.7 102.6 370.5Q104.5 369.3 106.4 370.5Q108.4 371.7 110.3 370.5Q112.2 369.3 114.1 370.5Q116.1 371.7 118.0 370.5Q119.9 369.3 121.8 370.5Q123.8 371.7 125.7 370.5Q127.6 369.3 129.5 370.5Q131.5 371.7 133.4 370.5Q135.3 369.3 137.2 370.5Q139.2 371.7 141.1 370.5Q143.0 369.3 144.9 370.5Q145.0 371.7 145.0 370.5" fill="none" stroke="#505050" stroke-width="1.5"/>
<line x1="145.0" y1="370.5" x2="168.8" y2="370.5" stroke="#585858" stroke-width="1.5"/>
<line x1="168.8" y1="370.5" x2="229.0" y2="370.5" stroke="#6a6a6a" stroke-width="0.75" stroke-dasharray="0.9 1.3"/>
<line x1="408.3" y1="372.0" x2="471.3" y2="372.0" stroke="#585858" stroke-width="1.5"/>
<path d="M79.5 382.6Q81.4 381.4 83.3 382.6Q85.3 383.8 87.2 382.6Q89.1 381.4 91.0 382.6Q93.0 383.8 94.9 382.6Q96.8 381.4 98.7 382.6Q100.7 383.8 102.6 382.6Q104.5 381.4 106.4 382.6Q108.4 383.8 110.3 382.6Q112.2 381.4 114.1 382.6Q116.1 383.8 118.0 382.6Q119.9 381.4 121.8 382.6Q123.8 383.8 125.7 382.6Q127.6 381.4 129.5 382.6Q129.6 383.8 129.6 382.6" fill="none" stroke="#505050" stroke-width="1.5"/>
<line x1="129.6" y1="382.6" x2="200.0" y2="382.6" stroke="#555" stroke-width="1.1"/>
<line x1="200.0" y1="382.6" x2="227.0" y2="382.6" stroke="#6a6a6a" stroke-width="0.75" stroke-dasharray="0.9 1.3"/>
<line x1="79.5" y1="389.8" x2="145.0" y2="389.8" stroke="#585858" stroke-width="1.5"/>
<line x1="145.0" y1="389.8" x2="158.0" y2="389.8" stroke="#6a6a6a" stroke-width="0.75" stroke-dasharray="0.9 1.3"/>
<line x1="158.2" y1="387.9" x2="173.0" y2="387.9" stroke="#585858" stroke-width="1.5"/>
<line x1="173.0" y1="387.9" x2="259.6" y2="387.9" stroke="#6a6a6a" stroke-width="0.75" stroke-dasharray="0.9 1.3"/>
<line x1="259.6" y1="387.9" x2="386.2" y2="387.9" stroke="#585858" stroke-width="1.5"/>
<line x1="386.2" y1="387.9" x2="409.3" y2="387.9" stroke="#b4b4b4" stroke-width="0.6"/>
<line x1="409.3" y1="387.9" x2="471.3" y2="387.9" stroke="#585858" stroke-width="1.5"/>
<line x1="79.5" y1="400.2" x2="262" y2="400.2" stroke="#c2c6ca" stroke-width="1.0"/>
<line x1="262.0" y1="400.2" x2="335.0" y2="400.2" stroke="#707070" stroke-width="0.9"/>
<line x1="335.0" y1="400.2" x2="471.3" y2="400.2" stroke="#555" stroke-width="1.1"/>
<path d="M79.5 434.9Q81.9 433.3 84.2 434.9Q86.6 436.5 89.0 434.9Q91.4 433.3 93.8 434.9Q96.1 436.5 98.5 434.9Q100.9 433.3 103.2 434.9Q105.6 436.5 108.0 434.9Q110.4 433.3 112.8 434.9Q115.1 436.5 117.5 434.9Q119.9 433.3 122.2 434.9Q124.6 436.5 127.0 434.9Q129.4 433.3 131.8 434.9Q134.1 436.5 136.5 434.9Q138.9 433.3 141.2 434.9Q143.6 436.5 146.0 434.9Q148.0 433.3 150.0 434.9" fill="none" stroke="#2a2a2a" stroke-width="1.0"/>
<line x1="150.0" y1="434.9" x2="199.0" y2="434.9" stroke="#8c8c8c" stroke-width="0.5"/>
<line x1="254.0" y1="435.3" x2="351.5" y2="435.3" stroke="#2e2e2e" stroke-width="1.9"/>
<line x1="261.0" y1="436.7" x2="312.0" y2="436.7" stroke="#2e2e2e" stroke-width="1.9"/>
<line x1="262.0" y1="440.2" x2="330.0" y2="440.2" stroke="#555" stroke-width="1.1"/>
<line x1="79.5" y1="437.3" x2="200.0" y2="437.3" stroke="#3a3a3a" stroke-width="1.3"/>
<line x1="200.0" y1="438.2" x2="252.0" y2="438.2" stroke="#6a6a6a" stroke-width="0.75" stroke-dasharray="0.9 1.3"/>
<line x1="252.0" y1="438.4" x2="471.3" y2="438.4" stroke="#2c2c2c" stroke-width="2.3"/>
<path d="M79.5 439.6Q81.6 438.2 83.7 439.6Q85.8 441.0 87.9 439.6Q90.0 438.2 92.1 439.6Q94.2 441.0 96.3 439.6Q98.4 438.2 100.5 439.6Q102.6 441.0 104.7 439.6Q106.8 438.2 108.9 439.6Q111.0 441.0 113.1 439.6Q115.2 438.2 117.3 439.6Q119.4 441.0 121.5 439.6Q123.6 438.2 125.7 439.6Q127.8 441.0 129.9 439.6Q132.0 438.2 134.1 439.6Q136.2 441.0 138.3 439.6Q140.4 438.2 142.5 439.6Q144.6 441.0 146.7 439.6Q148.8 438.2 150.9 439.6Q153.0 441.0 155.1 439.6Q157.2 438.2 159.3 439.6Q161.4 441.0 163.5 439.6Q165.6 438.2 167.7 439.6Q169.8 441.0 171.9 439.6Q173.4 438.2 175.0 439.6" fill="none" stroke="#555" stroke-width="0.9"/>
<line x1="175.0" y1="439.6" x2="199.0" y2="439.6" stroke="#8c8c8c" stroke-width="0.5"/>
<path d="M79.5 441.9Q81.8 440.5 84.0 441.9Q86.2 443.3 88.5 441.9Q90.8 440.5 93.0 441.9Q95.2 443.3 97.5 441.9Q99.8 440.5 102.0 441.9Q104.2 443.3 106.5 441.9Q108.8 440.5 111.0 441.9Q113.2 443.3 115.5 441.9Q117.8 440.5 120.0 441.9Q122.2 443.3 124.5 441.9Q126.8 440.5 129.0 441.9Q131.2 443.3 133.5 441.9Q135.8 440.5 138.0 441.9Q140.2 443.3 142.5 441.9Q144.8 440.5 147.0 441.9Q149.2 443.3 151.5 441.9Q153.8 440.5 156.0 441.9Q158.0 443.3 160.0 441.9" fill="none" stroke="#2a2a2a" stroke-width="1.2"/>
<path d="M199.0 441.9 L160.0 441.1 L160.0 442.7 Z" fill="#2a2a2a"/>
<line x1="198.0" y1="441.0" x2="252.0" y2="441.0" stroke="#6a6a6a" stroke-width="0.75" stroke-dasharray="0.9 1.3"/>
<line x1="198.0" y1="442.6" x2="252.0" y2="442.6" stroke="#6a6a6a" stroke-width="0.75" stroke-dasharray="0.9 1.3"/>
<line x1="252.0" y1="441.7" x2="390.4" y2="441.7" stroke="#2e2e2e" stroke-width="1.9"/>
<path d="M197.0 452.2 L79.5 451.2 L79.5 453.1 Z" fill="#333"/>
<line x1="200.0" y1="452.2" x2="254.0" y2="452.2" stroke="#6a6a6a" stroke-width="0.75" stroke-dasharray="0.9 1.3"/>
<line x1="254.0" y1="452.2" x2="346.5" y2="452.2" stroke="#2e2e2e" stroke-width="1.9"/>
<line x1="346.5" y1="452.2" x2="357.4" y2="452.2" stroke="#8c8c8c" stroke-width="0.5"/>
<path d="M79.5 462.0Q82.2 460.2 85.0 462.0Q87.8 463.8 90.5 462.0Q93.2 460.2 96.0 462.0Q98.8 463.8 101.5 462.0Q104.2 460.2 107.0 462.0Q109.8 463.8 112.5 462.0Q115.2 460.2 118.0 462.0Q118.9 463.8 119.8 462.0" fill="none" stroke="#333" stroke-width="1.2"/>
<line x1="119.8" y1="462.0" x2="185.6" y2="462.0" stroke="#555" stroke-width="1.1"/>
<line x1="185.6" y1="462.0" x2="272.0" y2="462.0" stroke="#6a6a6a" stroke-width="0.75" stroke-dasharray="0.9 1.3"/>
<line x1="272.2" y1="462.0" x2="308.6" y2="462.0" stroke="#585858" stroke-width="1.5"/>
<line x1="308.6" y1="462.0" x2="334.0" y2="462.0" stroke="#8c8c8c" stroke-width="0.5"/>
<path d="M199.0 475.4 L79.5 474.4 L79.5 476.3 Z" fill="#333"/>
<line x1="199.0" y1="475.4" x2="277.8" y2="475.4" stroke="#6a6a6a" stroke-width="0.75" stroke-dasharray="0.9 1.3"/>
<line x1="277.8" y1="475.4" x2="305.8" y2="475.4" stroke="#585858" stroke-width="1.5"/>
<line x1="305.8" y1="475.4" x2="315.0" y2="475.4" stroke="#8c8c8c" stroke-width="0.5"/>
<line x1="315.0" y1="475.4" x2="419.8" y2="475.4" stroke="#585858" stroke-width="1.5"/>
<line x1="79.5" y1="501.2" x2="336.6" y2="501.2" stroke="#3a3a3a" stroke-width="1.3"/>
<line x1="155.4" y1="526.4" x2="301.6" y2="526.4" stroke="#2e2e2e" stroke-width="1.9"/>
<line x1="79.5" y1="530.0" x2="213.0" y2="530.0" stroke="#8c8c8c" stroke-width="0.5"/>
<path d="M272.2 530.0 L213.4 528.8 L213.4 531.2 Z" fill="#444"/>
<line x1="272.0" y1="530.0" x2="300.0" y2="530.0" stroke="#8c8c8c" stroke-width="0.5"/>
<line x1="261.0" y1="534.2" x2="272.0" y2="534.2" stroke="#555" stroke-width="1.1"/>
<line x1="272.0" y1="534.2" x2="322.6" y2="534.2" stroke="#8c8c8c" stroke-width="0.5"/>
<line x1="322.6" y1="534.2" x2="354.8" y2="534.2" stroke="#b4b4b4" stroke-width="0.6"/>
<line x1="79.5" y1="560.9" x2="187.0" y2="560.9" stroke="#8c8c8c" stroke-width="0.5"/>
<line x1="187.0" y1="560.9" x2="233.0" y2="560.9" stroke="#2e2e2e" stroke-width="1.9"/>
<line x1="233.0" y1="560.9" x2="251.0" y2="560.9" stroke="#8c8c8c" stroke-width="0.5"/>
<path d="M79.5 334.4 L156.2 352.0C156.6 352.9 159.0 357.6 160.0 360.0C161.0 362.4 163.4 369.8 164.6 372.2C165.8 374.6 168.9 379.5 170.2 380.6C171.5 381.7 174.5 382.1 175.8 382.0C177.1 381.9 179.4 380.6 181.0 380.0C182.6 379.4 187.6 377.5 189.8 377.2C192.0 376.9 194.0 377.1 200.0 377.2C206.0 377.3 235.6 378.4 241.4 377.8C247.2 377.2 247.7 373.4 249.8 372.2C251.9 371.0 257.2 368.0 259.6 367.2C262.0 366.4 267.2 365.8 270.0 365.5C272.8 365.2 280.5 365.1 283.4 364.6C286.3 364.1 292.0 362.1 294.6 361.0C297.2 359.9 303.2 356.3 305.8 354.8C308.4 353.3 314.4 349.8 317.0 348.4C319.6 347.0 325.9 344.1 328.2 342.8C330.5 341.5 334.5 338.7 336.6 337.2C338.7 335.7 345.3 330.7 346.5 329.8" fill="none" stroke="#111" stroke-width="1.7" stroke-dasharray="2.8 2.2"/>
<path d="M346.5 329.8C348.2 329.0 357.7 324.5 361.4 323.2C365.1 321.9 376.0 319.4 377.9 318.9" fill="none" stroke="#8a8a8a" stroke-width="1.5" stroke-dasharray="2.3 2.1"/>
<path d="M79.5 508.2 L103.0 518.0 L131.0 525.8 L164.6 532.0 L175.8 543.2 L187.0 558.6 L198.2 562.8 L205.0 564.2 L216.2 565.6 L227.4 562.8 L238.6 557.2 L249.8 548.8 L261.0 540.4 L272.2 537.0 L283.4 532.0 L294.6 533.4 L305.8 535.4 L317.0 529.2 L324.0 518.0 L328.2 504.0 L333.8 499.8 L341.0 495.5" fill="none" stroke="#8a8a8a" stroke-width="1.6" stroke-dasharray="2.3 2.1"/>
<path d="M79.5 424.2 L195.4 432.6 L197.4 433.0 L197.4 474.6 L205.0 478.8 L216.2 482.2 L230.2 483.0 L241.4 480.2 L248.4 474.6 L251.2 462.0 L252.6 436.6" fill="none" stroke="#8a8a8a" stroke-width="1.6" stroke-dasharray="2.3 2.1"/>
<path d="M252.6 436.6 L255.4 417.0 L256.8 400.2 L259.6 387.6 L265.2 382.0 L275.0 380.0 L284.8 380.0 L289.0 383.4 L294.6 389.0 L300.2 392.4 L308.6 392.4 L317.0 390.4 L325.4 386.2 L333.8 378.4 L346.5 369.4 L368.0 367.7 L401.0 366.0 L434.0 364.4 L471.3 362.0" fill="none" stroke="#111" stroke-width="1.7" stroke-dasharray="2.8 2.2"/>
<text x="322.0" y="326.8" font-size="7.6" text-anchor="start" font-weight="bold" fill="#555" >SPH</text>
<text x="391.0" y="343.2" font-size="7.1" text-anchor="start" font-weight="bold" fill="#555" >SWW-peripheral</text>
<text x="401.0" y="396.8" font-size="7.1" text-anchor="start" font-weight="bold" fill="#555" >SWW-core</text>
<text x="397.7" y="320.5" font-size="6.5" text-anchor="middle" font-weight="normal" fill="#555" >?</text>
<text x="341.2" y="498.0" font-size="6.5" text-anchor="middle" font-weight="normal" fill="#555" >?</text>
<text x="412.0" y="491.5" font-size="6.5" text-anchor="middle" font-weight="normal" fill="#555" >?</text>
</g>
<rect x="79.5" y="313.8" width="391.8" height="254.5" fill="none" stroke="#333" stroke-width="1.45"/>
<text x="81.3" y="323.4" font-size="11.0" text-anchor="start" font-weight="bold" fill="#111" >(d)</text>
<line x1="79.5" y1="568.3" x2="79.5" y2="571.3" stroke="#333" stroke-width="0.9"/>
<text x="79.5" y="577.6" font-size="7.6" text-anchor="middle" font-weight="normal" fill="#4a4a4a" >0</text>
<line x1="95.1" y1="568.3" x2="95.1" y2="571.3" stroke="#333" stroke-width="0.9"/>
<text x="95.1" y="577.6" font-size="7.6" text-anchor="middle" font-weight="normal" fill="#4a4a4a" >1</text>
<line x1="110.8" y1="568.3" x2="110.8" y2="571.3" stroke="#333" stroke-width="0.9"/>
<text x="110.8" y="577.6" font-size="7.6" text-anchor="middle" font-weight="normal" fill="#4a4a4a" >2</text>
<line x1="126.4" y1="568.3" x2="126.4" y2="571.3" stroke="#333" stroke-width="0.9"/>
<text x="126.4" y="577.6" font-size="7.6" text-anchor="middle" font-weight="normal" fill="#4a4a4a" >3</text>
<line x1="142.1" y1="568.3" x2="142.1" y2="571.3" stroke="#333" stroke-width="0.9"/>
<text x="142.1" y="577.6" font-size="7.6" text-anchor="middle" font-weight="normal" fill="#4a4a4a" >4</text>
<line x1="157.7" y1="568.3" x2="157.7" y2="571.3" stroke="#333" stroke-width="0.9"/>
<text x="157.7" y="577.6" font-size="7.6" text-anchor="middle" font-weight="normal" fill="#4a4a4a" >5</text>
<line x1="173.3" y1="568.3" x2="173.3" y2="571.3" stroke="#333" stroke-width="0.9"/>
<text x="173.3" y="577.6" font-size="7.6" text-anchor="middle" font-weight="normal" fill="#4a4a4a" >6</text>
<line x1="189.0" y1="568.3" x2="189.0" y2="571.3" stroke="#333" stroke-width="0.9"/>
<text x="189.0" y="577.6" font-size="7.6" text-anchor="middle" font-weight="normal" fill="#4a4a4a" >7</text>
<line x1="204.6" y1="568.3" x2="204.6" y2="571.3" stroke="#333" stroke-width="0.9"/>
<text x="204.6" y="577.6" font-size="7.6" text-anchor="middle" font-weight="normal" fill="#4a4a4a" >8</text>
<line x1="220.3" y1="568.3" x2="220.3" y2="571.3" stroke="#333" stroke-width="0.9"/>
<text x="220.3" y="577.6" font-size="7.6" text-anchor="middle" font-weight="normal" fill="#4a4a4a" >9</text>
<line x1="235.9" y1="568.3" x2="235.9" y2="571.3" stroke="#333" stroke-width="0.9"/>
<text x="235.9" y="577.6" font-size="7.6" text-anchor="middle" font-weight="normal" fill="#4a4a4a" >10</text>
<line x1="251.5" y1="568.3" x2="251.5" y2="571.3" stroke="#333" stroke-width="0.9"/>
<text x="251.5" y="577.6" font-size="7.6" text-anchor="middle" font-weight="normal" fill="#4a4a4a" >11</text>
<line x1="267.2" y1="568.3" x2="267.2" y2="571.3" stroke="#333" stroke-width="0.9"/>
<text x="267.2" y="577.6" font-size="7.6" text-anchor="middle" font-weight="normal" fill="#4a4a4a" >12</text>
<line x1="282.8" y1="568.3" x2="282.8" y2="571.3" stroke="#333" stroke-width="0.9"/>
<text x="282.8" y="577.6" font-size="7.6" text-anchor="middle" font-weight="normal" fill="#4a4a4a" >13</text>
<line x1="298.5" y1="568.3" x2="298.5" y2="571.3" stroke="#333" stroke-width="0.9"/>
<text x="298.5" y="577.6" font-size="7.6" text-anchor="middle" font-weight="normal" fill="#4a4a4a" >14</text>
<line x1="314.1" y1="568.3" x2="314.1" y2="571.3" stroke="#333" stroke-width="0.9"/>
<text x="314.1" y="577.6" font-size="7.6" text-anchor="middle" font-weight="normal" fill="#4a4a4a" >15</text>
<line x1="329.7" y1="568.3" x2="329.7" y2="571.3" stroke="#333" stroke-width="0.9"/>
<text x="329.7" y="577.6" font-size="7.6" text-anchor="middle" font-weight="normal" fill="#4a4a4a" >16</text>
<line x1="345.4" y1="568.3" x2="345.4" y2="571.3" stroke="#333" stroke-width="0.9"/>
<text x="345.4" y="577.6" font-size="7.6" text-anchor="middle" font-weight="normal" fill="#4a4a4a" >17</text>
<line x1="361.0" y1="568.3" x2="361.0" y2="571.3" stroke="#333" stroke-width="0.9"/>
<text x="361.0" y="577.6" font-size="7.6" text-anchor="middle" font-weight="normal" fill="#4a4a4a" >18</text>
<line x1="376.7" y1="568.3" x2="376.7" y2="571.3" stroke="#333" stroke-width="0.9"/>
<text x="376.7" y="577.6" font-size="7.6" text-anchor="middle" font-weight="normal" fill="#4a4a4a" >19</text>
<line x1="392.3" y1="568.3" x2="392.3" y2="571.3" stroke="#333" stroke-width="0.9"/>
<text x="392.3" y="577.6" font-size="7.6" text-anchor="middle" font-weight="normal" fill="#4a4a4a" >20</text>
<line x1="407.9" y1="568.3" x2="407.9" y2="571.3" stroke="#333" stroke-width="0.9"/>
<text x="407.9" y="577.6" font-size="7.6" text-anchor="middle" font-weight="normal" fill="#4a4a4a" >21</text>
<line x1="423.6" y1="568.3" x2="423.6" y2="571.3" stroke="#333" stroke-width="0.9"/>
<text x="423.6" y="577.6" font-size="7.6" text-anchor="middle" font-weight="normal" fill="#4a4a4a" >22</text>
<line x1="439.2" y1="568.3" x2="439.2" y2="571.3" stroke="#333" stroke-width="0.9"/>
<text x="439.2" y="577.6" font-size="7.6" text-anchor="middle" font-weight="normal" fill="#4a4a4a" >23</text>
<line x1="454.9" y1="568.3" x2="454.9" y2="571.3" stroke="#333" stroke-width="0.9"/>
<text x="454.9" y="577.6" font-size="7.6" text-anchor="middle" font-weight="normal" fill="#4a4a4a" >24</text>
<line x1="470.5" y1="568.3" x2="470.5" y2="571.3" stroke="#333" stroke-width="0.9"/>
<text x="470.5" y="577.6" font-size="7.6" text-anchor="middle" font-weight="normal" fill="#4a4a4a" >25</text>
<text x="276.3" y="588.8" font-size="10.05" text-anchor="middle" font-weight="normal" fill="#222" >Age ka BP</text>
<text x="475.0" y="323.2" font-size="10.6" text-anchor="start" font-weight="bold" fill="#111" >Ref.</text>
<text x="473.6" y="337.0" font-size="7.2" text-anchor="start" font-weight="normal" fill="#222" >1</text>
<text x="473.6" y="352.2" font-size="7.2" text-anchor="start" font-weight="normal" fill="#222" >2-4</text>
<text x="473.6" y="368.4" font-size="7.2" text-anchor="start" font-weight="normal" fill="#222" >5,6,7</text>
<text x="473.6" y="381.6" font-size="7.2" text-anchor="start" font-weight="normal" fill="#222" >9-11</text>
<text x="473.6" y="389.2" font-size="7.2" text-anchor="start" font-weight="normal" fill="#222" >12,13</text>
<text x="473.6" y="400.0" font-size="7.2" text-anchor="start" font-weight="normal" fill="#222" >14,15</text>
<text x="473.6" y="436.4" font-size="7.2" text-anchor="start" font-weight="normal" fill="#222" >16-18</text>
<text x="473.6" y="442.6" font-size="7.2" text-anchor="start" font-weight="normal" fill="#222" >19-25</text>
<text x="473.6" y="454.6" font-size="7.2" text-anchor="start" font-weight="normal" fill="#222" >26-27</text>
<text x="473.6" y="464.5" font-size="7.2" text-anchor="start" font-weight="normal" fill="#222" >28</text>
<text x="473.6" y="477.8" font-size="7.2" text-anchor="start" font-weight="normal" fill="#222" >29</text>
<text x="473.6" y="501.5" font-size="7.2" text-anchor="start" font-weight="normal" fill="#222" >30</text>
<text x="473.6" y="533.8" font-size="7.2" text-anchor="start" font-weight="normal" fill="#222" >31,32</text>
<text x="473.6" y="539.4" font-size="7.2" text-anchor="start" font-weight="normal" fill="#222" >33</text>
<text x="473.6" y="561.9" font-size="7.2" text-anchor="start" font-weight="normal" fill="#222" >34</text>
<text x="476.2" y="374.3" font-size="7.2" text-anchor="start" font-weight="normal" fill="#222" >8</text>
<line x1="472" y1="355.2" x2="477.8" y2="355.2" stroke="#e0742a" stroke-width="2.2"/>
<line x1="472" y1="375.3" x2="477.8" y2="375.3" stroke="#e0742a" stroke-width="2.2"/>
<line x1="472" y1="401.4" x2="477.8" y2="401.4" stroke="#e0742a" stroke-width="2.2"/>
<text x="15.3" y="599.2" font-size="7.8" text-anchor="start" font-weight="bold" fill="#111" >Paleoclimate conditions based on previously published literature</text>
<line x1="17.7" y1="608.5" x2="35.7" y2="608.5" stroke="#6a6a6a" stroke-width="0.75" stroke-dasharray="0.9 1.3"/>
<text x="40.8" y="610.6" font-size="7.8" text-anchor="start" font-weight="normal" fill="#222" >dry (and/or warm*)</text>
<line x1="17.7" y1="618" x2="35.7" y2="618" stroke="#8c8c8c" stroke-width="0.5"/>
<text x="39.8" y="620.0" font-size="7.8" text-anchor="start" font-weight="normal" fill="#222" >less dry (and/or less warm*)</text>
<line x1="17.7" y1="628" x2="35.7" y2="628" stroke="#777" stroke-width="1.4"/>
<text x="39.8" y="630.3" font-size="7.8" text-anchor="start" font-weight="normal" fill="#222" >wet (and/or cold*)</text>
<text x="23.1" y="647.3" font-size="7.8" text-anchor="start" font-weight="normal" fill="#222" >*see figure caption</text>
<line x1="169.5" y1="608.2" x2="186.5" y2="608.2" stroke="#333" stroke-width="1.8"/>
<text x="193.0" y="610.4" font-size="7.8" text-anchor="start" font-weight="normal" fill="#222" >wetter (or colder*)</text>
<path d="M169.5 617.7 L186.5 616.7 L186.5 618.7 Z" fill="#333"/>
<text x="193.0" y="620.0" font-size="7.8" text-anchor="start" font-weight="normal" fill="#222" >gradual change</text>
<path d="M169.5 627.2Q171.6 625.0 173.8 627.2Q175.9 629.4 178.0 627.2Q180.1 625.0 182.2 627.2Q184.4 629.4 186.5 627.2" fill="none" stroke="#333" stroke-width="1.0"/>
<text x="193.0" y="629.8" font-size="7.8" text-anchor="start" font-weight="normal" fill="#222" >climate variability,</text>
<text x="193.0" y="639.3" font-size="7.8" text-anchor="start" font-weight="normal" fill="#222" >seasonality</text>
<text x="275.0" y="600.0" font-size="7.75" text-anchor="start" font-weight="bold" fill="#111" >SWWs and SPH influences</text>
<line x1="275.6" y1="608.2" x2="291" y2="608.2" stroke="#111" stroke-width="1.5" stroke-dasharray="2.2 2"/>
<text x="296.7" y="610.4" font-size="7.8" text-anchor="start" font-weight="normal" fill="#222" >based on the δ<tspan font-size="5" dy="-2.6">2</tspan><tspan dy="2.6">H </tspan><tspan font-style="italic">n</tspan>-C<tspan font-size="5" dy="1.6">31</tspan></text>
<text x="296.7" y="620.0" font-size="7.8" text-anchor="start" font-weight="normal" fill="#222" >records and previously</text>
<text x="296.7" y="629.8" font-size="7.8" text-anchor="start" font-weight="normal" fill="#222" >published literature</text>
<rect x="276.3" y="634.7" width="17" height="7.8" fill="#eaf1fa"/>
<text x="297.7" y="640.7" font-size="7.8" text-anchor="start" font-weight="normal" fill="#222" >SWW-<tspan font-style="italic">peripheral</tspan> influence</text>
<rect x="276.3" y="644.2" width="17" height="7.6" fill="#c9def2"/>
<text x="297.7" y="650.2" font-size="7.8" text-anchor="start" font-weight="normal" fill="#222" >SWW-<tspan font-style="italic">core</tspan> influence</text>
<line x1="394" y1="606.5" x2="409" y2="606.5" stroke="#8a8a8a" stroke-width="1.2" stroke-dasharray="2.2 2"/>
<text x="413.3" y="609.2" font-size="7.8" text-anchor="start" font-weight="normal" fill="#222" >based on previously</text>
<text x="413.3" y="618.8" font-size="7.8" text-anchor="start" font-weight="normal" fill="#222" >published literature</text>
</svg>
</body></html>
